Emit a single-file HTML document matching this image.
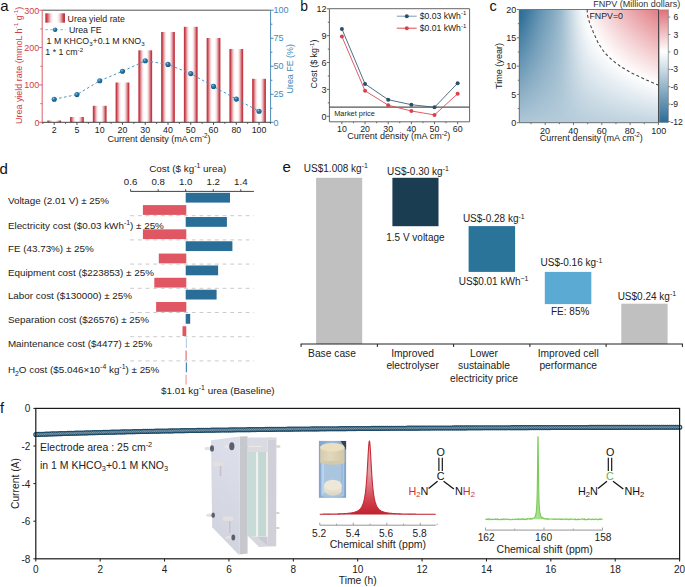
<!DOCTYPE html>
<html><head><meta charset="utf-8"><style>
html,body{margin:0;padding:0;background:#fff;width:685px;height:587px;overflow:hidden}
svg{display:block;font-family:"Liberation Sans", sans-serif}
</style></head><body>
<svg width="685" height="587" viewBox="0 0 685 587">
<defs>
<linearGradient id="barg" x1="0" x2="1" y1="0" y2="0">
<stop offset="0" stop-color="#c0343e"/><stop offset="0.08" stop-color="#c63f49"/>
<stop offset="0.16" stop-color="#d9828a"/><stop offset="0.28" stop-color="#f3d6d9"/>
<stop offset="0.4" stop-color="#ffffff"/><stop offset="0.6" stop-color="#ffffff"/>
<stop offset="0.72" stop-color="#f3d6d9"/><stop offset="0.84" stop-color="#d9828a"/>
<stop offset="0.92" stop-color="#c63f49"/><stop offset="1" stop-color="#c0343e"/></linearGradient>
<radialGradient id="dotg" cx="0.38" cy="0.35" r="0.65">
<stop offset="0" stop-color="#9cc8e4"/><stop offset="0.35" stop-color="#2f7fb0"/><stop offset="1" stop-color="#14557f"/></radialGradient>
<linearGradient id="h0"><stop offset="0" stop-color="#2c6d96"/><stop offset="0.05" stop-color="#38759c"/><stop offset="0.1" stop-color="#4e84a7"/><stop offset="0.15" stop-color="#6293b1"/><stop offset="0.2" stop-color="#749fba"/><stop offset="0.25" stop-color="#86abc3"/><stop offset="0.3" stop-color="#9bbacd"/><stop offset="0.35" stop-color="#bbd0dd"/><stop offset="0.4" stop-color="#dae6ed"/><stop offset="0.45" stop-color="#f6f9fb"/><stop offset="0.5" stop-color="#fcf3f4"/><stop offset="0.55" stop-color="#f9e5e6"/><stop offset="0.6" stop-color="#f6d7da"/><stop offset="0.65" stop-color="#f3cacd"/><stop offset="0.7" stop-color="#f0bec1"/><stop offset="0.75" stop-color="#edb2b6"/><stop offset="0.8" stop-color="#eaa6ab"/><stop offset="0.85" stop-color="#e89ba0"/><stop offset="0.9" stop-color="#e59096"/><stop offset="0.95" stop-color="#e3858c"/><stop offset="1" stop-color="#e17b82"/></linearGradient>
<linearGradient id="h1"><stop offset="0" stop-color="#2c6d96"/><stop offset="0.05" stop-color="#39769c"/><stop offset="0.1" stop-color="#4e85a7"/><stop offset="0.15" stop-color="#6393b1"/><stop offset="0.2" stop-color="#759fba"/><stop offset="0.25" stop-color="#86abc3"/><stop offset="0.3" stop-color="#9bbacd"/><stop offset="0.35" stop-color="#bbd0dd"/><stop offset="0.4" stop-color="#dae5ed"/><stop offset="0.45" stop-color="#f6f8fa"/><stop offset="0.5" stop-color="#fcf4f4"/><stop offset="0.55" stop-color="#f9e6e7"/><stop offset="0.6" stop-color="#f6d9db"/><stop offset="0.65" stop-color="#f3ccce"/><stop offset="0.7" stop-color="#f0bfc3"/><stop offset="0.75" stop-color="#edb3b7"/><stop offset="0.8" stop-color="#eba7ac"/><stop offset="0.85" stop-color="#e89ca2"/><stop offset="0.9" stop-color="#e69197"/><stop offset="0.95" stop-color="#e3878e"/><stop offset="1" stop-color="#e17d84"/></linearGradient>
<linearGradient id="h2"><stop offset="0" stop-color="#2c6d96"/><stop offset="0.05" stop-color="#3a779d"/><stop offset="0.1" stop-color="#4f85a8"/><stop offset="0.15" stop-color="#6493b2"/><stop offset="0.2" stop-color="#75a0ba"/><stop offset="0.25" stop-color="#87acc3"/><stop offset="0.3" stop-color="#9cbacd"/><stop offset="0.35" stop-color="#bbd0dd"/><stop offset="0.4" stop-color="#dae5ec"/><stop offset="0.45" stop-color="#f5f8fa"/><stop offset="0.5" stop-color="#fdf4f5"/><stop offset="0.55" stop-color="#f9e7e8"/><stop offset="0.6" stop-color="#f6dadc"/><stop offset="0.65" stop-color="#f3cdd0"/><stop offset="0.7" stop-color="#f1c0c4"/><stop offset="0.75" stop-color="#eeb4b8"/><stop offset="0.8" stop-color="#eba9ae"/><stop offset="0.85" stop-color="#e99ea3"/><stop offset="0.9" stop-color="#e69399"/><stop offset="0.95" stop-color="#e4888f"/><stop offset="1" stop-color="#e17f86"/></linearGradient>
<linearGradient id="h3"><stop offset="0" stop-color="#2c6d96"/><stop offset="0.05" stop-color="#3b779d"/><stop offset="0.1" stop-color="#5086a8"/><stop offset="0.15" stop-color="#6494b2"/><stop offset="0.2" stop-color="#76a0bb"/><stop offset="0.25" stop-color="#87acc3"/><stop offset="0.3" stop-color="#9cbace"/><stop offset="0.35" stop-color="#bbd0dd"/><stop offset="0.4" stop-color="#d9e5ec"/><stop offset="0.45" stop-color="#f4f8fa"/><stop offset="0.5" stop-color="#fdf5f6"/><stop offset="0.55" stop-color="#fae8e9"/><stop offset="0.6" stop-color="#f7dbdd"/><stop offset="0.65" stop-color="#f4ced1"/><stop offset="0.7" stop-color="#f1c2c5"/><stop offset="0.75" stop-color="#eeb6ba"/><stop offset="0.8" stop-color="#ebaaaf"/><stop offset="0.85" stop-color="#e99fa4"/><stop offset="0.9" stop-color="#e6949a"/><stop offset="0.95" stop-color="#e48a91"/><stop offset="1" stop-color="#e28087"/></linearGradient>
<linearGradient id="h4"><stop offset="0" stop-color="#2c6d96"/><stop offset="0.05" stop-color="#3c789e"/><stop offset="0.1" stop-color="#5187a8"/><stop offset="0.15" stop-color="#6594b2"/><stop offset="0.2" stop-color="#76a0bb"/><stop offset="0.25" stop-color="#87acc3"/><stop offset="0.3" stop-color="#9cbace"/><stop offset="0.35" stop-color="#bbd0dd"/><stop offset="0.4" stop-color="#d9e5ec"/><stop offset="0.45" stop-color="#f4f7f9"/><stop offset="0.5" stop-color="#fdf6f6"/><stop offset="0.55" stop-color="#fae9ea"/><stop offset="0.6" stop-color="#f7dcde"/><stop offset="0.65" stop-color="#f4cfd2"/><stop offset="0.7" stop-color="#f1c3c6"/><stop offset="0.75" stop-color="#eeb7bb"/><stop offset="0.8" stop-color="#ecacb0"/><stop offset="0.85" stop-color="#e9a1a6"/><stop offset="0.9" stop-color="#e7969c"/><stop offset="0.95" stop-color="#e48c92"/><stop offset="1" stop-color="#e28289"/></linearGradient>
<linearGradient id="h5"><stop offset="0" stop-color="#2c6d96"/><stop offset="0.05" stop-color="#3d799e"/><stop offset="0.1" stop-color="#5287a9"/><stop offset="0.15" stop-color="#6695b3"/><stop offset="0.2" stop-color="#77a1bb"/><stop offset="0.25" stop-color="#88adc4"/><stop offset="0.3" stop-color="#9cbbce"/><stop offset="0.35" stop-color="#bad0dd"/><stop offset="0.4" stop-color="#d9e5ec"/><stop offset="0.45" stop-color="#f3f7f9"/><stop offset="0.5" stop-color="#fdf7f7"/><stop offset="0.55" stop-color="#fae9eb"/><stop offset="0.6" stop-color="#f7ddde"/><stop offset="0.65" stop-color="#f4d0d3"/><stop offset="0.7" stop-color="#f1c4c7"/><stop offset="0.75" stop-color="#efb8bc"/><stop offset="0.8" stop-color="#ecadb2"/><stop offset="0.85" stop-color="#eaa2a7"/><stop offset="0.9" stop-color="#e7989d"/><stop offset="0.95" stop-color="#e58d94"/><stop offset="1" stop-color="#e3848b"/></linearGradient>
<linearGradient id="h6"><stop offset="0" stop-color="#2c6d96"/><stop offset="0.05" stop-color="#3e7a9f"/><stop offset="0.1" stop-color="#5388a9"/><stop offset="0.15" stop-color="#6695b3"/><stop offset="0.2" stop-color="#77a1bb"/><stop offset="0.25" stop-color="#88adc4"/><stop offset="0.3" stop-color="#9cbbce"/><stop offset="0.35" stop-color="#bad0dd"/><stop offset="0.4" stop-color="#d8e4ec"/><stop offset="0.45" stop-color="#f3f7f9"/><stop offset="0.5" stop-color="#fdf8f8"/><stop offset="0.55" stop-color="#faeaec"/><stop offset="0.6" stop-color="#f7dedf"/><stop offset="0.65" stop-color="#f4d1d4"/><stop offset="0.7" stop-color="#f2c5c8"/><stop offset="0.75" stop-color="#efbabd"/><stop offset="0.8" stop-color="#ecaeb3"/><stop offset="0.85" stop-color="#eaa4a9"/><stop offset="0.9" stop-color="#e7999f"/><stop offset="0.95" stop-color="#e58f95"/><stop offset="1" stop-color="#e3868c"/></linearGradient>
<linearGradient id="h7"><stop offset="0" stop-color="#2c6d96"/><stop offset="0.05" stop-color="#3f7aa0"/><stop offset="0.1" stop-color="#5488aa"/><stop offset="0.15" stop-color="#6796b3"/><stop offset="0.2" stop-color="#78a1bc"/><stop offset="0.25" stop-color="#89adc4"/><stop offset="0.3" stop-color="#9dbbce"/><stop offset="0.35" stop-color="#bad0dd"/><stop offset="0.4" stop-color="#d8e4ec"/><stop offset="0.45" stop-color="#f2f6f9"/><stop offset="0.5" stop-color="#fdf8f9"/><stop offset="0.55" stop-color="#faebec"/><stop offset="0.6" stop-color="#f8dfe0"/><stop offset="0.65" stop-color="#f5d2d5"/><stop offset="0.7" stop-color="#f2c6ca"/><stop offset="0.75" stop-color="#efbbbf"/><stop offset="0.8" stop-color="#edb0b4"/><stop offset="0.85" stop-color="#eaa5aa"/><stop offset="0.9" stop-color="#e89ba0"/><stop offset="0.95" stop-color="#e69197"/><stop offset="1" stop-color="#e3878e"/></linearGradient>
<linearGradient id="h8"><stop offset="0" stop-color="#2c6d96"/><stop offset="0.05" stop-color="#407ba0"/><stop offset="0.1" stop-color="#5589aa"/><stop offset="0.15" stop-color="#6896b4"/><stop offset="0.2" stop-color="#78a2bc"/><stop offset="0.25" stop-color="#89adc4"/><stop offset="0.3" stop-color="#9dbbce"/><stop offset="0.35" stop-color="#bad0dd"/><stop offset="0.4" stop-color="#d8e4ec"/><stop offset="0.45" stop-color="#f2f6f8"/><stop offset="0.5" stop-color="#fef9f9"/><stop offset="0.55" stop-color="#fbeced"/><stop offset="0.6" stop-color="#f8e0e1"/><stop offset="0.65" stop-color="#f5d3d6"/><stop offset="0.7" stop-color="#f2c8cb"/><stop offset="0.75" stop-color="#f0bcc0"/><stop offset="0.8" stop-color="#edb1b6"/><stop offset="0.85" stop-color="#eba7ac"/><stop offset="0.9" stop-color="#e89ca2"/><stop offset="0.95" stop-color="#e69399"/><stop offset="1" stop-color="#e48990"/></linearGradient>
<linearGradient id="h9"><stop offset="0" stop-color="#2d6e97"/><stop offset="0.05" stop-color="#417ca1"/><stop offset="0.1" stop-color="#558aab"/><stop offset="0.15" stop-color="#6997b4"/><stop offset="0.2" stop-color="#79a2bc"/><stop offset="0.25" stop-color="#89aec4"/><stop offset="0.3" stop-color="#9dbbce"/><stop offset="0.35" stop-color="#bacfdd"/><stop offset="0.4" stop-color="#d8e4eb"/><stop offset="0.45" stop-color="#f1f5f8"/><stop offset="0.5" stop-color="#fefafa"/><stop offset="0.55" stop-color="#fbedee"/><stop offset="0.6" stop-color="#f8e1e2"/><stop offset="0.65" stop-color="#f5d5d7"/><stop offset="0.7" stop-color="#f2c9cc"/><stop offset="0.75" stop-color="#f0bec1"/><stop offset="0.8" stop-color="#edb3b7"/><stop offset="0.85" stop-color="#eba8ad"/><stop offset="0.9" stop-color="#e99ea3"/><stop offset="0.95" stop-color="#e6949a"/><stop offset="1" stop-color="#e48b91"/></linearGradient>
<linearGradient id="h10"><stop offset="0" stop-color="#2e6f97"/><stop offset="0.05" stop-color="#427ca1"/><stop offset="0.1" stop-color="#568aab"/><stop offset="0.15" stop-color="#6997b4"/><stop offset="0.2" stop-color="#7aa3bd"/><stop offset="0.25" stop-color="#8aaec5"/><stop offset="0.3" stop-color="#9dbbce"/><stop offset="0.35" stop-color="#bacfdd"/><stop offset="0.4" stop-color="#d7e3eb"/><stop offset="0.45" stop-color="#f1f5f8"/><stop offset="0.5" stop-color="#fefbfb"/><stop offset="0.55" stop-color="#fbeeef"/><stop offset="0.6" stop-color="#f8e2e3"/><stop offset="0.65" stop-color="#f5d6d8"/><stop offset="0.7" stop-color="#f3cacd"/><stop offset="0.75" stop-color="#f0bfc2"/><stop offset="0.8" stop-color="#eeb4b8"/><stop offset="0.85" stop-color="#ebaaae"/><stop offset="0.9" stop-color="#e9a0a5"/><stop offset="0.95" stop-color="#e7969c"/><stop offset="1" stop-color="#e58d93"/></linearGradient>
<linearGradient id="h11"><stop offset="0" stop-color="#306f98"/><stop offset="0.05" stop-color="#437da2"/><stop offset="0.1" stop-color="#578bab"/><stop offset="0.15" stop-color="#6a98b5"/><stop offset="0.2" stop-color="#7aa3bd"/><stop offset="0.25" stop-color="#8aaec5"/><stop offset="0.3" stop-color="#9ebccf"/><stop offset="0.35" stop-color="#bacfdd"/><stop offset="0.4" stop-color="#d7e3eb"/><stop offset="0.45" stop-color="#f0f5f8"/><stop offset="0.5" stop-color="#fefcfc"/><stop offset="0.55" stop-color="#fbeff0"/><stop offset="0.6" stop-color="#f8e3e4"/><stop offset="0.65" stop-color="#f6d7d9"/><stop offset="0.7" stop-color="#f3cbce"/><stop offset="0.75" stop-color="#f0c0c4"/><stop offset="0.8" stop-color="#eeb5ba"/><stop offset="0.85" stop-color="#ecabb0"/><stop offset="0.9" stop-color="#e9a1a6"/><stop offset="0.95" stop-color="#e7989d"/><stop offset="1" stop-color="#e58e95"/></linearGradient>
<linearGradient id="h12"><stop offset="0" stop-color="#317098"/><stop offset="0.05" stop-color="#447ea2"/><stop offset="0.1" stop-color="#588bac"/><stop offset="0.15" stop-color="#6b98b5"/><stop offset="0.2" stop-color="#7ba3bd"/><stop offset="0.25" stop-color="#8baec5"/><stop offset="0.3" stop-color="#9ebccf"/><stop offset="0.35" stop-color="#bacfdd"/><stop offset="0.4" stop-color="#d7e3eb"/><stop offset="0.45" stop-color="#f0f4f7"/><stop offset="0.5" stop-color="#fefcfc"/><stop offset="0.55" stop-color="#fbf0f1"/><stop offset="0.6" stop-color="#f9e4e5"/><stop offset="0.65" stop-color="#f6d8da"/><stop offset="0.7" stop-color="#f3cccf"/><stop offset="0.75" stop-color="#f1c1c5"/><stop offset="0.8" stop-color="#eeb7bb"/><stop offset="0.85" stop-color="#ecadb1"/><stop offset="0.9" stop-color="#eaa3a8"/><stop offset="0.95" stop-color="#e8999f"/><stop offset="1" stop-color="#e59096"/></linearGradient>
<linearGradient id="h13"><stop offset="0" stop-color="#327199"/><stop offset="0.05" stop-color="#467fa3"/><stop offset="0.1" stop-color="#598cac"/><stop offset="0.15" stop-color="#6b99b6"/><stop offset="0.2" stop-color="#7ba4bd"/><stop offset="0.25" stop-color="#8bafc5"/><stop offset="0.3" stop-color="#9ebccf"/><stop offset="0.35" stop-color="#bacfdd"/><stop offset="0.4" stop-color="#d6e3eb"/><stop offset="0.45" stop-color="#eff4f7"/><stop offset="0.5" stop-color="#fffdfd"/><stop offset="0.55" stop-color="#fcf1f2"/><stop offset="0.6" stop-color="#f9e5e6"/><stop offset="0.65" stop-color="#f6d9db"/><stop offset="0.7" stop-color="#f4ced0"/><stop offset="0.75" stop-color="#f1c3c6"/><stop offset="0.8" stop-color="#efb8bc"/><stop offset="0.85" stop-color="#ecaeb3"/><stop offset="0.9" stop-color="#eaa4a9"/><stop offset="0.95" stop-color="#e89ba0"/><stop offset="1" stop-color="#e69298"/></linearGradient>
<linearGradient id="h14"><stop offset="0" stop-color="#33729a"/><stop offset="0.05" stop-color="#477fa3"/><stop offset="0.1" stop-color="#5a8dad"/><stop offset="0.15" stop-color="#6c99b6"/><stop offset="0.2" stop-color="#7ca4be"/><stop offset="0.25" stop-color="#8bafc5"/><stop offset="0.3" stop-color="#9ebccf"/><stop offset="0.35" stop-color="#bacfdd"/><stop offset="0.4" stop-color="#d6e3eb"/><stop offset="0.45" stop-color="#eef4f7"/><stop offset="0.5" stop-color="#fffefe"/><stop offset="0.55" stop-color="#fcf2f2"/><stop offset="0.6" stop-color="#f9e6e7"/><stop offset="0.65" stop-color="#f6dadc"/><stop offset="0.7" stop-color="#f4cfd2"/><stop offset="0.75" stop-color="#f1c4c7"/><stop offset="0.8" stop-color="#efbabe"/><stop offset="0.85" stop-color="#edb0b4"/><stop offset="0.9" stop-color="#eaa6ab"/><stop offset="0.95" stop-color="#e89da2"/><stop offset="1" stop-color="#e6949a"/></linearGradient>
<linearGradient id="h15"><stop offset="0" stop-color="#35739a"/><stop offset="0.05" stop-color="#4880a4"/><stop offset="0.1" stop-color="#5b8dad"/><stop offset="0.15" stop-color="#6d9ab6"/><stop offset="0.2" stop-color="#7ca5be"/><stop offset="0.25" stop-color="#8cafc6"/><stop offset="0.3" stop-color="#9ebccf"/><stop offset="0.35" stop-color="#bacfdd"/><stop offset="0.4" stop-color="#d6e2ea"/><stop offset="0.45" stop-color="#eef3f6"/><stop offset="0.5" stop-color="#ffffff"/><stop offset="0.55" stop-color="#fcf3f3"/><stop offset="0.6" stop-color="#f9e7e8"/><stop offset="0.65" stop-color="#f7dbdd"/><stop offset="0.7" stop-color="#f4d0d3"/><stop offset="0.75" stop-color="#f2c5c9"/><stop offset="0.8" stop-color="#efbbbf"/><stop offset="0.85" stop-color="#edb1b5"/><stop offset="0.9" stop-color="#eba7ac"/><stop offset="0.95" stop-color="#e99ea4"/><stop offset="1" stop-color="#e7959b"/></linearGradient>
<linearGradient id="h16"><stop offset="0" stop-color="#36749b"/><stop offset="0.05" stop-color="#4981a4"/><stop offset="0.1" stop-color="#5c8eae"/><stop offset="0.15" stop-color="#6d9ab7"/><stop offset="0.2" stop-color="#7da5be"/><stop offset="0.25" stop-color="#8cb0c6"/><stop offset="0.3" stop-color="#9fbccf"/><stop offset="0.35" stop-color="#bacfdd"/><stop offset="0.4" stop-color="#d5e2ea"/><stop offset="0.45" stop-color="#edf3f6"/><stop offset="0.5" stop-color="#ffffff"/><stop offset="0.55" stop-color="#fcf3f4"/><stop offset="0.6" stop-color="#fae8e9"/><stop offset="0.65" stop-color="#f7dcde"/><stop offset="0.7" stop-color="#f4d1d4"/><stop offset="0.75" stop-color="#f2c7ca"/><stop offset="0.8" stop-color="#f0bcc0"/><stop offset="0.85" stop-color="#edb3b7"/><stop offset="0.9" stop-color="#eba9ae"/><stop offset="0.95" stop-color="#e9a0a5"/><stop offset="1" stop-color="#e7979d"/></linearGradient>
<linearGradient id="h17"><stop offset="0" stop-color="#37759b"/><stop offset="0.05" stop-color="#4a82a5"/><stop offset="0.1" stop-color="#5c8fae"/><stop offset="0.15" stop-color="#6e9bb7"/><stop offset="0.2" stop-color="#7da5bf"/><stop offset="0.25" stop-color="#8db0c6"/><stop offset="0.3" stop-color="#9fbdcf"/><stop offset="0.35" stop-color="#bacfdd"/><stop offset="0.4" stop-color="#d5e2ea"/><stop offset="0.45" stop-color="#edf2f6"/><stop offset="0.5" stop-color="#fefefe"/><stop offset="0.55" stop-color="#fdf4f5"/><stop offset="0.6" stop-color="#fae9ea"/><stop offset="0.65" stop-color="#f7dddf"/><stop offset="0.7" stop-color="#f5d3d5"/><stop offset="0.75" stop-color="#f2c8cb"/><stop offset="0.8" stop-color="#f0bec2"/><stop offset="0.85" stop-color="#eeb4b8"/><stop offset="0.9" stop-color="#ecabaf"/><stop offset="0.95" stop-color="#e9a2a7"/><stop offset="1" stop-color="#e7999f"/></linearGradient>
<linearGradient id="h18"><stop offset="0" stop-color="#38759c"/><stop offset="0.05" stop-color="#4b82a5"/><stop offset="0.1" stop-color="#5d8faf"/><stop offset="0.15" stop-color="#6f9bb7"/><stop offset="0.2" stop-color="#7ea6bf"/><stop offset="0.25" stop-color="#8db0c6"/><stop offset="0.3" stop-color="#9fbdcf"/><stop offset="0.35" stop-color="#bacfdd"/><stop offset="0.4" stop-color="#d5e2ea"/><stop offset="0.45" stop-color="#ecf2f6"/><stop offset="0.5" stop-color="#fdfefe"/><stop offset="0.55" stop-color="#fdf5f6"/><stop offset="0.6" stop-color="#faeaeb"/><stop offset="0.65" stop-color="#f8dfe0"/><stop offset="0.7" stop-color="#f5d4d6"/><stop offset="0.75" stop-color="#f3c9cc"/><stop offset="0.8" stop-color="#f0bfc3"/><stop offset="0.85" stop-color="#eeb6ba"/><stop offset="0.9" stop-color="#ecacb1"/><stop offset="0.95" stop-color="#eaa3a8"/><stop offset="1" stop-color="#e89ba0"/></linearGradient>
<linearGradient id="h19"><stop offset="0" stop-color="#3a769d"/><stop offset="0.05" stop-color="#4c83a6"/><stop offset="0.1" stop-color="#5e90af"/><stop offset="0.15" stop-color="#709cb8"/><stop offset="0.2" stop-color="#7fa6bf"/><stop offset="0.25" stop-color="#8db0c7"/><stop offset="0.3" stop-color="#9fbdcf"/><stop offset="0.35" stop-color="#bacfdd"/><stop offset="0.4" stop-color="#d4e2ea"/><stop offset="0.45" stop-color="#ecf2f5"/><stop offset="0.5" stop-color="#fcfdfe"/><stop offset="0.55" stop-color="#fdf6f7"/><stop offset="0.6" stop-color="#faebec"/><stop offset="0.65" stop-color="#f8e0e1"/><stop offset="0.7" stop-color="#f5d5d7"/><stop offset="0.75" stop-color="#f3cbce"/><stop offset="0.8" stop-color="#f1c1c4"/><stop offset="0.85" stop-color="#eeb7bb"/><stop offset="0.9" stop-color="#ecaeb2"/><stop offset="0.95" stop-color="#eaa5aa"/><stop offset="1" stop-color="#e89ca2"/></linearGradient>
<linearGradient id="h20"><stop offset="0" stop-color="#3b779d"/><stop offset="0.05" stop-color="#4d84a6"/><stop offset="0.1" stop-color="#5f90af"/><stop offset="0.15" stop-color="#709cb8"/><stop offset="0.2" stop-color="#7fa6bf"/><stop offset="0.25" stop-color="#8eb1c7"/><stop offset="0.3" stop-color="#a0bdd0"/><stop offset="0.35" stop-color="#bacfdd"/><stop offset="0.4" stop-color="#d4e1ea"/><stop offset="0.45" stop-color="#ebf1f5"/><stop offset="0.5" stop-color="#fcfdfd"/><stop offset="0.55" stop-color="#fdf7f7"/><stop offset="0.6" stop-color="#fbeced"/><stop offset="0.65" stop-color="#f8e1e3"/><stop offset="0.7" stop-color="#f6d6d9"/><stop offset="0.75" stop-color="#f3cccf"/><stop offset="0.8" stop-color="#f1c2c6"/><stop offset="0.85" stop-color="#efb9bd"/><stop offset="0.9" stop-color="#edafb4"/><stop offset="0.95" stop-color="#eba7ab"/><stop offset="1" stop-color="#e99ea3"/></linearGradient>
<linearGradient id="h21"><stop offset="0" stop-color="#3c789e"/><stop offset="0.05" stop-color="#4e85a7"/><stop offset="0.1" stop-color="#6091b0"/><stop offset="0.15" stop-color="#719db8"/><stop offset="0.2" stop-color="#80a7c0"/><stop offset="0.25" stop-color="#8eb1c7"/><stop offset="0.3" stop-color="#a0bdd0"/><stop offset="0.35" stop-color="#bacfdd"/><stop offset="0.4" stop-color="#d4e1e9"/><stop offset="0.45" stop-color="#ebf1f5"/><stop offset="0.5" stop-color="#fbfcfd"/><stop offset="0.55" stop-color="#fdf8f8"/><stop offset="0.6" stop-color="#fbedee"/><stop offset="0.65" stop-color="#f8e2e4"/><stop offset="0.7" stop-color="#f6d7da"/><stop offset="0.75" stop-color="#f4cdd0"/><stop offset="0.8" stop-color="#f1c4c7"/><stop offset="0.85" stop-color="#efbabe"/><stop offset="0.9" stop-color="#edb1b5"/><stop offset="0.95" stop-color="#eba8ad"/><stop offset="1" stop-color="#e9a0a5"/></linearGradient>
<linearGradient id="h22"><stop offset="0" stop-color="#3d799f"/><stop offset="0.05" stop-color="#4f85a7"/><stop offset="0.1" stop-color="#6192b0"/><stop offset="0.15" stop-color="#729db9"/><stop offset="0.2" stop-color="#80a7c0"/><stop offset="0.25" stop-color="#8fb1c7"/><stop offset="0.3" stop-color="#a0bdd0"/><stop offset="0.35" stop-color="#bacfdd"/><stop offset="0.4" stop-color="#d3e1e9"/><stop offset="0.45" stop-color="#eaf0f5"/><stop offset="0.5" stop-color="#fafcfd"/><stop offset="0.55" stop-color="#fef9f9"/><stop offset="0.6" stop-color="#fbeeef"/><stop offset="0.65" stop-color="#f9e3e5"/><stop offset="0.7" stop-color="#f6d9db"/><stop offset="0.75" stop-color="#f4cfd1"/><stop offset="0.8" stop-color="#f2c5c8"/><stop offset="0.85" stop-color="#efbcbf"/><stop offset="0.9" stop-color="#edb3b7"/><stop offset="0.95" stop-color="#ebaaaf"/><stop offset="1" stop-color="#e9a2a7"/></linearGradient>
<linearGradient id="h23"><stop offset="0" stop-color="#3e7a9f"/><stop offset="0.05" stop-color="#5086a8"/><stop offset="0.1" stop-color="#6292b1"/><stop offset="0.15" stop-color="#729eb9"/><stop offset="0.2" stop-color="#81a8c0"/><stop offset="0.25" stop-color="#8fb2c7"/><stop offset="0.3" stop-color="#a0bdd0"/><stop offset="0.35" stop-color="#bacfdd"/><stop offset="0.4" stop-color="#d3e1e9"/><stop offset="0.45" stop-color="#e9f0f4"/><stop offset="0.5" stop-color="#fafbfc"/><stop offset="0.55" stop-color="#fefafa"/><stop offset="0.6" stop-color="#fbeff0"/><stop offset="0.65" stop-color="#f9e4e6"/><stop offset="0.7" stop-color="#f6dadc"/><stop offset="0.75" stop-color="#f4d0d3"/><stop offset="0.8" stop-color="#f2c6ca"/><stop offset="0.85" stop-color="#f0bdc1"/><stop offset="0.9" stop-color="#eeb4b8"/><stop offset="0.95" stop-color="#ecacb0"/><stop offset="1" stop-color="#eaa3a8"/></linearGradient>
<linearGradient id="h24"><stop offset="0" stop-color="#407ba0"/><stop offset="0.05" stop-color="#5187a8"/><stop offset="0.1" stop-color="#6393b1"/><stop offset="0.15" stop-color="#739eb9"/><stop offset="0.2" stop-color="#81a8c0"/><stop offset="0.25" stop-color="#90b2c8"/><stop offset="0.3" stop-color="#a1bed0"/><stop offset="0.35" stop-color="#bacfdc"/><stop offset="0.4" stop-color="#d3e0e9"/><stop offset="0.45" stop-color="#e9f0f4"/><stop offset="0.5" stop-color="#f9fbfc"/><stop offset="0.55" stop-color="#fefbfb"/><stop offset="0.6" stop-color="#fbf0f1"/><stop offset="0.65" stop-color="#f9e5e7"/><stop offset="0.7" stop-color="#f7dbdd"/><stop offset="0.75" stop-color="#f4d1d4"/><stop offset="0.8" stop-color="#f2c8cb"/><stop offset="0.85" stop-color="#f0bfc2"/><stop offset="0.9" stop-color="#eeb6ba"/><stop offset="0.95" stop-color="#ecadb2"/><stop offset="1" stop-color="#eaa5aa"/></linearGradient>
<linearGradient id="h25"><stop offset="0" stop-color="#417ca0"/><stop offset="0.05" stop-color="#5287a9"/><stop offset="0.1" stop-color="#6393b2"/><stop offset="0.15" stop-color="#749fba"/><stop offset="0.2" stop-color="#82a8c1"/><stop offset="0.25" stop-color="#90b2c8"/><stop offset="0.3" stop-color="#a1bed0"/><stop offset="0.35" stop-color="#bacfdc"/><stop offset="0.4" stop-color="#d3e0e9"/><stop offset="0.45" stop-color="#e8eff4"/><stop offset="0.5" stop-color="#f8fafc"/><stop offset="0.55" stop-color="#fefcfc"/><stop offset="0.6" stop-color="#fcf1f2"/><stop offset="0.65" stop-color="#f9e6e8"/><stop offset="0.7" stop-color="#f7dcde"/><stop offset="0.75" stop-color="#f5d3d5"/><stop offset="0.8" stop-color="#f3c9cc"/><stop offset="0.85" stop-color="#f0c0c4"/><stop offset="0.9" stop-color="#eeb7bb"/><stop offset="0.95" stop-color="#edafb3"/><stop offset="1" stop-color="#eba7ac"/></linearGradient>
<linearGradient id="h26"><stop offset="0" stop-color="#427ca1"/><stop offset="0.05" stop-color="#5388aa"/><stop offset="0.1" stop-color="#6494b2"/><stop offset="0.15" stop-color="#749fba"/><stop offset="0.2" stop-color="#82a9c1"/><stop offset="0.25" stop-color="#90b2c8"/><stop offset="0.3" stop-color="#a1bed0"/><stop offset="0.35" stop-color="#bacfdc"/><stop offset="0.4" stop-color="#d2e0e9"/><stop offset="0.45" stop-color="#e8eff3"/><stop offset="0.5" stop-color="#f7fafb"/><stop offset="0.55" stop-color="#fefcfd"/><stop offset="0.6" stop-color="#fcf2f3"/><stop offset="0.65" stop-color="#fae8e9"/><stop offset="0.7" stop-color="#f7dedf"/><stop offset="0.75" stop-color="#f5d4d6"/><stop offset="0.8" stop-color="#f3cbce"/><stop offset="0.85" stop-color="#f1c2c5"/><stop offset="0.9" stop-color="#efb9bd"/><stop offset="0.95" stop-color="#edb1b5"/><stop offset="1" stop-color="#eba9ad"/></linearGradient>
<linearGradient id="h27"><stop offset="0" stop-color="#437da2"/><stop offset="0.05" stop-color="#5489aa"/><stop offset="0.1" stop-color="#6595b2"/><stop offset="0.15" stop-color="#75a0ba"/><stop offset="0.2" stop-color="#83a9c1"/><stop offset="0.25" stop-color="#91b3c8"/><stop offset="0.3" stop-color="#a1bed0"/><stop offset="0.35" stop-color="#bacfdc"/><stop offset="0.4" stop-color="#d2e0e9"/><stop offset="0.45" stop-color="#e7eff3"/><stop offset="0.5" stop-color="#f7f9fb"/><stop offset="0.55" stop-color="#fffdfd"/><stop offset="0.6" stop-color="#fcf3f4"/><stop offset="0.65" stop-color="#fae9ea"/><stop offset="0.7" stop-color="#f8dfe1"/><stop offset="0.75" stop-color="#f5d5d8"/><stop offset="0.8" stop-color="#f3cccf"/><stop offset="0.85" stop-color="#f1c3c6"/><stop offset="0.9" stop-color="#efbabe"/><stop offset="0.95" stop-color="#edb2b7"/><stop offset="1" stop-color="#ebaaaf"/></linearGradient>
<linearGradient id="h28"><stop offset="0" stop-color="#457ea2"/><stop offset="0.05" stop-color="#558aab"/><stop offset="0.1" stop-color="#6695b3"/><stop offset="0.15" stop-color="#76a0bb"/><stop offset="0.2" stop-color="#83aac2"/><stop offset="0.25" stop-color="#91b3c8"/><stop offset="0.3" stop-color="#a1bed0"/><stop offset="0.35" stop-color="#b9cfdc"/><stop offset="0.4" stop-color="#d2e0e8"/><stop offset="0.45" stop-color="#e7eef3"/><stop offset="0.5" stop-color="#f6f9fa"/><stop offset="0.55" stop-color="#fffefe"/><stop offset="0.6" stop-color="#fcf4f4"/><stop offset="0.65" stop-color="#faeaeb"/><stop offset="0.7" stop-color="#f8e0e2"/><stop offset="0.75" stop-color="#f6d7d9"/><stop offset="0.8" stop-color="#f4cdd0"/><stop offset="0.85" stop-color="#f2c5c8"/><stop offset="0.9" stop-color="#f0bcc0"/><stop offset="0.95" stop-color="#eeb4b8"/><stop offset="1" stop-color="#ecacb1"/></linearGradient>
<linearGradient id="h29"><stop offset="0" stop-color="#467fa3"/><stop offset="0.05" stop-color="#568aab"/><stop offset="0.1" stop-color="#6796b3"/><stop offset="0.15" stop-color="#77a1bb"/><stop offset="0.2" stop-color="#84aac2"/><stop offset="0.25" stop-color="#92b3c9"/><stop offset="0.3" stop-color="#a2bed1"/><stop offset="0.35" stop-color="#b9cfdc"/><stop offset="0.4" stop-color="#d1dfe8"/><stop offset="0.45" stop-color="#e6eef3"/><stop offset="0.5" stop-color="#f5f8fa"/><stop offset="0.55" stop-color="#ffffff"/><stop offset="0.6" stop-color="#fdf5f5"/><stop offset="0.65" stop-color="#faebec"/><stop offset="0.7" stop-color="#f8e1e3"/><stop offset="0.75" stop-color="#f6d8da"/><stop offset="0.8" stop-color="#f4cfd2"/><stop offset="0.85" stop-color="#f2c6c9"/><stop offset="0.9" stop-color="#f0bec1"/><stop offset="0.95" stop-color="#eeb6ba"/><stop offset="1" stop-color="#ecaeb2"/></linearGradient>
<linearGradient id="h30"><stop offset="0" stop-color="#4780a4"/><stop offset="0.05" stop-color="#578bac"/><stop offset="0.1" stop-color="#6896b4"/><stop offset="0.15" stop-color="#77a1bb"/><stop offset="0.2" stop-color="#85aac2"/><stop offset="0.25" stop-color="#92b4c9"/><stop offset="0.3" stop-color="#a2bfd1"/><stop offset="0.35" stop-color="#b9cfdc"/><stop offset="0.4" stop-color="#d1dfe8"/><stop offset="0.45" stop-color="#e6edf2"/><stop offset="0.5" stop-color="#f5f8fa"/><stop offset="0.55" stop-color="#fefeff"/><stop offset="0.6" stop-color="#fdf6f6"/><stop offset="0.65" stop-color="#fbeced"/><stop offset="0.7" stop-color="#f8e2e4"/><stop offset="0.75" stop-color="#f6d9db"/><stop offset="0.8" stop-color="#f4d0d3"/><stop offset="0.85" stop-color="#f2c8cb"/><stop offset="0.9" stop-color="#f0bfc3"/><stop offset="0.95" stop-color="#eeb7bb"/><stop offset="1" stop-color="#edb0b4"/></linearGradient>
<linearGradient id="h31"><stop offset="0" stop-color="#4881a4"/><stop offset="0.05" stop-color="#598cac"/><stop offset="0.1" stop-color="#6997b4"/><stop offset="0.15" stop-color="#78a2bc"/><stop offset="0.2" stop-color="#85abc2"/><stop offset="0.25" stop-color="#92b4c9"/><stop offset="0.3" stop-color="#a2bfd1"/><stop offset="0.35" stop-color="#b9cfdc"/><stop offset="0.4" stop-color="#d1dfe8"/><stop offset="0.45" stop-color="#e5edf2"/><stop offset="0.5" stop-color="#f4f7f9"/><stop offset="0.55" stop-color="#fdfefe"/><stop offset="0.6" stop-color="#fdf7f7"/><stop offset="0.65" stop-color="#fbedee"/><stop offset="0.7" stop-color="#f9e4e5"/><stop offset="0.75" stop-color="#f7dadd"/><stop offset="0.8" stop-color="#f5d2d4"/><stop offset="0.85" stop-color="#f3c9cc"/><stop offset="0.9" stop-color="#f1c1c4"/><stop offset="0.95" stop-color="#efb9bd"/><stop offset="1" stop-color="#edb1b6"/></linearGradient>
<linearGradient id="h32"><stop offset="0" stop-color="#4a82a5"/><stop offset="0.05" stop-color="#5a8dad"/><stop offset="0.1" stop-color="#6a98b5"/><stop offset="0.15" stop-color="#79a2bc"/><stop offset="0.2" stop-color="#86abc3"/><stop offset="0.25" stop-color="#93b4c9"/><stop offset="0.3" stop-color="#a2bfd1"/><stop offset="0.35" stop-color="#b9cfdc"/><stop offset="0.4" stop-color="#d0dfe8"/><stop offset="0.45" stop-color="#e5edf2"/><stop offset="0.5" stop-color="#f3f7f9"/><stop offset="0.55" stop-color="#fcfdfe"/><stop offset="0.6" stop-color="#fdf8f8"/><stop offset="0.65" stop-color="#fbeeef"/><stop offset="0.7" stop-color="#f9e5e6"/><stop offset="0.75" stop-color="#f7dcde"/><stop offset="0.8" stop-color="#f5d3d6"/><stop offset="0.85" stop-color="#f3cbce"/><stop offset="0.9" stop-color="#f1c2c6"/><stop offset="0.95" stop-color="#efbbbe"/><stop offset="1" stop-color="#edb3b7"/></linearGradient>
<linearGradient id="h33"><stop offset="0" stop-color="#4b82a5"/><stop offset="0.05" stop-color="#5b8dad"/><stop offset="0.1" stop-color="#6a98b5"/><stop offset="0.15" stop-color="#79a3bc"/><stop offset="0.2" stop-color="#86abc3"/><stop offset="0.25" stop-color="#93b4c9"/><stop offset="0.3" stop-color="#a3bfd1"/><stop offset="0.35" stop-color="#b9cfdc"/><stop offset="0.4" stop-color="#d0dee8"/><stop offset="0.45" stop-color="#e4ecf2"/><stop offset="0.5" stop-color="#f2f6f9"/><stop offset="0.55" stop-color="#fcfdfd"/><stop offset="0.6" stop-color="#fef9f9"/><stop offset="0.65" stop-color="#fbeff0"/><stop offset="0.7" stop-color="#f9e6e7"/><stop offset="0.75" stop-color="#f7dddf"/><stop offset="0.8" stop-color="#f5d4d7"/><stop offset="0.85" stop-color="#f3cccf"/><stop offset="0.9" stop-color="#f1c4c7"/><stop offset="0.95" stop-color="#f0bcc0"/><stop offset="1" stop-color="#eeb5b9"/></linearGradient>
<linearGradient id="h34"><stop offset="0" stop-color="#4c83a6"/><stop offset="0.05" stop-color="#5c8eae"/><stop offset="0.1" stop-color="#6b99b6"/><stop offset="0.15" stop-color="#7aa3bd"/><stop offset="0.2" stop-color="#87acc3"/><stop offset="0.25" stop-color="#94b5ca"/><stop offset="0.3" stop-color="#a3bfd1"/><stop offset="0.35" stop-color="#b9cfdc"/><stop offset="0.4" stop-color="#d0dee7"/><stop offset="0.45" stop-color="#e3ecf1"/><stop offset="0.5" stop-color="#f2f6f8"/><stop offset="0.55" stop-color="#fbfcfd"/><stop offset="0.6" stop-color="#fefafa"/><stop offset="0.65" stop-color="#fcf0f1"/><stop offset="0.7" stop-color="#fae7e9"/><stop offset="0.75" stop-color="#f7dee0"/><stop offset="0.8" stop-color="#f6d6d8"/><stop offset="0.85" stop-color="#f4ced0"/><stop offset="0.9" stop-color="#f2c6c9"/><stop offset="0.95" stop-color="#f0bec2"/><stop offset="1" stop-color="#eeb7bb"/></linearGradient>
<linearGradient id="h35"><stop offset="0" stop-color="#4d84a7"/><stop offset="0.05" stop-color="#5d8fae"/><stop offset="0.1" stop-color="#6c99b6"/><stop offset="0.15" stop-color="#7ba3bd"/><stop offset="0.2" stop-color="#87acc3"/><stop offset="0.25" stop-color="#94b5ca"/><stop offset="0.3" stop-color="#a3bfd1"/><stop offset="0.35" stop-color="#b9cfdc"/><stop offset="0.4" stop-color="#cfdee7"/><stop offset="0.45" stop-color="#e3ecf1"/><stop offset="0.5" stop-color="#f1f5f8"/><stop offset="0.55" stop-color="#fafbfc"/><stop offset="0.6" stop-color="#fefbfb"/><stop offset="0.65" stop-color="#fcf2f2"/><stop offset="0.7" stop-color="#fae9ea"/><stop offset="0.75" stop-color="#f8e0e2"/><stop offset="0.8" stop-color="#f6d7d9"/><stop offset="0.85" stop-color="#f4cfd2"/><stop offset="0.9" stop-color="#f2c7ca"/><stop offset="0.95" stop-color="#f0c0c3"/><stop offset="1" stop-color="#efb8bc"/></linearGradient>
<linearGradient id="h36"><stop offset="0" stop-color="#4f85a7"/><stop offset="0.05" stop-color="#5e8faf"/><stop offset="0.1" stop-color="#6d9ab6"/><stop offset="0.15" stop-color="#7ba4be"/><stop offset="0.2" stop-color="#88adc4"/><stop offset="0.25" stop-color="#94b5ca"/><stop offset="0.3" stop-color="#a3bfd1"/><stop offset="0.35" stop-color="#b9cfdc"/><stop offset="0.4" stop-color="#cfdee7"/><stop offset="0.45" stop-color="#e2ebf1"/><stop offset="0.5" stop-color="#f0f5f8"/><stop offset="0.55" stop-color="#f9fbfc"/><stop offset="0.6" stop-color="#fefcfc"/><stop offset="0.65" stop-color="#fcf3f3"/><stop offset="0.7" stop-color="#faeaeb"/><stop offset="0.75" stop-color="#f8e1e3"/><stop offset="0.8" stop-color="#f6d9db"/><stop offset="0.85" stop-color="#f4d1d3"/><stop offset="0.9" stop-color="#f2c9cc"/><stop offset="0.95" stop-color="#f1c1c5"/><stop offset="1" stop-color="#efbabe"/></linearGradient>
<linearGradient id="h37"><stop offset="0" stop-color="#5086a8"/><stop offset="0.05" stop-color="#5f90af"/><stop offset="0.1" stop-color="#6e9bb7"/><stop offset="0.15" stop-color="#7ca4be"/><stop offset="0.2" stop-color="#88adc4"/><stop offset="0.25" stop-color="#95b5ca"/><stop offset="0.3" stop-color="#a3c0d1"/><stop offset="0.35" stop-color="#b9cfdc"/><stop offset="0.4" stop-color="#cfdee7"/><stop offset="0.45" stop-color="#e2ebf0"/><stop offset="0.5" stop-color="#eff4f7"/><stop offset="0.55" stop-color="#f8fafc"/><stop offset="0.6" stop-color="#fffdfd"/><stop offset="0.65" stop-color="#fcf4f4"/><stop offset="0.7" stop-color="#faebec"/><stop offset="0.75" stop-color="#f8e2e4"/><stop offset="0.8" stop-color="#f6dadc"/><stop offset="0.85" stop-color="#f5d2d5"/><stop offset="0.9" stop-color="#f3cacd"/><stop offset="0.95" stop-color="#f1c3c6"/><stop offset="1" stop-color="#efbcc0"/></linearGradient>
<linearGradient id="h38"><stop offset="0" stop-color="#5187a8"/><stop offset="0.05" stop-color="#6091b0"/><stop offset="0.1" stop-color="#6f9bb7"/><stop offset="0.15" stop-color="#7da5be"/><stop offset="0.2" stop-color="#89adc4"/><stop offset="0.25" stop-color="#95b6ca"/><stop offset="0.3" stop-color="#a4c0d2"/><stop offset="0.35" stop-color="#b9cfdc"/><stop offset="0.4" stop-color="#cedde7"/><stop offset="0.45" stop-color="#e1eaf0"/><stop offset="0.5" stop-color="#eff4f7"/><stop offset="0.55" stop-color="#f7fafb"/><stop offset="0.6" stop-color="#fffefe"/><stop offset="0.65" stop-color="#fdf5f6"/><stop offset="0.7" stop-color="#fbeced"/><stop offset="0.75" stop-color="#f9e4e5"/><stop offset="0.8" stop-color="#f7dcdd"/><stop offset="0.85" stop-color="#f5d4d6"/><stop offset="0.9" stop-color="#f3cccf"/><stop offset="0.95" stop-color="#f2c5c8"/><stop offset="1" stop-color="#f0bec1"/></linearGradient>
<linearGradient id="h39"><stop offset="0" stop-color="#5288a9"/><stop offset="0.05" stop-color="#6192b0"/><stop offset="0.1" stop-color="#709cb8"/><stop offset="0.15" stop-color="#7ea5bf"/><stop offset="0.2" stop-color="#8aaec5"/><stop offset="0.25" stop-color="#96b6cb"/><stop offset="0.3" stop-color="#a4c0d2"/><stop offset="0.35" stop-color="#b9cfdc"/><stop offset="0.4" stop-color="#cedde7"/><stop offset="0.45" stop-color="#e1eaf0"/><stop offset="0.5" stop-color="#eef3f7"/><stop offset="0.55" stop-color="#f7f9fb"/><stop offset="0.6" stop-color="#ffffff"/><stop offset="0.65" stop-color="#fdf6f7"/><stop offset="0.7" stop-color="#fbedee"/><stop offset="0.75" stop-color="#f9e5e6"/><stop offset="0.8" stop-color="#f7dddf"/><stop offset="0.85" stop-color="#f5d5d7"/><stop offset="0.9" stop-color="#f4ced0"/><stop offset="0.95" stop-color="#f2c6c9"/><stop offset="1" stop-color="#f0bfc3"/></linearGradient>
<linearGradient id="h40"><stop offset="0" stop-color="#5488aa"/><stop offset="0.05" stop-color="#6292b1"/><stop offset="0.1" stop-color="#719cb8"/><stop offset="0.15" stop-color="#7ea6bf"/><stop offset="0.2" stop-color="#8aaec5"/><stop offset="0.25" stop-color="#96b6cb"/><stop offset="0.3" stop-color="#a4c0d2"/><stop offset="0.35" stop-color="#b9cfdc"/><stop offset="0.4" stop-color="#cedde7"/><stop offset="0.45" stop-color="#e0eaf0"/><stop offset="0.5" stop-color="#edf3f6"/><stop offset="0.55" stop-color="#f6f9fa"/><stop offset="0.6" stop-color="#fefeff"/><stop offset="0.65" stop-color="#fdf7f8"/><stop offset="0.7" stop-color="#fbeff0"/><stop offset="0.75" stop-color="#f9e6e8"/><stop offset="0.8" stop-color="#f7dee0"/><stop offset="0.85" stop-color="#f6d7d9"/><stop offset="0.9" stop-color="#f4cfd2"/><stop offset="0.95" stop-color="#f2c8cb"/><stop offset="1" stop-color="#f1c1c4"/></linearGradient>
<linearGradient id="h41"><stop offset="0" stop-color="#5589aa"/><stop offset="0.05" stop-color="#6393b1"/><stop offset="0.1" stop-color="#719db9"/><stop offset="0.15" stop-color="#7fa6bf"/><stop offset="0.2" stop-color="#8bafc5"/><stop offset="0.25" stop-color="#96b7cb"/><stop offset="0.3" stop-color="#a4c0d2"/><stop offset="0.35" stop-color="#b9cfdc"/><stop offset="0.4" stop-color="#cddde6"/><stop offset="0.45" stop-color="#e0e9ef"/><stop offset="0.5" stop-color="#edf2f6"/><stop offset="0.55" stop-color="#f5f8fa"/><stop offset="0.6" stop-color="#fdfefe"/><stop offset="0.65" stop-color="#fdf8f9"/><stop offset="0.7" stop-color="#fcf0f1"/><stop offset="0.75" stop-color="#fae8e9"/><stop offset="0.8" stop-color="#f8e0e1"/><stop offset="0.85" stop-color="#f6d8da"/><stop offset="0.9" stop-color="#f4d1d3"/><stop offset="0.95" stop-color="#f3cacd"/><stop offset="1" stop-color="#f1c3c6"/></linearGradient>
<linearGradient id="h42"><stop offset="0" stop-color="#568aab"/><stop offset="0.05" stop-color="#6494b2"/><stop offset="0.1" stop-color="#729eb9"/><stop offset="0.15" stop-color="#80a7c0"/><stop offset="0.2" stop-color="#8bafc5"/><stop offset="0.25" stop-color="#97b7cb"/><stop offset="0.3" stop-color="#a5c0d2"/><stop offset="0.35" stop-color="#b9cedc"/><stop offset="0.4" stop-color="#cddde6"/><stop offset="0.45" stop-color="#dfe9ef"/><stop offset="0.5" stop-color="#ecf2f6"/><stop offset="0.55" stop-color="#f4f8fa"/><stop offset="0.6" stop-color="#fcfdfe"/><stop offset="0.65" stop-color="#fef9fa"/><stop offset="0.7" stop-color="#fcf1f2"/><stop offset="0.75" stop-color="#fae9ea"/><stop offset="0.8" stop-color="#f8e1e3"/><stop offset="0.85" stop-color="#f6dadc"/><stop offset="0.9" stop-color="#f5d2d5"/><stop offset="0.95" stop-color="#f3cbce"/><stop offset="1" stop-color="#f2c5c8"/></linearGradient>
<linearGradient id="h43"><stop offset="0" stop-color="#578bac"/><stop offset="0.05" stop-color="#6595b2"/><stop offset="0.1" stop-color="#739eb9"/><stop offset="0.15" stop-color="#80a7c0"/><stop offset="0.2" stop-color="#8cafc6"/><stop offset="0.25" stop-color="#97b7cb"/><stop offset="0.3" stop-color="#a5c1d2"/><stop offset="0.35" stop-color="#b9cedc"/><stop offset="0.4" stop-color="#cddce6"/><stop offset="0.45" stop-color="#dee8ef"/><stop offset="0.5" stop-color="#ebf1f5"/><stop offset="0.55" stop-color="#f3f7f9"/><stop offset="0.6" stop-color="#fbfcfd"/><stop offset="0.65" stop-color="#fefbfb"/><stop offset="0.7" stop-color="#fcf2f3"/><stop offset="0.75" stop-color="#faeaeb"/><stop offset="0.8" stop-color="#f8e3e4"/><stop offset="0.85" stop-color="#f7dbdd"/><stop offset="0.9" stop-color="#f5d4d6"/><stop offset="0.95" stop-color="#f3cdd0"/><stop offset="1" stop-color="#f2c6c9"/></linearGradient>
<linearGradient id="h44"><stop offset="0" stop-color="#598cac"/><stop offset="0.05" stop-color="#6695b3"/><stop offset="0.1" stop-color="#749fba"/><stop offset="0.15" stop-color="#81a8c0"/><stop offset="0.2" stop-color="#8cb0c6"/><stop offset="0.25" stop-color="#98b7cc"/><stop offset="0.3" stop-color="#a5c1d2"/><stop offset="0.35" stop-color="#b9cedc"/><stop offset="0.4" stop-color="#cddce6"/><stop offset="0.45" stop-color="#dee8ef"/><stop offset="0.5" stop-color="#eaf1f5"/><stop offset="0.55" stop-color="#f3f6f9"/><stop offset="0.6" stop-color="#fafcfd"/><stop offset="0.65" stop-color="#fefcfc"/><stop offset="0.7" stop-color="#fcf4f4"/><stop offset="0.75" stop-color="#fbeced"/><stop offset="0.8" stop-color="#f9e4e5"/><stop offset="0.85" stop-color="#f7dddf"/><stop offset="0.9" stop-color="#f5d5d8"/><stop offset="0.95" stop-color="#f4cfd1"/><stop offset="1" stop-color="#f2c8cb"/></linearGradient>
<linearGradient id="h45"><stop offset="0" stop-color="#5a8dad"/><stop offset="0.05" stop-color="#6796b4"/><stop offset="0.1" stop-color="#759fba"/><stop offset="0.15" stop-color="#82a8c1"/><stop offset="0.2" stop-color="#8db0c6"/><stop offset="0.25" stop-color="#98b8cc"/><stop offset="0.3" stop-color="#a5c1d2"/><stop offset="0.35" stop-color="#b9cedc"/><stop offset="0.4" stop-color="#ccdce6"/><stop offset="0.45" stop-color="#dde8ee"/><stop offset="0.5" stop-color="#eaf0f4"/><stop offset="0.55" stop-color="#f2f6f8"/><stop offset="0.6" stop-color="#f9fbfc"/><stop offset="0.65" stop-color="#fefdfd"/><stop offset="0.7" stop-color="#fdf5f5"/><stop offset="0.75" stop-color="#fbedee"/><stop offset="0.8" stop-color="#f9e5e7"/><stop offset="0.85" stop-color="#f7dee0"/><stop offset="0.9" stop-color="#f6d7d9"/><stop offset="0.95" stop-color="#f4d0d3"/><stop offset="1" stop-color="#f3cacd"/></linearGradient>
<linearGradient id="h46"><stop offset="0" stop-color="#5b8ead"/><stop offset="0.05" stop-color="#6897b4"/><stop offset="0.1" stop-color="#76a0bb"/><stop offset="0.15" stop-color="#82a9c1"/><stop offset="0.2" stop-color="#8db0c6"/><stop offset="0.25" stop-color="#98b8cc"/><stop offset="0.3" stop-color="#a5c1d2"/><stop offset="0.35" stop-color="#b9cedc"/><stop offset="0.4" stop-color="#ccdce6"/><stop offset="0.45" stop-color="#dde7ee"/><stop offset="0.5" stop-color="#e9f0f4"/><stop offset="0.55" stop-color="#f1f5f8"/><stop offset="0.6" stop-color="#f9fbfc"/><stop offset="0.65" stop-color="#fffefe"/><stop offset="0.7" stop-color="#fdf6f6"/><stop offset="0.75" stop-color="#fbeeef"/><stop offset="0.8" stop-color="#f9e7e8"/><stop offset="0.85" stop-color="#f8e0e1"/><stop offset="0.9" stop-color="#f6d9db"/><stop offset="0.95" stop-color="#f5d2d4"/><stop offset="1" stop-color="#f3ccce"/></linearGradient>
<linearGradient id="h47"><stop offset="0" stop-color="#5c8eae"/><stop offset="0.05" stop-color="#6998b5"/><stop offset="0.1" stop-color="#77a1bb"/><stop offset="0.15" stop-color="#83a9c1"/><stop offset="0.2" stop-color="#8eb1c7"/><stop offset="0.25" stop-color="#99b8cc"/><stop offset="0.3" stop-color="#a6c1d3"/><stop offset="0.35" stop-color="#b9cedc"/><stop offset="0.4" stop-color="#ccdbe5"/><stop offset="0.45" stop-color="#dce7ee"/><stop offset="0.5" stop-color="#e8eff4"/><stop offset="0.55" stop-color="#f0f5f8"/><stop offset="0.6" stop-color="#f8fafb"/><stop offset="0.65" stop-color="#ffffff"/><stop offset="0.7" stop-color="#fdf7f8"/><stop offset="0.75" stop-color="#fbf0f0"/><stop offset="0.8" stop-color="#fae8e9"/><stop offset="0.85" stop-color="#f8e1e3"/><stop offset="0.9" stop-color="#f7dadc"/><stop offset="0.95" stop-color="#f5d4d6"/><stop offset="1" stop-color="#f4cdd0"/></linearGradient>
<linearGradient id="h48"><stop offset="0" stop-color="#5e8faf"/><stop offset="0.05" stop-color="#6b98b5"/><stop offset="0.1" stop-color="#78a1bc"/><stop offset="0.15" stop-color="#84aac2"/><stop offset="0.2" stop-color="#8fb1c7"/><stop offset="0.25" stop-color="#99b9cc"/><stop offset="0.3" stop-color="#a6c1d3"/><stop offset="0.35" stop-color="#b9cedc"/><stop offset="0.4" stop-color="#cbdbe5"/><stop offset="0.45" stop-color="#dce7ed"/><stop offset="0.5" stop-color="#e8eff3"/><stop offset="0.55" stop-color="#eff4f7"/><stop offset="0.6" stop-color="#f7f9fb"/><stop offset="0.65" stop-color="#fefefe"/><stop offset="0.7" stop-color="#fdf8f9"/><stop offset="0.75" stop-color="#fcf1f2"/><stop offset="0.8" stop-color="#faeaeb"/><stop offset="0.85" stop-color="#f8e3e4"/><stop offset="0.9" stop-color="#f7dcde"/><stop offset="0.95" stop-color="#f5d5d8"/><stop offset="1" stop-color="#f4cfd2"/></linearGradient>
<linearGradient id="h49"><stop offset="0" stop-color="#5f90af"/><stop offset="0.05" stop-color="#6c99b6"/><stop offset="0.1" stop-color="#78a2bc"/><stop offset="0.15" stop-color="#85aac2"/><stop offset="0.2" stop-color="#8fb2c7"/><stop offset="0.25" stop-color="#9ab9cd"/><stop offset="0.3" stop-color="#a6c2d3"/><stop offset="0.35" stop-color="#b9cedc"/><stop offset="0.4" stop-color="#cbdbe5"/><stop offset="0.45" stop-color="#dbe6ed"/><stop offset="0.5" stop-color="#e7eef3"/><stop offset="0.55" stop-color="#eef4f7"/><stop offset="0.6" stop-color="#f6f9fa"/><stop offset="0.65" stop-color="#fdfefe"/><stop offset="0.7" stop-color="#fefafa"/><stop offset="0.75" stop-color="#fcf2f3"/><stop offset="0.8" stop-color="#faebec"/><stop offset="0.85" stop-color="#f9e4e6"/><stop offset="0.9" stop-color="#f7dddf"/><stop offset="0.95" stop-color="#f6d7d9"/><stop offset="1" stop-color="#f4d1d3"/></linearGradient>
<linearGradient id="h50"><stop offset="0" stop-color="#6091b0"/><stop offset="0.05" stop-color="#6d9ab6"/><stop offset="0.1" stop-color="#79a2bc"/><stop offset="0.15" stop-color="#85abc2"/><stop offset="0.2" stop-color="#90b2c8"/><stop offset="0.25" stop-color="#9ab9cd"/><stop offset="0.3" stop-color="#a6c2d3"/><stop offset="0.35" stop-color="#b9cedc"/><stop offset="0.4" stop-color="#cbdbe5"/><stop offset="0.45" stop-color="#dbe6ed"/><stop offset="0.5" stop-color="#e6eef3"/><stop offset="0.55" stop-color="#eef3f6"/><stop offset="0.6" stop-color="#f5f8fa"/><stop offset="0.65" stop-color="#fcfdfd"/><stop offset="0.7" stop-color="#fefbfb"/><stop offset="0.75" stop-color="#fcf4f4"/><stop offset="0.8" stop-color="#fbeced"/><stop offset="0.85" stop-color="#f9e6e7"/><stop offset="0.9" stop-color="#f8dfe1"/><stop offset="0.95" stop-color="#f6d9db"/><stop offset="1" stop-color="#f5d3d5"/></linearGradient>
<linearGradient id="h51"><stop offset="0" stop-color="#6192b0"/><stop offset="0.05" stop-color="#6e9ab7"/><stop offset="0.1" stop-color="#7aa3bd"/><stop offset="0.15" stop-color="#86abc3"/><stop offset="0.2" stop-color="#90b2c8"/><stop offset="0.25" stop-color="#9ab9cd"/><stop offset="0.3" stop-color="#a7c2d3"/><stop offset="0.35" stop-color="#b8cedc"/><stop offset="0.4" stop-color="#cadbe5"/><stop offset="0.45" stop-color="#dae5ed"/><stop offset="0.5" stop-color="#e5edf2"/><stop offset="0.55" stop-color="#edf2f6"/><stop offset="0.6" stop-color="#f4f7fa"/><stop offset="0.65" stop-color="#fbfcfd"/><stop offset="0.7" stop-color="#fefcfc"/><stop offset="0.75" stop-color="#fdf5f5"/><stop offset="0.8" stop-color="#fbeeef"/><stop offset="0.85" stop-color="#f9e7e8"/><stop offset="0.9" stop-color="#f8e1e2"/><stop offset="0.95" stop-color="#f7dadc"/><stop offset="1" stop-color="#f5d4d7"/></linearGradient>
<linearGradient id="h52"><stop offset="0" stop-color="#6293b1"/><stop offset="0.05" stop-color="#6f9bb7"/><stop offset="0.1" stop-color="#7ba4bd"/><stop offset="0.15" stop-color="#87acc3"/><stop offset="0.2" stop-color="#91b3c8"/><stop offset="0.25" stop-color="#9bbacd"/><stop offset="0.3" stop-color="#a7c2d3"/><stop offset="0.35" stop-color="#b8cedc"/><stop offset="0.4" stop-color="#cadae5"/><stop offset="0.45" stop-color="#dae5ec"/><stop offset="0.5" stop-color="#e5edf2"/><stop offset="0.55" stop-color="#ecf2f6"/><stop offset="0.6" stop-color="#f3f7f9"/><stop offset="0.65" stop-color="#fafbfc"/><stop offset="0.7" stop-color="#fffdfd"/><stop offset="0.75" stop-color="#fdf6f7"/><stop offset="0.8" stop-color="#fbeff0"/><stop offset="0.85" stop-color="#fae9ea"/><stop offset="0.9" stop-color="#f8e2e4"/><stop offset="0.95" stop-color="#f7dcde"/><stop offset="1" stop-color="#f6d6d8"/></linearGradient>
<linearGradient id="h53"><stop offset="0" stop-color="#6494b2"/><stop offset="0.05" stop-color="#709cb8"/><stop offset="0.1" stop-color="#7ca4be"/><stop offset="0.15" stop-color="#87acc3"/><stop offset="0.2" stop-color="#91b3c8"/><stop offset="0.25" stop-color="#9bbacd"/><stop offset="0.3" stop-color="#a7c2d3"/><stop offset="0.35" stop-color="#b8cedc"/><stop offset="0.4" stop-color="#cadae4"/><stop offset="0.45" stop-color="#d9e5ec"/><stop offset="0.5" stop-color="#e4ecf2"/><stop offset="0.55" stop-color="#ebf1f5"/><stop offset="0.6" stop-color="#f2f6f9"/><stop offset="0.65" stop-color="#f9fbfc"/><stop offset="0.7" stop-color="#fffeff"/><stop offset="0.75" stop-color="#fdf7f8"/><stop offset="0.8" stop-color="#fcf1f1"/><stop offset="0.85" stop-color="#faeaeb"/><stop offset="0.9" stop-color="#f9e4e5"/><stop offset="0.95" stop-color="#f7dee0"/><stop offset="1" stop-color="#f6d8da"/></linearGradient>
<linearGradient id="h54"><stop offset="0" stop-color="#6594b2"/><stop offset="0.05" stop-color="#719db8"/><stop offset="0.1" stop-color="#7da5be"/><stop offset="0.15" stop-color="#88adc4"/><stop offset="0.2" stop-color="#92b3c9"/><stop offset="0.25" stop-color="#9cbace"/><stop offset="0.3" stop-color="#a7c2d3"/><stop offset="0.35" stop-color="#b8cedc"/><stop offset="0.4" stop-color="#c9dae4"/><stop offset="0.45" stop-color="#d8e4ec"/><stop offset="0.5" stop-color="#e3ecf1"/><stop offset="0.55" stop-color="#eaf1f5"/><stop offset="0.6" stop-color="#f1f5f8"/><stop offset="0.65" stop-color="#f8fafb"/><stop offset="0.7" stop-color="#feffff"/><stop offset="0.75" stop-color="#fef9f9"/><stop offset="0.8" stop-color="#fcf2f3"/><stop offset="0.85" stop-color="#fbeced"/><stop offset="0.9" stop-color="#f9e5e7"/><stop offset="0.95" stop-color="#f8dfe1"/><stop offset="1" stop-color="#f6d9dc"/></linearGradient>
<linearGradient id="h55"><stop offset="0" stop-color="#6695b3"/><stop offset="0.05" stop-color="#729db9"/><stop offset="0.1" stop-color="#7ea6bf"/><stop offset="0.15" stop-color="#89adc4"/><stop offset="0.2" stop-color="#92b4c9"/><stop offset="0.25" stop-color="#9cbbce"/><stop offset="0.3" stop-color="#a8c2d3"/><stop offset="0.35" stop-color="#b8cedc"/><stop offset="0.4" stop-color="#c9dae4"/><stop offset="0.45" stop-color="#d8e4ec"/><stop offset="0.5" stop-color="#e3ebf1"/><stop offset="0.55" stop-color="#eaf0f4"/><stop offset="0.6" stop-color="#f0f5f8"/><stop offset="0.65" stop-color="#f7f9fb"/><stop offset="0.7" stop-color="#fdfefe"/><stop offset="0.75" stop-color="#fefafa"/><stop offset="0.8" stop-color="#fcf3f4"/><stop offset="0.85" stop-color="#fbedee"/><stop offset="0.9" stop-color="#f9e7e8"/><stop offset="0.95" stop-color="#f8e1e3"/><stop offset="1" stop-color="#f7dbdd"/></linearGradient>
<linearGradient id="h56"><stop offset="0" stop-color="#6796b4"/><stop offset="0.05" stop-color="#739eb9"/><stop offset="0.1" stop-color="#7fa6bf"/><stop offset="0.15" stop-color="#89aec5"/><stop offset="0.2" stop-color="#93b4c9"/><stop offset="0.25" stop-color="#9cbbce"/><stop offset="0.3" stop-color="#a8c3d4"/><stop offset="0.35" stop-color="#b8cedc"/><stop offset="0.4" stop-color="#c9d9e4"/><stop offset="0.45" stop-color="#d7e4eb"/><stop offset="0.5" stop-color="#e2ebf1"/><stop offset="0.55" stop-color="#e9f0f4"/><stop offset="0.6" stop-color="#eff4f7"/><stop offset="0.65" stop-color="#f6f9fa"/><stop offset="0.7" stop-color="#fcfdfe"/><stop offset="0.75" stop-color="#fefbfc"/><stop offset="0.8" stop-color="#fdf5f5"/><stop offset="0.85" stop-color="#fbeff0"/><stop offset="0.9" stop-color="#fae9ea"/><stop offset="0.95" stop-color="#f8e3e4"/><stop offset="1" stop-color="#f7dddf"/></linearGradient>
<linearGradient id="h57"><stop offset="0" stop-color="#6997b4"/><stop offset="0.05" stop-color="#749fba"/><stop offset="0.1" stop-color="#7fa7c0"/><stop offset="0.15" stop-color="#8aaec5"/><stop offset="0.2" stop-color="#94b5ca"/><stop offset="0.25" stop-color="#9dbbce"/><stop offset="0.3" stop-color="#a8c3d4"/><stop offset="0.35" stop-color="#b8cedc"/><stop offset="0.4" stop-color="#c8d9e4"/><stop offset="0.45" stop-color="#d7e3eb"/><stop offset="0.5" stop-color="#e1eaf0"/><stop offset="0.55" stop-color="#e8eff4"/><stop offset="0.6" stop-color="#eef4f7"/><stop offset="0.65" stop-color="#f5f8fa"/><stop offset="0.7" stop-color="#fbfcfd"/><stop offset="0.75" stop-color="#fefdfd"/><stop offset="0.8" stop-color="#fdf6f7"/><stop offset="0.85" stop-color="#fcf0f1"/><stop offset="0.9" stop-color="#faeaeb"/><stop offset="0.95" stop-color="#f9e4e6"/><stop offset="1" stop-color="#f8dfe1"/></linearGradient>
<linearGradient id="h58"><stop offset="0" stop-color="#6a98b5"/><stop offset="0.05" stop-color="#75a0ba"/><stop offset="0.1" stop-color="#80a7c0"/><stop offset="0.15" stop-color="#8bafc5"/><stop offset="0.2" stop-color="#94b5ca"/><stop offset="0.25" stop-color="#9dbbce"/><stop offset="0.3" stop-color="#a8c3d4"/><stop offset="0.35" stop-color="#b8cedc"/><stop offset="0.4" stop-color="#c8d9e4"/><stop offset="0.45" stop-color="#d6e3eb"/><stop offset="0.5" stop-color="#e0eaf0"/><stop offset="0.55" stop-color="#e7eef3"/><stop offset="0.6" stop-color="#eef3f6"/><stop offset="0.65" stop-color="#f4f7f9"/><stop offset="0.7" stop-color="#fafcfc"/><stop offset="0.75" stop-color="#fffefe"/><stop offset="0.8" stop-color="#fdf8f8"/><stop offset="0.85" stop-color="#fcf2f2"/><stop offset="0.9" stop-color="#fbeced"/><stop offset="0.95" stop-color="#f9e6e7"/><stop offset="1" stop-color="#f8e0e2"/></linearGradient>
<linearGradient id="h59"><stop offset="0" stop-color="#6b99b5"/><stop offset="0.05" stop-color="#76a0bb"/><stop offset="0.1" stop-color="#81a8c0"/><stop offset="0.15" stop-color="#8cafc6"/><stop offset="0.2" stop-color="#95b5ca"/><stop offset="0.25" stop-color="#9ebccf"/><stop offset="0.3" stop-color="#a8c3d4"/><stop offset="0.35" stop-color="#b8cedc"/><stop offset="0.4" stop-color="#c8d9e4"/><stop offset="0.45" stop-color="#d6e2ea"/><stop offset="0.5" stop-color="#e0e9ef"/><stop offset="0.55" stop-color="#e6eef3"/><stop offset="0.6" stop-color="#edf2f6"/><stop offset="0.65" stop-color="#f3f7f9"/><stop offset="0.7" stop-color="#f9fbfc"/><stop offset="0.75" stop-color="#ffffff"/><stop offset="0.8" stop-color="#fef9f9"/><stop offset="0.85" stop-color="#fcf3f4"/><stop offset="0.9" stop-color="#fbedee"/><stop offset="0.95" stop-color="#fae8e9"/><stop offset="1" stop-color="#f8e2e4"/></linearGradient>
<linearGradient id="h60"><stop offset="0" stop-color="#6c9ab6"/><stop offset="0.05" stop-color="#77a1bb"/><stop offset="0.1" stop-color="#82a9c1"/><stop offset="0.15" stop-color="#8cb0c6"/><stop offset="0.2" stop-color="#95b6ca"/><stop offset="0.25" stop-color="#9ebccf"/><stop offset="0.3" stop-color="#a9c3d4"/><stop offset="0.35" stop-color="#b8cedc"/><stop offset="0.4" stop-color="#c8d9e3"/><stop offset="0.45" stop-color="#d5e2ea"/><stop offset="0.5" stop-color="#dfe9ef"/><stop offset="0.55" stop-color="#e5edf2"/><stop offset="0.6" stop-color="#ecf2f5"/><stop offset="0.65" stop-color="#f2f6f8"/><stop offset="0.7" stop-color="#f8fafb"/><stop offset="0.75" stop-color="#fdfefe"/><stop offset="0.8" stop-color="#fefbfb"/><stop offset="0.85" stop-color="#fdf5f5"/><stop offset="0.9" stop-color="#fbeff0"/><stop offset="0.95" stop-color="#fae9eb"/><stop offset="1" stop-color="#f9e4e5"/></linearGradient>
<linearGradient id="h61"><stop offset="0" stop-color="#6e9ab7"/><stop offset="0.05" stop-color="#78a2bc"/><stop offset="0.1" stop-color="#83a9c1"/><stop offset="0.15" stop-color="#8db0c6"/><stop offset="0.2" stop-color="#96b6cb"/><stop offset="0.25" stop-color="#9fbccf"/><stop offset="0.3" stop-color="#a9c3d4"/><stop offset="0.35" stop-color="#b8cedc"/><stop offset="0.4" stop-color="#c7d8e3"/><stop offset="0.45" stop-color="#d5e2ea"/><stop offset="0.5" stop-color="#dee8ef"/><stop offset="0.55" stop-color="#e5edf2"/><stop offset="0.6" stop-color="#ebf1f5"/><stop offset="0.65" stop-color="#f1f5f8"/><stop offset="0.7" stop-color="#f7f9fb"/><stop offset="0.75" stop-color="#fcfdfe"/><stop offset="0.8" stop-color="#fefcfc"/><stop offset="0.85" stop-color="#fdf6f7"/><stop offset="0.9" stop-color="#fcf0f1"/><stop offset="0.95" stop-color="#faebec"/><stop offset="1" stop-color="#f9e6e7"/></linearGradient>
<linearGradient id="h62"><stop offset="0" stop-color="#6f9bb7"/><stop offset="0.05" stop-color="#79a3bc"/><stop offset="0.1" stop-color="#84aac2"/><stop offset="0.15" stop-color="#8eb1c7"/><stop offset="0.2" stop-color="#96b7cb"/><stop offset="0.25" stop-color="#9fbdcf"/><stop offset="0.3" stop-color="#a9c4d4"/><stop offset="0.35" stop-color="#b8cedc"/><stop offset="0.4" stop-color="#c7d8e3"/><stop offset="0.45" stop-color="#d4e1ea"/><stop offset="0.5" stop-color="#dee8ee"/><stop offset="0.55" stop-color="#e4ecf1"/><stop offset="0.6" stop-color="#eaf0f5"/><stop offset="0.65" stop-color="#f0f4f7"/><stop offset="0.7" stop-color="#f6f8fa"/><stop offset="0.75" stop-color="#fbfcfd"/><stop offset="0.8" stop-color="#fffdfd"/><stop offset="0.85" stop-color="#fdf8f8"/><stop offset="0.9" stop-color="#fcf2f3"/><stop offset="0.95" stop-color="#fbedee"/><stop offset="1" stop-color="#fae7e9"/></linearGradient>
<linearGradient id="h63"><stop offset="0" stop-color="#709cb8"/><stop offset="0.05" stop-color="#7aa3bd"/><stop offset="0.1" stop-color="#85aac2"/><stop offset="0.15" stop-color="#8eb1c7"/><stop offset="0.2" stop-color="#97b7cb"/><stop offset="0.25" stop-color="#9fbdcf"/><stop offset="0.3" stop-color="#a9c4d4"/><stop offset="0.35" stop-color="#b8cedc"/><stop offset="0.4" stop-color="#c7d8e3"/><stop offset="0.45" stop-color="#d3e1e9"/><stop offset="0.5" stop-color="#dde7ee"/><stop offset="0.55" stop-color="#e3ecf1"/><stop offset="0.6" stop-color="#e9f0f4"/><stop offset="0.65" stop-color="#eff4f7"/><stop offset="0.7" stop-color="#f4f8fa"/><stop offset="0.75" stop-color="#fafbfc"/><stop offset="0.8" stop-color="#ffffff"/><stop offset="0.85" stop-color="#fef9f9"/><stop offset="0.9" stop-color="#fcf4f4"/><stop offset="0.95" stop-color="#fbeeef"/><stop offset="1" stop-color="#fae9ea"/></linearGradient>
<linearGradient id="h64"><stop offset="0" stop-color="#719db9"/><stop offset="0.05" stop-color="#7ba4be"/><stop offset="0.1" stop-color="#86abc3"/><stop offset="0.15" stop-color="#8fb2c7"/><stop offset="0.2" stop-color="#97b7cb"/><stop offset="0.25" stop-color="#a0bdd0"/><stop offset="0.3" stop-color="#aac4d4"/><stop offset="0.35" stop-color="#b8cedc"/><stop offset="0.4" stop-color="#c6d8e3"/><stop offset="0.45" stop-color="#d3e0e9"/><stop offset="0.5" stop-color="#dce7ee"/><stop offset="0.55" stop-color="#e2ebf1"/><stop offset="0.6" stop-color="#e8eff4"/><stop offset="0.65" stop-color="#eef3f6"/><stop offset="0.7" stop-color="#f3f7f9"/><stop offset="0.75" stop-color="#f9fbfc"/><stop offset="0.8" stop-color="#fefefe"/><stop offset="0.85" stop-color="#fefbfb"/><stop offset="0.9" stop-color="#fdf5f6"/><stop offset="0.95" stop-color="#fcf0f1"/><stop offset="1" stop-color="#faebec"/></linearGradient>
<linearGradient id="h65"><stop offset="0" stop-color="#739eb9"/><stop offset="0.05" stop-color="#7da5be"/><stop offset="0.1" stop-color="#86acc3"/><stop offset="0.15" stop-color="#90b2c8"/><stop offset="0.2" stop-color="#98b8cc"/><stop offset="0.25" stop-color="#a0bdd0"/><stop offset="0.3" stop-color="#aac4d5"/><stop offset="0.35" stop-color="#b8cedc"/><stop offset="0.4" stop-color="#c6d8e3"/><stop offset="0.45" stop-color="#d2e0e9"/><stop offset="0.5" stop-color="#dbe6ed"/><stop offset="0.55" stop-color="#e1eaf0"/><stop offset="0.6" stop-color="#e7eef3"/><stop offset="0.65" stop-color="#edf2f6"/><stop offset="0.7" stop-color="#f2f6f9"/><stop offset="0.75" stop-color="#f8fafb"/><stop offset="0.8" stop-color="#fdfdfe"/><stop offset="0.85" stop-color="#fefcfc"/><stop offset="0.9" stop-color="#fdf7f7"/><stop offset="0.95" stop-color="#fcf2f2"/><stop offset="1" stop-color="#fbedee"/></linearGradient>
<linearGradient id="h66"><stop offset="0" stop-color="#749fba"/><stop offset="0.05" stop-color="#7ea5bf"/><stop offset="0.1" stop-color="#87acc3"/><stop offset="0.15" stop-color="#90b3c8"/><stop offset="0.2" stop-color="#99b8cc"/><stop offset="0.25" stop-color="#a1bed0"/><stop offset="0.3" stop-color="#aac4d5"/><stop offset="0.35" stop-color="#b8cedc"/><stop offset="0.4" stop-color="#c6d7e2"/><stop offset="0.45" stop-color="#d2e0e9"/><stop offset="0.5" stop-color="#dbe6ed"/><stop offset="0.55" stop-color="#e1eaf0"/><stop offset="0.6" stop-color="#e6eef3"/><stop offset="0.65" stop-color="#ecf2f5"/><stop offset="0.7" stop-color="#f1f5f8"/><stop offset="0.75" stop-color="#f6f9fb"/><stop offset="0.8" stop-color="#fbfcfd"/><stop offset="0.85" stop-color="#fffefe"/><stop offset="0.9" stop-color="#fdf8f9"/><stop offset="0.95" stop-color="#fcf3f4"/><stop offset="1" stop-color="#fbeeef"/></linearGradient>
<linearGradient id="h67"><stop offset="0" stop-color="#75a0ba"/><stop offset="0.05" stop-color="#7fa6bf"/><stop offset="0.1" stop-color="#88adc4"/><stop offset="0.15" stop-color="#91b3c8"/><stop offset="0.2" stop-color="#99b8cc"/><stop offset="0.25" stop-color="#a1bed0"/><stop offset="0.3" stop-color="#aac4d5"/><stop offset="0.35" stop-color="#b8cedc"/><stop offset="0.4" stop-color="#c5d7e2"/><stop offset="0.45" stop-color="#d1dfe8"/><stop offset="0.5" stop-color="#dae5ed"/><stop offset="0.55" stop-color="#e0e9ef"/><stop offset="0.6" stop-color="#e5edf2"/><stop offset="0.65" stop-color="#ebf1f5"/><stop offset="0.7" stop-color="#f0f5f8"/><stop offset="0.75" stop-color="#f5f8fa"/><stop offset="0.8" stop-color="#fafcfd"/><stop offset="0.85" stop-color="#ffffff"/><stop offset="0.9" stop-color="#fefafa"/><stop offset="0.95" stop-color="#fdf5f6"/><stop offset="1" stop-color="#fcf0f1"/></linearGradient>
<linearGradient id="h68"><stop offset="0" stop-color="#76a0bb"/><stop offset="0.05" stop-color="#80a7c0"/><stop offset="0.1" stop-color="#89adc4"/><stop offset="0.15" stop-color="#92b4c9"/><stop offset="0.2" stop-color="#9ab9cd"/><stop offset="0.25" stop-color="#a1bed0"/><stop offset="0.3" stop-color="#aac5d5"/><stop offset="0.35" stop-color="#b8cedc"/><stop offset="0.4" stop-color="#c5d7e2"/><stop offset="0.45" stop-color="#d1dfe8"/><stop offset="0.5" stop-color="#d9e5ec"/><stop offset="0.55" stop-color="#dfe9ef"/><stop offset="0.6" stop-color="#e4edf2"/><stop offset="0.65" stop-color="#eaf0f4"/><stop offset="0.7" stop-color="#eff4f7"/><stop offset="0.75" stop-color="#f4f7f9"/><stop offset="0.8" stop-color="#f9fbfc"/><stop offset="0.85" stop-color="#fefefe"/><stop offset="0.9" stop-color="#fefcfc"/><stop offset="0.95" stop-color="#fdf7f7"/><stop offset="1" stop-color="#fcf2f3"/></linearGradient>
<linearGradient id="h69"><stop offset="0" stop-color="#78a1bc"/><stop offset="0.05" stop-color="#81a8c0"/><stop offset="0.1" stop-color="#8aaec5"/><stop offset="0.15" stop-color="#93b4c9"/><stop offset="0.2" stop-color="#9ab9cd"/><stop offset="0.25" stop-color="#a2bed1"/><stop offset="0.3" stop-color="#abc5d5"/><stop offset="0.35" stop-color="#b8cedc"/><stop offset="0.4" stop-color="#c5d7e2"/><stop offset="0.45" stop-color="#d0dfe8"/><stop offset="0.5" stop-color="#d9e4ec"/><stop offset="0.55" stop-color="#dee8ef"/><stop offset="0.6" stop-color="#e3ecf1"/><stop offset="0.65" stop-color="#e9f0f4"/><stop offset="0.7" stop-color="#eef3f6"/><stop offset="0.75" stop-color="#f3f7f9"/><stop offset="0.8" stop-color="#f8fafb"/><stop offset="0.85" stop-color="#fcfdfe"/><stop offset="0.9" stop-color="#fffdfd"/><stop offset="0.95" stop-color="#fdf8f9"/><stop offset="1" stop-color="#fcf4f4"/></linearGradient>
<linearGradient id="h70"><stop offset="0" stop-color="#79a2bc"/><stop offset="0.05" stop-color="#82a8c1"/><stop offset="0.1" stop-color="#8bafc5"/><stop offset="0.15" stop-color="#93b4c9"/><stop offset="0.2" stop-color="#9bbacd"/><stop offset="0.25" stop-color="#a2bfd1"/><stop offset="0.3" stop-color="#abc5d5"/><stop offset="0.35" stop-color="#b8cedb"/><stop offset="0.4" stop-color="#c4d6e2"/><stop offset="0.45" stop-color="#d0dee7"/><stop offset="0.5" stop-color="#d8e4ec"/><stop offset="0.55" stop-color="#dde8ee"/><stop offset="0.6" stop-color="#e3ebf1"/><stop offset="0.65" stop-color="#e8eff3"/><stop offset="0.7" stop-color="#edf2f6"/><stop offset="0.75" stop-color="#f2f6f8"/><stop offset="0.8" stop-color="#f6f9fb"/><stop offset="0.85" stop-color="#fbfcfd"/><stop offset="0.9" stop-color="#ffffff"/><stop offset="0.95" stop-color="#fefafa"/><stop offset="1" stop-color="#fdf5f6"/></linearGradient>
<linearGradient id="h71"><stop offset="0" stop-color="#7aa3bd"/><stop offset="0.05" stop-color="#83a9c1"/><stop offset="0.1" stop-color="#8cafc6"/><stop offset="0.15" stop-color="#94b5ca"/><stop offset="0.2" stop-color="#9bbacd"/><stop offset="0.25" stop-color="#a3bfd1"/><stop offset="0.3" stop-color="#abc5d5"/><stop offset="0.35" stop-color="#b8cedb"/><stop offset="0.4" stop-color="#c4d6e2"/><stop offset="0.45" stop-color="#cfdee7"/><stop offset="0.5" stop-color="#d7e3eb"/><stop offset="0.55" stop-color="#dce7ee"/><stop offset="0.6" stop-color="#e2ebf0"/><stop offset="0.65" stop-color="#e7eef3"/><stop offset="0.7" stop-color="#ecf2f5"/><stop offset="0.75" stop-color="#f0f5f8"/><stop offset="0.8" stop-color="#f5f8fa"/><stop offset="0.85" stop-color="#f9fbfc"/><stop offset="0.9" stop-color="#fefefe"/><stop offset="0.95" stop-color="#fefcfc"/><stop offset="1" stop-color="#fdf7f8"/></linearGradient>
<linearGradient id="h72"><stop offset="0" stop-color="#7ba4bd"/><stop offset="0.05" stop-color="#84aac2"/><stop offset="0.1" stop-color="#8db0c6"/><stop offset="0.15" stop-color="#95b5ca"/><stop offset="0.2" stop-color="#9cbace"/><stop offset="0.25" stop-color="#a3bfd1"/><stop offset="0.3" stop-color="#abc5d5"/><stop offset="0.35" stop-color="#b8cedb"/><stop offset="0.4" stop-color="#c4d6e2"/><stop offset="0.45" stop-color="#cfdde7"/><stop offset="0.5" stop-color="#d6e3eb"/><stop offset="0.55" stop-color="#dce7ed"/><stop offset="0.6" stop-color="#e1eaf0"/><stop offset="0.65" stop-color="#e6edf2"/><stop offset="0.7" stop-color="#eaf1f5"/><stop offset="0.75" stop-color="#eff4f7"/><stop offset="0.8" stop-color="#f4f7f9"/><stop offset="0.85" stop-color="#f8fafc"/><stop offset="0.9" stop-color="#fcfdfe"/><stop offset="0.95" stop-color="#fffdfd"/><stop offset="1" stop-color="#fef9f9"/></linearGradient>
<linearGradient id="h73"><stop offset="0" stop-color="#7da5be"/><stop offset="0.05" stop-color="#85abc2"/><stop offset="0.1" stop-color="#8db0c6"/><stop offset="0.15" stop-color="#95b6ca"/><stop offset="0.2" stop-color="#9cbbce"/><stop offset="0.25" stop-color="#a3c0d1"/><stop offset="0.3" stop-color="#acc5d6"/><stop offset="0.35" stop-color="#b8cedb"/><stop offset="0.4" stop-color="#c3d6e1"/><stop offset="0.45" stop-color="#cedde7"/><stop offset="0.5" stop-color="#d6e2ea"/><stop offset="0.55" stop-color="#dbe6ed"/><stop offset="0.6" stop-color="#e0e9ef"/><stop offset="0.65" stop-color="#e5edf2"/><stop offset="0.7" stop-color="#e9f0f4"/><stop offset="0.75" stop-color="#eef3f7"/><stop offset="0.8" stop-color="#f2f6f9"/><stop offset="0.85" stop-color="#f7f9fb"/><stop offset="0.9" stop-color="#fbfcfd"/><stop offset="0.95" stop-color="#ffffff"/><stop offset="1" stop-color="#fefbfb"/></linearGradient>
<linearGradient id="h74"><stop offset="0" stop-color="#7ea6bf"/><stop offset="0.05" stop-color="#86abc3"/><stop offset="0.1" stop-color="#8eb1c7"/><stop offset="0.15" stop-color="#96b6cb"/><stop offset="0.2" stop-color="#9dbbce"/><stop offset="0.25" stop-color="#a4c0d2"/><stop offset="0.3" stop-color="#acc5d6"/><stop offset="0.35" stop-color="#b7cedb"/><stop offset="0.4" stop-color="#c3d6e1"/><stop offset="0.45" stop-color="#cddde6"/><stop offset="0.5" stop-color="#d5e2ea"/><stop offset="0.55" stop-color="#dae5ed"/><stop offset="0.6" stop-color="#dfe9ef"/><stop offset="0.65" stop-color="#e4ecf1"/><stop offset="0.7" stop-color="#e8eff4"/><stop offset="0.75" stop-color="#edf2f6"/><stop offset="0.8" stop-color="#f1f5f8"/><stop offset="0.85" stop-color="#f5f8fa"/><stop offset="0.9" stop-color="#f9fbfc"/><stop offset="0.95" stop-color="#fdfefe"/><stop offset="1" stop-color="#fefcfd"/></linearGradient>
<linearGradient id="h75"><stop offset="0" stop-color="#7fa6bf"/><stop offset="0.05" stop-color="#87acc3"/><stop offset="0.1" stop-color="#8fb2c7"/><stop offset="0.15" stop-color="#97b7cb"/><stop offset="0.2" stop-color="#9dbcce"/><stop offset="0.25" stop-color="#a4c0d2"/><stop offset="0.3" stop-color="#acc6d6"/><stop offset="0.35" stop-color="#b7cddb"/><stop offset="0.4" stop-color="#c3d5e1"/><stop offset="0.45" stop-color="#cddce6"/><stop offset="0.5" stop-color="#d4e1ea"/><stop offset="0.55" stop-color="#d9e5ec"/><stop offset="0.6" stop-color="#dee8ef"/><stop offset="0.65" stop-color="#e3ebf1"/><stop offset="0.7" stop-color="#e7eff3"/><stop offset="0.75" stop-color="#ecf2f5"/><stop offset="0.8" stop-color="#f0f5f7"/><stop offset="0.85" stop-color="#f4f7fa"/><stop offset="0.9" stop-color="#f8fafc"/><stop offset="0.95" stop-color="#fcfdfd"/><stop offset="1" stop-color="#fffefe"/></linearGradient>
<linearGradient id="h76"><stop offset="0" stop-color="#80a7c0"/><stop offset="0.05" stop-color="#88adc4"/><stop offset="0.1" stop-color="#90b2c8"/><stop offset="0.15" stop-color="#98b7cb"/><stop offset="0.2" stop-color="#9ebccf"/><stop offset="0.25" stop-color="#a5c0d2"/><stop offset="0.3" stop-color="#acc6d6"/><stop offset="0.35" stop-color="#b7cddb"/><stop offset="0.4" stop-color="#c2d5e1"/><stop offset="0.45" stop-color="#ccdce6"/><stop offset="0.5" stop-color="#d4e1e9"/><stop offset="0.55" stop-color="#d8e4ec"/><stop offset="0.6" stop-color="#dde8ee"/><stop offset="0.65" stop-color="#e2ebf0"/><stop offset="0.7" stop-color="#e6eef3"/><stop offset="0.75" stop-color="#eaf1f5"/><stop offset="0.8" stop-color="#eff4f7"/><stop offset="0.85" stop-color="#f3f6f9"/><stop offset="0.9" stop-color="#f7f9fb"/><stop offset="0.95" stop-color="#fafcfd"/><stop offset="1" stop-color="#fefeff"/></linearGradient>
<linearGradient id="h77"><stop offset="0" stop-color="#82a8c1"/><stop offset="0.05" stop-color="#89aec4"/><stop offset="0.1" stop-color="#91b3c8"/><stop offset="0.15" stop-color="#98b8cc"/><stop offset="0.2" stop-color="#9fbccf"/><stop offset="0.25" stop-color="#a5c1d2"/><stop offset="0.3" stop-color="#adc6d6"/><stop offset="0.35" stop-color="#b7cddb"/><stop offset="0.4" stop-color="#c2d5e1"/><stop offset="0.45" stop-color="#ccdce5"/><stop offset="0.5" stop-color="#d3e0e9"/><stop offset="0.55" stop-color="#d8e4eb"/><stop offset="0.6" stop-color="#dce7ee"/><stop offset="0.65" stop-color="#e1eaf0"/><stop offset="0.7" stop-color="#e5edf2"/><stop offset="0.75" stop-color="#e9f0f4"/><stop offset="0.8" stop-color="#edf3f6"/><stop offset="0.85" stop-color="#f1f6f8"/><stop offset="0.9" stop-color="#f5f8fa"/><stop offset="0.95" stop-color="#f9fbfc"/><stop offset="1" stop-color="#fdfdfe"/></linearGradient>
<linearGradient id="h78"><stop offset="0" stop-color="#83a9c1"/><stop offset="0.05" stop-color="#8aaec5"/><stop offset="0.1" stop-color="#92b3c9"/><stop offset="0.15" stop-color="#99b8cc"/><stop offset="0.2" stop-color="#9fbdcf"/><stop offset="0.25" stop-color="#a5c1d2"/><stop offset="0.3" stop-color="#adc6d6"/><stop offset="0.35" stop-color="#b7cddb"/><stop offset="0.4" stop-color="#c2d5e1"/><stop offset="0.45" stop-color="#cbdbe5"/><stop offset="0.5" stop-color="#d2e0e9"/><stop offset="0.55" stop-color="#d7e3eb"/><stop offset="0.6" stop-color="#dbe6ed"/><stop offset="0.65" stop-color="#e0e9ef"/><stop offset="0.7" stop-color="#e4ecf2"/><stop offset="0.75" stop-color="#e8eff4"/><stop offset="0.8" stop-color="#ecf2f6"/><stop offset="0.85" stop-color="#f0f5f8"/><stop offset="0.9" stop-color="#f4f7f9"/><stop offset="0.95" stop-color="#f7fafb"/><stop offset="1" stop-color="#fbfcfd"/></linearGradient>
<linearGradient id="h79"><stop offset="0" stop-color="#84aac2"/><stop offset="0.05" stop-color="#8bafc5"/><stop offset="0.1" stop-color="#93b4c9"/><stop offset="0.15" stop-color="#9ab9cd"/><stop offset="0.2" stop-color="#a0bdd0"/><stop offset="0.25" stop-color="#a6c1d3"/><stop offset="0.3" stop-color="#adc6d6"/><stop offset="0.35" stop-color="#b7cddb"/><stop offset="0.4" stop-color="#c2d4e0"/><stop offset="0.45" stop-color="#cbdbe5"/><stop offset="0.5" stop-color="#d1dfe8"/><stop offset="0.55" stop-color="#d6e3eb"/><stop offset="0.6" stop-color="#dae6ed"/><stop offset="0.65" stop-color="#dfe9ef"/><stop offset="0.7" stop-color="#e3ebf1"/><stop offset="0.75" stop-color="#e7eef3"/><stop offset="0.8" stop-color="#ebf1f5"/><stop offset="0.85" stop-color="#eff4f7"/><stop offset="0.9" stop-color="#f2f6f9"/><stop offset="0.95" stop-color="#f6f9fa"/><stop offset="1" stop-color="#f9fbfc"/></linearGradient>
<linearGradient id="h80"><stop offset="0" stop-color="#85abc2"/><stop offset="0.05" stop-color="#8cb0c6"/><stop offset="0.1" stop-color="#94b5ca"/><stop offset="0.15" stop-color="#9ab9cd"/><stop offset="0.2" stop-color="#a0bdd0"/><stop offset="0.25" stop-color="#a6c2d3"/><stop offset="0.3" stop-color="#adc6d6"/><stop offset="0.35" stop-color="#b7cddb"/><stop offset="0.4" stop-color="#c1d4e0"/><stop offset="0.45" stop-color="#cadae5"/><stop offset="0.5" stop-color="#d1dfe8"/><stop offset="0.55" stop-color="#d5e2ea"/><stop offset="0.6" stop-color="#d9e5ec"/><stop offset="0.65" stop-color="#dee8ee"/><stop offset="0.7" stop-color="#e2ebf0"/><stop offset="0.75" stop-color="#e6edf2"/><stop offset="0.8" stop-color="#e9f0f4"/><stop offset="0.85" stop-color="#edf3f6"/><stop offset="0.9" stop-color="#f1f5f8"/><stop offset="0.95" stop-color="#f4f8fa"/><stop offset="1" stop-color="#f8fafb"/></linearGradient>
<linearGradient id="h81"><stop offset="0" stop-color="#86acc3"/><stop offset="0.05" stop-color="#8db0c6"/><stop offset="0.1" stop-color="#94b5ca"/><stop offset="0.15" stop-color="#9bbacd"/><stop offset="0.2" stop-color="#a1bed0"/><stop offset="0.25" stop-color="#a7c2d3"/><stop offset="0.3" stop-color="#adc7d6"/><stop offset="0.35" stop-color="#b7cddb"/><stop offset="0.4" stop-color="#c1d4e0"/><stop offset="0.45" stop-color="#cadae4"/><stop offset="0.5" stop-color="#d0dee8"/><stop offset="0.55" stop-color="#d4e1ea"/><stop offset="0.6" stop-color="#d8e4ec"/><stop offset="0.65" stop-color="#dde7ee"/><stop offset="0.7" stop-color="#e1eaf0"/><stop offset="0.75" stop-color="#e4edf2"/><stop offset="0.8" stop-color="#e8eff4"/><stop offset="0.85" stop-color="#ecf2f5"/><stop offset="0.9" stop-color="#eff4f7"/><stop offset="0.95" stop-color="#f3f7f9"/><stop offset="1" stop-color="#f6f9fb"/></linearGradient>
<linearGradient id="h82"><stop offset="0" stop-color="#88acc4"/><stop offset="0.05" stop-color="#8fb1c7"/><stop offset="0.1" stop-color="#95b6ca"/><stop offset="0.15" stop-color="#9cbace"/><stop offset="0.2" stop-color="#a1bed0"/><stop offset="0.25" stop-color="#a7c2d3"/><stop offset="0.3" stop-color="#aec7d7"/><stop offset="0.35" stop-color="#b7cddb"/><stop offset="0.4" stop-color="#c1d4e0"/><stop offset="0.45" stop-color="#c9dae4"/><stop offset="0.5" stop-color="#cfdee7"/><stop offset="0.55" stop-color="#d3e1e9"/><stop offset="0.6" stop-color="#d8e4eb"/><stop offset="0.65" stop-color="#dce6ed"/><stop offset="0.7" stop-color="#dfe9ef"/><stop offset="0.75" stop-color="#e3ecf1"/><stop offset="0.8" stop-color="#e7eef3"/><stop offset="0.85" stop-color="#ebf1f5"/><stop offset="0.9" stop-color="#eef3f7"/><stop offset="0.95" stop-color="#f1f6f8"/><stop offset="1" stop-color="#f5f8fa"/></linearGradient>
<linearGradient id="h83"><stop offset="0" stop-color="#89adc4"/><stop offset="0.05" stop-color="#90b2c8"/><stop offset="0.1" stop-color="#96b6cb"/><stop offset="0.15" stop-color="#9cbbce"/><stop offset="0.2" stop-color="#a2bfd1"/><stop offset="0.25" stop-color="#a7c2d3"/><stop offset="0.3" stop-color="#aec7d7"/><stop offset="0.35" stop-color="#b7cddb"/><stop offset="0.4" stop-color="#c0d4e0"/><stop offset="0.45" stop-color="#c8d9e4"/><stop offset="0.5" stop-color="#cfdde7"/><stop offset="0.55" stop-color="#d3e0e9"/><stop offset="0.6" stop-color="#d7e3eb"/><stop offset="0.65" stop-color="#dbe6ed"/><stop offset="0.7" stop-color="#dee8ef"/><stop offset="0.75" stop-color="#e2ebf1"/><stop offset="0.8" stop-color="#e6edf2"/><stop offset="0.85" stop-color="#e9f0f4"/><stop offset="0.9" stop-color="#edf2f6"/><stop offset="0.95" stop-color="#f0f5f7"/><stop offset="1" stop-color="#f3f7f9"/></linearGradient>
<linearGradient id="h84"><stop offset="0" stop-color="#8aaec5"/><stop offset="0.05" stop-color="#91b3c8"/><stop offset="0.1" stop-color="#97b7cb"/><stop offset="0.15" stop-color="#9dbbce"/><stop offset="0.2" stop-color="#a2bfd1"/><stop offset="0.25" stop-color="#a8c3d4"/><stop offset="0.3" stop-color="#aec7d7"/><stop offset="0.35" stop-color="#b7cddb"/><stop offset="0.4" stop-color="#c0d3e0"/><stop offset="0.45" stop-color="#c8d9e4"/><stop offset="0.5" stop-color="#cedde7"/><stop offset="0.55" stop-color="#d2e0e9"/><stop offset="0.6" stop-color="#d6e2ea"/><stop offset="0.65" stop-color="#dae5ec"/><stop offset="0.7" stop-color="#dde8ee"/><stop offset="0.75" stop-color="#e1eaf0"/><stop offset="0.8" stop-color="#e4edf2"/><stop offset="0.85" stop-color="#e8eff3"/><stop offset="0.9" stop-color="#ebf1f5"/><stop offset="0.95" stop-color="#eef3f7"/><stop offset="1" stop-color="#f1f6f8"/></linearGradient>
<linearGradient id="h85"><stop offset="0" stop-color="#8bafc6"/><stop offset="0.05" stop-color="#92b3c9"/><stop offset="0.1" stop-color="#98b8cc"/><stop offset="0.15" stop-color="#9ebccf"/><stop offset="0.2" stop-color="#a3bfd1"/><stop offset="0.25" stop-color="#a8c3d4"/><stop offset="0.3" stop-color="#aec7d7"/><stop offset="0.35" stop-color="#b7cddb"/><stop offset="0.4" stop-color="#c0d3df"/><stop offset="0.45" stop-color="#c7d8e3"/><stop offset="0.5" stop-color="#cddce6"/><stop offset="0.55" stop-color="#d1dfe8"/><stop offset="0.6" stop-color="#d5e2ea"/><stop offset="0.65" stop-color="#d9e4ec"/><stop offset="0.7" stop-color="#dce7ee"/><stop offset="0.75" stop-color="#e0e9ef"/><stop offset="0.8" stop-color="#e3ecf1"/><stop offset="0.85" stop-color="#e6eef3"/><stop offset="0.9" stop-color="#eaf0f4"/><stop offset="0.95" stop-color="#edf2f6"/><stop offset="1" stop-color="#f0f5f7"/></linearGradient>
<linearGradient id="h86"><stop offset="0" stop-color="#8db0c6"/><stop offset="0.05" stop-color="#93b4c9"/><stop offset="0.1" stop-color="#99b8cc"/><stop offset="0.15" stop-color="#9fbccf"/><stop offset="0.2" stop-color="#a4c0d2"/><stop offset="0.25" stop-color="#a9c3d4"/><stop offset="0.3" stop-color="#afc7d7"/><stop offset="0.35" stop-color="#b7cddb"/><stop offset="0.4" stop-color="#bfd3df"/><stop offset="0.45" stop-color="#c7d8e3"/><stop offset="0.5" stop-color="#ccdce6"/><stop offset="0.55" stop-color="#d0dfe8"/><stop offset="0.6" stop-color="#d4e1ea"/><stop offset="0.65" stop-color="#d8e4eb"/><stop offset="0.7" stop-color="#dbe6ed"/><stop offset="0.75" stop-color="#dee9ef"/><stop offset="0.8" stop-color="#e2ebf0"/><stop offset="0.85" stop-color="#e5edf2"/><stop offset="0.9" stop-color="#e8eff4"/><stop offset="0.95" stop-color="#ebf1f5"/><stop offset="1" stop-color="#eef3f7"/></linearGradient>
<linearGradient id="h87"><stop offset="0" stop-color="#8eb1c7"/><stop offset="0.05" stop-color="#94b5ca"/><stop offset="0.1" stop-color="#9ab9cd"/><stop offset="0.15" stop-color="#9fbdcf"/><stop offset="0.2" stop-color="#a4c0d2"/><stop offset="0.25" stop-color="#a9c4d4"/><stop offset="0.3" stop-color="#afc7d7"/><stop offset="0.35" stop-color="#b7cddb"/><stop offset="0.4" stop-color="#bfd3df"/><stop offset="0.45" stop-color="#c6d8e3"/><stop offset="0.5" stop-color="#ccdbe5"/><stop offset="0.55" stop-color="#cfdee7"/><stop offset="0.6" stop-color="#d3e1e9"/><stop offset="0.65" stop-color="#d7e3eb"/><stop offset="0.7" stop-color="#dae5ed"/><stop offset="0.75" stop-color="#dde8ee"/><stop offset="0.8" stop-color="#e1eaf0"/><stop offset="0.85" stop-color="#e4ecf1"/><stop offset="0.9" stop-color="#e7eef3"/><stop offset="0.95" stop-color="#eaf0f4"/><stop offset="1" stop-color="#edf2f6"/></linearGradient>
<linearGradient id="h88"><stop offset="0" stop-color="#8fb2c7"/><stop offset="0.05" stop-color="#95b6ca"/><stop offset="0.1" stop-color="#9bb9cd"/><stop offset="0.15" stop-color="#a0bdd0"/><stop offset="0.2" stop-color="#a5c1d2"/><stop offset="0.25" stop-color="#a9c4d4"/><stop offset="0.3" stop-color="#afc8d7"/><stop offset="0.35" stop-color="#b7cddb"/><stop offset="0.4" stop-color="#bfd3df"/><stop offset="0.45" stop-color="#c6d7e2"/><stop offset="0.5" stop-color="#cbdbe5"/><stop offset="0.55" stop-color="#cfdde7"/><stop offset="0.6" stop-color="#d2e0e9"/><stop offset="0.65" stop-color="#d5e2ea"/><stop offset="0.7" stop-color="#d9e5ec"/><stop offset="0.75" stop-color="#dce7ee"/><stop offset="0.8" stop-color="#dfe9ef"/><stop offset="0.85" stop-color="#e2ebf1"/><stop offset="0.9" stop-color="#e5edf2"/><stop offset="0.95" stop-color="#e8eff4"/><stop offset="1" stop-color="#ebf1f5"/></linearGradient>
<linearGradient id="h89"><stop offset="0" stop-color="#90b2c8"/><stop offset="0.05" stop-color="#96b6cb"/><stop offset="0.1" stop-color="#9bbacd"/><stop offset="0.15" stop-color="#a1bed0"/><stop offset="0.2" stop-color="#a5c1d2"/><stop offset="0.25" stop-color="#aac4d5"/><stop offset="0.3" stop-color="#afc8d7"/><stop offset="0.35" stop-color="#b7cddb"/><stop offset="0.4" stop-color="#bed2df"/><stop offset="0.45" stop-color="#c5d7e2"/><stop offset="0.5" stop-color="#cadae5"/><stop offset="0.55" stop-color="#cedde6"/><stop offset="0.6" stop-color="#d1dfe8"/><stop offset="0.65" stop-color="#d4e2ea"/><stop offset="0.7" stop-color="#d8e4eb"/><stop offset="0.75" stop-color="#dbe6ed"/><stop offset="0.8" stop-color="#dee8ef"/><stop offset="0.85" stop-color="#e1eaf0"/><stop offset="0.9" stop-color="#e4ecf2"/><stop offset="0.95" stop-color="#e7eef3"/><stop offset="1" stop-color="#eaf0f4"/></linearGradient>
<linearGradient id="h90"><stop offset="0" stop-color="#92b3c9"/><stop offset="0.05" stop-color="#97b7cb"/><stop offset="0.1" stop-color="#9cbbce"/><stop offset="0.15" stop-color="#a1bed0"/><stop offset="0.2" stop-color="#a6c1d3"/><stop offset="0.25" stop-color="#aac4d5"/><stop offset="0.3" stop-color="#afc8d7"/><stop offset="0.35" stop-color="#b7cddb"/><stop offset="0.4" stop-color="#bed2df"/><stop offset="0.45" stop-color="#c5d7e2"/><stop offset="0.5" stop-color="#cadae4"/><stop offset="0.55" stop-color="#cddce6"/><stop offset="0.6" stop-color="#d0dfe8"/><stop offset="0.65" stop-color="#d3e1e9"/><stop offset="0.7" stop-color="#d7e3eb"/><stop offset="0.75" stop-color="#dae5ec"/><stop offset="0.8" stop-color="#dde7ee"/><stop offset="0.85" stop-color="#e0e9ef"/><stop offset="0.9" stop-color="#e3ebf1"/><stop offset="0.95" stop-color="#e5edf2"/><stop offset="1" stop-color="#e8eff4"/></linearGradient>
<linearGradient id="h91"><stop offset="0" stop-color="#93b4c9"/><stop offset="0.05" stop-color="#98b8cc"/><stop offset="0.1" stop-color="#9dbbce"/><stop offset="0.15" stop-color="#a2bfd1"/><stop offset="0.2" stop-color="#a6c2d3"/><stop offset="0.25" stop-color="#abc5d5"/><stop offset="0.3" stop-color="#b0c8d8"/><stop offset="0.35" stop-color="#b7cddb"/><stop offset="0.4" stop-color="#bed2df"/><stop offset="0.45" stop-color="#c4d6e2"/><stop offset="0.5" stop-color="#c9d9e4"/><stop offset="0.55" stop-color="#ccdce6"/><stop offset="0.6" stop-color="#cfdee7"/><stop offset="0.65" stop-color="#d2e0e9"/><stop offset="0.7" stop-color="#d6e2ea"/><stop offset="0.75" stop-color="#d9e4ec"/><stop offset="0.8" stop-color="#dbe6ed"/><stop offset="0.85" stop-color="#dee8ef"/><stop offset="0.9" stop-color="#e1eaf0"/><stop offset="0.95" stop-color="#e4ecf1"/><stop offset="1" stop-color="#e6eef3"/></linearGradient>
<linearGradient id="h92"><stop offset="0" stop-color="#94b5ca"/><stop offset="0.05" stop-color="#99b8cc"/><stop offset="0.1" stop-color="#9ebccf"/><stop offset="0.15" stop-color="#a3bfd1"/><stop offset="0.2" stop-color="#a7c2d3"/><stop offset="0.25" stop-color="#abc5d5"/><stop offset="0.3" stop-color="#b0c8d8"/><stop offset="0.35" stop-color="#b7cddb"/><stop offset="0.4" stop-color="#bdd2de"/><stop offset="0.45" stop-color="#c3d6e1"/><stop offset="0.5" stop-color="#c8d9e4"/><stop offset="0.55" stop-color="#cbdbe5"/><stop offset="0.6" stop-color="#cedde7"/><stop offset="0.65" stop-color="#d1dfe8"/><stop offset="0.7" stop-color="#d4e2ea"/><stop offset="0.75" stop-color="#d7e4eb"/><stop offset="0.8" stop-color="#dae6ed"/><stop offset="0.85" stop-color="#dde7ee"/><stop offset="0.9" stop-color="#e0e9ef"/><stop offset="0.95" stop-color="#e2ebf1"/><stop offset="1" stop-color="#e5edf2"/></linearGradient>
<linearGradient id="h93"><stop offset="0" stop-color="#95b6ca"/><stop offset="0.05" stop-color="#9ab9cd"/><stop offset="0.1" stop-color="#9fbccf"/><stop offset="0.15" stop-color="#a3c0d1"/><stop offset="0.2" stop-color="#a7c2d3"/><stop offset="0.25" stop-color="#abc5d5"/><stop offset="0.3" stop-color="#b0c8d8"/><stop offset="0.35" stop-color="#b7cddb"/><stop offset="0.4" stop-color="#bdd1de"/><stop offset="0.45" stop-color="#c3d5e1"/><stop offset="0.5" stop-color="#c7d8e3"/><stop offset="0.55" stop-color="#cadbe5"/><stop offset="0.6" stop-color="#cddde6"/><stop offset="0.65" stop-color="#d0dfe8"/><stop offset="0.7" stop-color="#d3e1e9"/><stop offset="0.75" stop-color="#d6e3eb"/><stop offset="0.8" stop-color="#d9e5ec"/><stop offset="0.85" stop-color="#dce6ed"/><stop offset="0.9" stop-color="#dee8ef"/><stop offset="0.95" stop-color="#e1eaf0"/><stop offset="1" stop-color="#e3ecf1"/></linearGradient>
<linearGradient id="h94"><stop offset="0" stop-color="#97b7cb"/><stop offset="0.05" stop-color="#9bbacd"/><stop offset="0.1" stop-color="#a0bdd0"/><stop offset="0.15" stop-color="#a4c0d2"/><stop offset="0.2" stop-color="#a8c3d4"/><stop offset="0.25" stop-color="#acc5d6"/><stop offset="0.3" stop-color="#b0c9d8"/><stop offset="0.35" stop-color="#b7cddb"/><stop offset="0.4" stop-color="#bdd1de"/><stop offset="0.45" stop-color="#c2d5e1"/><stop offset="0.5" stop-color="#c7d8e3"/><stop offset="0.55" stop-color="#cadae4"/><stop offset="0.6" stop-color="#cddce6"/><stop offset="0.65" stop-color="#cfdee7"/><stop offset="0.7" stop-color="#d2e0e9"/><stop offset="0.75" stop-color="#d5e2ea"/><stop offset="0.8" stop-color="#d8e4eb"/><stop offset="0.85" stop-color="#dae6ed"/><stop offset="0.9" stop-color="#dde7ee"/><stop offset="0.95" stop-color="#dfe9ef"/><stop offset="1" stop-color="#e2ebf0"/></linearGradient>
<linearGradient id="h95"><stop offset="0" stop-color="#98b8cc"/><stop offset="0.05" stop-color="#9cbbce"/><stop offset="0.1" stop-color="#a1bed0"/><stop offset="0.15" stop-color="#a5c1d2"/><stop offset="0.2" stop-color="#a9c3d4"/><stop offset="0.25" stop-color="#acc6d6"/><stop offset="0.3" stop-color="#b1c9d8"/><stop offset="0.35" stop-color="#b7cddb"/><stop offset="0.4" stop-color="#bdd1de"/><stop offset="0.45" stop-color="#c2d5e1"/><stop offset="0.5" stop-color="#c6d8e3"/><stop offset="0.55" stop-color="#c9dae4"/><stop offset="0.6" stop-color="#ccdbe5"/><stop offset="0.65" stop-color="#cedde7"/><stop offset="0.7" stop-color="#d1dfe8"/><stop offset="0.75" stop-color="#d4e1e9"/><stop offset="0.8" stop-color="#d6e3eb"/><stop offset="0.85" stop-color="#d9e5ec"/><stop offset="0.9" stop-color="#dbe6ed"/><stop offset="0.95" stop-color="#dee8ee"/><stop offset="1" stop-color="#e0eaf0"/></linearGradient>
<linearGradient id="h96"><stop offset="0" stop-color="#99b9cc"/><stop offset="0.05" stop-color="#9dbbce"/><stop offset="0.1" stop-color="#a2bed0"/><stop offset="0.15" stop-color="#a6c1d2"/><stop offset="0.2" stop-color="#a9c4d4"/><stop offset="0.25" stop-color="#adc6d6"/><stop offset="0.3" stop-color="#b1c9d8"/><stop offset="0.35" stop-color="#b7cddb"/><stop offset="0.4" stop-color="#bcd1de"/><stop offset="0.45" stop-color="#c1d4e0"/><stop offset="0.5" stop-color="#c5d7e2"/><stop offset="0.55" stop-color="#c8d9e4"/><stop offset="0.6" stop-color="#cbdbe5"/><stop offset="0.65" stop-color="#cddde6"/><stop offset="0.7" stop-color="#d0dee8"/><stop offset="0.75" stop-color="#d3e0e9"/><stop offset="0.8" stop-color="#d5e2ea"/><stop offset="0.85" stop-color="#d8e4eb"/><stop offset="0.9" stop-color="#dae5ed"/><stop offset="0.95" stop-color="#dce7ee"/><stop offset="1" stop-color="#dee8ef"/></linearGradient>
<linearGradient id="h97"><stop offset="0" stop-color="#9ab9cd"/><stop offset="0.05" stop-color="#9ebccf"/><stop offset="0.1" stop-color="#a2bfd1"/><stop offset="0.15" stop-color="#a6c2d3"/><stop offset="0.2" stop-color="#aac4d5"/><stop offset="0.25" stop-color="#adc6d6"/><stop offset="0.3" stop-color="#b1c9d8"/><stop offset="0.35" stop-color="#b6cddb"/><stop offset="0.4" stop-color="#bcd1de"/><stop offset="0.45" stop-color="#c1d4e0"/><stop offset="0.5" stop-color="#c4d7e2"/><stop offset="0.55" stop-color="#c7d8e3"/><stop offset="0.6" stop-color="#cadae5"/><stop offset="0.65" stop-color="#ccdce6"/><stop offset="0.7" stop-color="#cfdee7"/><stop offset="0.75" stop-color="#d1dfe8"/><stop offset="0.8" stop-color="#d4e1e9"/><stop offset="0.85" stop-color="#d6e3eb"/><stop offset="0.9" stop-color="#d8e4ec"/><stop offset="0.95" stop-color="#dbe6ed"/><stop offset="1" stop-color="#dde7ee"/></linearGradient>
<linearGradient id="h98"><stop offset="0" stop-color="#9cbace"/><stop offset="0.05" stop-color="#9fbdcf"/><stop offset="0.1" stop-color="#a3c0d1"/><stop offset="0.15" stop-color="#a7c2d3"/><stop offset="0.2" stop-color="#aac4d5"/><stop offset="0.25" stop-color="#aec7d6"/><stop offset="0.3" stop-color="#b1c9d8"/><stop offset="0.35" stop-color="#b6cddb"/><stop offset="0.4" stop-color="#bcd0dd"/><stop offset="0.45" stop-color="#c0d4e0"/><stop offset="0.5" stop-color="#c4d6e2"/><stop offset="0.55" stop-color="#c6d8e3"/><stop offset="0.6" stop-color="#c9dae4"/><stop offset="0.65" stop-color="#cbdbe5"/><stop offset="0.7" stop-color="#cedde7"/><stop offset="0.75" stop-color="#d0dfe8"/><stop offset="0.8" stop-color="#d3e0e9"/><stop offset="0.85" stop-color="#d5e2ea"/><stop offset="0.9" stop-color="#d7e3eb"/><stop offset="0.95" stop-color="#d9e5ec"/><stop offset="1" stop-color="#dbe6ed"/></linearGradient>
<linearGradient id="h99"><stop offset="0" stop-color="#9dbbce"/><stop offset="0.05" stop-color="#a0bed0"/><stop offset="0.1" stop-color="#a4c0d2"/><stop offset="0.15" stop-color="#a8c3d4"/><stop offset="0.2" stop-color="#abc5d5"/><stop offset="0.25" stop-color="#aec7d7"/><stop offset="0.3" stop-color="#b1c9d8"/><stop offset="0.35" stop-color="#b6cddb"/><stop offset="0.4" stop-color="#bbd0dd"/><stop offset="0.45" stop-color="#c0d3df"/><stop offset="0.5" stop-color="#c3d6e1"/><stop offset="0.55" stop-color="#c6d7e2"/><stop offset="0.6" stop-color="#c8d9e4"/><stop offset="0.65" stop-color="#cadbe5"/><stop offset="0.7" stop-color="#cddce6"/><stop offset="0.75" stop-color="#cfdee7"/><stop offset="0.8" stop-color="#d1dfe8"/><stop offset="0.85" stop-color="#d3e1e9"/><stop offset="0.9" stop-color="#d6e2ea"/><stop offset="0.95" stop-color="#d8e4eb"/><stop offset="1" stop-color="#dae5ec"/></linearGradient>
<linearGradient id="h100"><stop offset="0" stop-color="#9ebccf"/><stop offset="0.05" stop-color="#a2bed0"/><stop offset="0.1" stop-color="#a5c1d2"/><stop offset="0.15" stop-color="#a8c3d4"/><stop offset="0.2" stop-color="#abc5d5"/><stop offset="0.25" stop-color="#aec7d7"/><stop offset="0.3" stop-color="#b2cad9"/><stop offset="0.35" stop-color="#b6cddb"/><stop offset="0.4" stop-color="#bbd0dd"/><stop offset="0.45" stop-color="#bfd3df"/><stop offset="0.5" stop-color="#c2d5e1"/><stop offset="0.55" stop-color="#c5d7e2"/><stop offset="0.6" stop-color="#c7d8e3"/><stop offset="0.65" stop-color="#c9dae4"/><stop offset="0.7" stop-color="#ccdbe5"/><stop offset="0.75" stop-color="#cedde7"/><stop offset="0.8" stop-color="#d0dee8"/><stop offset="0.85" stop-color="#d2e0e9"/><stop offset="0.9" stop-color="#d4e1ea"/><stop offset="0.95" stop-color="#d6e3eb"/><stop offset="1" stop-color="#d8e4ec"/></linearGradient>
<linearGradient id="h101"><stop offset="0" stop-color="#9fbdcf"/><stop offset="0.05" stop-color="#a3bfd1"/><stop offset="0.1" stop-color="#a6c1d3"/><stop offset="0.15" stop-color="#a9c4d4"/><stop offset="0.2" stop-color="#acc5d6"/><stop offset="0.25" stop-color="#afc7d7"/><stop offset="0.3" stop-color="#b2cad9"/><stop offset="0.35" stop-color="#b6cddb"/><stop offset="0.4" stop-color="#bbd0dd"/><stop offset="0.45" stop-color="#bfd2df"/><stop offset="0.5" stop-color="#c2d5e0"/><stop offset="0.55" stop-color="#c4d6e2"/><stop offset="0.6" stop-color="#c6d8e3"/><stop offset="0.65" stop-color="#c8d9e4"/><stop offset="0.7" stop-color="#cadbe5"/><stop offset="0.75" stop-color="#cddce6"/><stop offset="0.8" stop-color="#cfdee7"/><stop offset="0.85" stop-color="#d1dfe8"/><stop offset="0.9" stop-color="#d3e0e9"/><stop offset="0.95" stop-color="#d5e2ea"/><stop offset="1" stop-color="#d7e3eb"/></linearGradient>
<linearGradient id="h102"><stop offset="0" stop-color="#a1bed0"/><stop offset="0.05" stop-color="#a4c0d2"/><stop offset="0.1" stop-color="#a7c2d3"/><stop offset="0.15" stop-color="#aac4d5"/><stop offset="0.2" stop-color="#acc6d6"/><stop offset="0.25" stop-color="#afc8d7"/><stop offset="0.3" stop-color="#b2cad9"/><stop offset="0.35" stop-color="#b6cddb"/><stop offset="0.4" stop-color="#bacfdd"/><stop offset="0.45" stop-color="#bed2df"/><stop offset="0.5" stop-color="#c1d4e0"/><stop offset="0.55" stop-color="#c3d6e1"/><stop offset="0.6" stop-color="#c5d7e2"/><stop offset="0.65" stop-color="#c7d8e3"/><stop offset="0.7" stop-color="#c9dae4"/><stop offset="0.75" stop-color="#cbdbe5"/><stop offset="0.8" stop-color="#cddde6"/><stop offset="0.85" stop-color="#cfdee7"/><stop offset="0.9" stop-color="#d1dfe8"/><stop offset="0.95" stop-color="#d3e1e9"/><stop offset="1" stop-color="#d5e2ea"/></linearGradient>
<linearGradient id="h103"><stop offset="0" stop-color="#a2bfd1"/><stop offset="0.05" stop-color="#a5c1d2"/><stop offset="0.1" stop-color="#a8c3d4"/><stop offset="0.15" stop-color="#aac4d5"/><stop offset="0.2" stop-color="#adc6d6"/><stop offset="0.25" stop-color="#b0c8d7"/><stop offset="0.3" stop-color="#b2cad9"/><stop offset="0.35" stop-color="#b6cddb"/><stop offset="0.4" stop-color="#bacfdd"/><stop offset="0.45" stop-color="#bdd2de"/><stop offset="0.5" stop-color="#c0d4e0"/><stop offset="0.55" stop-color="#c2d5e1"/><stop offset="0.6" stop-color="#c4d6e2"/><stop offset="0.65" stop-color="#c6d8e3"/><stop offset="0.7" stop-color="#c8d9e4"/><stop offset="0.75" stop-color="#cadae5"/><stop offset="0.8" stop-color="#ccdce6"/><stop offset="0.85" stop-color="#cedde7"/><stop offset="0.9" stop-color="#d0dee8"/><stop offset="0.95" stop-color="#d2e0e8"/><stop offset="1" stop-color="#d3e1e9"/></linearGradient>
<linearGradient id="h104"><stop offset="0" stop-color="#a3bfd1"/><stop offset="0.05" stop-color="#a6c1d3"/><stop offset="0.1" stop-color="#a9c3d4"/><stop offset="0.15" stop-color="#abc5d5"/><stop offset="0.2" stop-color="#aec7d6"/><stop offset="0.25" stop-color="#b0c8d8"/><stop offset="0.3" stop-color="#b3cad9"/><stop offset="0.35" stop-color="#b6cddb"/><stop offset="0.4" stop-color="#bacfdd"/><stop offset="0.45" stop-color="#bdd1de"/><stop offset="0.5" stop-color="#bfd3df"/><stop offset="0.55" stop-color="#c1d4e0"/><stop offset="0.6" stop-color="#c3d6e1"/><stop offset="0.65" stop-color="#c5d7e2"/><stop offset="0.7" stop-color="#c7d8e3"/><stop offset="0.75" stop-color="#c9dae4"/><stop offset="0.8" stop-color="#cbdbe5"/><stop offset="0.85" stop-color="#cddce6"/><stop offset="0.9" stop-color="#cedde7"/><stop offset="0.95" stop-color="#d0dfe8"/><stop offset="1" stop-color="#d2e0e9"/></linearGradient>
<linearGradient id="h105"><stop offset="0" stop-color="#a4c0d2"/><stop offset="0.05" stop-color="#a7c2d3"/><stop offset="0.1" stop-color="#a9c4d4"/><stop offset="0.15" stop-color="#acc5d6"/><stop offset="0.2" stop-color="#aec7d7"/><stop offset="0.25" stop-color="#b0c9d8"/><stop offset="0.3" stop-color="#b3cad9"/><stop offset="0.35" stop-color="#b6cddb"/><stop offset="0.4" stop-color="#b9cfdc"/><stop offset="0.45" stop-color="#bcd1de"/><stop offset="0.5" stop-color="#bfd3df"/><stop offset="0.55" stop-color="#c1d4e0"/><stop offset="0.6" stop-color="#c2d5e1"/><stop offset="0.65" stop-color="#c4d6e2"/><stop offset="0.7" stop-color="#c6d8e3"/><stop offset="0.75" stop-color="#c8d9e4"/><stop offset="0.8" stop-color="#cadae4"/><stop offset="0.85" stop-color="#cbdbe5"/><stop offset="0.9" stop-color="#cddce6"/><stop offset="0.95" stop-color="#cfdee7"/><stop offset="1" stop-color="#d0dfe8"/></linearGradient>
<linearGradient id="h106"><stop offset="0" stop-color="#a6c1d2"/><stop offset="0.05" stop-color="#a8c3d4"/><stop offset="0.1" stop-color="#aac4d5"/><stop offset="0.15" stop-color="#adc6d6"/><stop offset="0.2" stop-color="#afc7d7"/><stop offset="0.25" stop-color="#b1c9d8"/><stop offset="0.3" stop-color="#b3cad9"/><stop offset="0.35" stop-color="#b6cddb"/><stop offset="0.4" stop-color="#b9cfdc"/><stop offset="0.45" stop-color="#bcd0de"/><stop offset="0.5" stop-color="#bed2df"/><stop offset="0.55" stop-color="#c0d3e0"/><stop offset="0.6" stop-color="#c2d4e0"/><stop offset="0.65" stop-color="#c3d6e1"/><stop offset="0.7" stop-color="#c5d7e2"/><stop offset="0.75" stop-color="#c7d8e3"/><stop offset="0.8" stop-color="#c8d9e4"/><stop offset="0.85" stop-color="#cadae5"/><stop offset="0.9" stop-color="#ccdbe5"/><stop offset="0.95" stop-color="#cddce6"/><stop offset="1" stop-color="#cfdee7"/></linearGradient>
<linearGradient id="h107"><stop offset="0" stop-color="#a7c2d3"/><stop offset="0.05" stop-color="#a9c3d4"/><stop offset="0.1" stop-color="#abc5d5"/><stop offset="0.15" stop-color="#adc6d6"/><stop offset="0.2" stop-color="#afc8d7"/><stop offset="0.25" stop-color="#b1c9d8"/><stop offset="0.3" stop-color="#b3cbd9"/><stop offset="0.35" stop-color="#b6cddb"/><stop offset="0.4" stop-color="#b9cedc"/><stop offset="0.45" stop-color="#bbd0dd"/><stop offset="0.5" stop-color="#bdd2de"/><stop offset="0.55" stop-color="#bfd3df"/><stop offset="0.6" stop-color="#c1d4e0"/><stop offset="0.65" stop-color="#c2d5e1"/><stop offset="0.7" stop-color="#c4d6e2"/><stop offset="0.75" stop-color="#c5d7e2"/><stop offset="0.8" stop-color="#c7d8e3"/><stop offset="0.85" stop-color="#c9d9e4"/><stop offset="0.9" stop-color="#cadae5"/><stop offset="0.95" stop-color="#ccdbe5"/><stop offset="1" stop-color="#cddce6"/></linearGradient>
<linearGradient id="h108"><stop offset="0" stop-color="#a8c3d4"/><stop offset="0.05" stop-color="#aac4d5"/><stop offset="0.1" stop-color="#acc6d6"/><stop offset="0.15" stop-color="#aec7d7"/><stop offset="0.2" stop-color="#b0c8d8"/><stop offset="0.25" stop-color="#b2c9d8"/><stop offset="0.3" stop-color="#b4cbd9"/><stop offset="0.35" stop-color="#b6ccdb"/><stop offset="0.4" stop-color="#b8cedc"/><stop offset="0.45" stop-color="#bbd0dd"/><stop offset="0.5" stop-color="#bdd1de"/><stop offset="0.55" stop-color="#bed2df"/><stop offset="0.6" stop-color="#c0d3e0"/><stop offset="0.65" stop-color="#c1d4e0"/><stop offset="0.7" stop-color="#c3d5e1"/><stop offset="0.75" stop-color="#c4d6e2"/><stop offset="0.8" stop-color="#c6d7e3"/><stop offset="0.85" stop-color="#c7d8e3"/><stop offset="0.9" stop-color="#c9d9e4"/><stop offset="0.95" stop-color="#cadae5"/><stop offset="1" stop-color="#cbdbe5"/></linearGradient>
<linearGradient id="h109"><stop offset="0" stop-color="#a9c4d4"/><stop offset="0.05" stop-color="#abc5d5"/><stop offset="0.1" stop-color="#adc6d6"/><stop offset="0.15" stop-color="#afc7d7"/><stop offset="0.2" stop-color="#b0c9d8"/><stop offset="0.25" stop-color="#b2cad9"/><stop offset="0.3" stop-color="#b4cbda"/><stop offset="0.35" stop-color="#b6ccdb"/><stop offset="0.4" stop-color="#b8cedc"/><stop offset="0.45" stop-color="#bacfdd"/><stop offset="0.5" stop-color="#bcd1de"/><stop offset="0.55" stop-color="#bdd2de"/><stop offset="0.6" stop-color="#bfd3df"/><stop offset="0.65" stop-color="#c0d4e0"/><stop offset="0.7" stop-color="#c2d5e0"/><stop offset="0.75" stop-color="#c3d6e1"/><stop offset="0.8" stop-color="#c4d6e2"/><stop offset="0.85" stop-color="#c6d7e3"/><stop offset="0.9" stop-color="#c7d8e3"/><stop offset="0.95" stop-color="#c9d9e4"/><stop offset="1" stop-color="#cadae5"/></linearGradient>
<linearGradient id="h110"><stop offset="0" stop-color="#abc5d5"/><stop offset="0.05" stop-color="#acc6d6"/><stop offset="0.1" stop-color="#aec7d7"/><stop offset="0.15" stop-color="#afc8d7"/><stop offset="0.2" stop-color="#b1c9d8"/><stop offset="0.25" stop-color="#b2cad9"/><stop offset="0.3" stop-color="#b4cbda"/><stop offset="0.35" stop-color="#b6ccdb"/><stop offset="0.4" stop-color="#b8cedc"/><stop offset="0.45" stop-color="#bacfdc"/><stop offset="0.5" stop-color="#bbd0dd"/><stop offset="0.55" stop-color="#bdd1de"/><stop offset="0.6" stop-color="#bed2df"/><stop offset="0.65" stop-color="#bfd3df"/><stop offset="0.7" stop-color="#c1d4e0"/><stop offset="0.75" stop-color="#c2d5e1"/><stop offset="0.8" stop-color="#c3d6e1"/><stop offset="0.85" stop-color="#c4d7e2"/><stop offset="0.9" stop-color="#c6d7e3"/><stop offset="0.95" stop-color="#c7d8e3"/><stop offset="1" stop-color="#c8d9e4"/></linearGradient>
<linearGradient id="h111"><stop offset="0" stop-color="#acc5d6"/><stop offset="0.05" stop-color="#adc6d6"/><stop offset="0.1" stop-color="#afc7d7"/><stop offset="0.15" stop-color="#b0c8d8"/><stop offset="0.2" stop-color="#b1c9d8"/><stop offset="0.25" stop-color="#b3cad9"/><stop offset="0.3" stop-color="#b4cbda"/><stop offset="0.35" stop-color="#b6ccdb"/><stop offset="0.4" stop-color="#b7cedb"/><stop offset="0.45" stop-color="#b9cfdc"/><stop offset="0.5" stop-color="#bad0dd"/><stop offset="0.55" stop-color="#bcd0de"/><stop offset="0.6" stop-color="#bdd1de"/><stop offset="0.65" stop-color="#bed2df"/><stop offset="0.7" stop-color="#bfd3df"/><stop offset="0.75" stop-color="#c1d4e0"/><stop offset="0.8" stop-color="#c2d5e1"/><stop offset="0.85" stop-color="#c3d6e1"/><stop offset="0.9" stop-color="#c4d6e2"/><stop offset="0.95" stop-color="#c6d7e2"/><stop offset="1" stop-color="#c7d8e3"/></linearGradient>
<linearGradient id="h112"><stop offset="0" stop-color="#adc6d6"/><stop offset="0.05" stop-color="#aec7d7"/><stop offset="0.1" stop-color="#b0c8d7"/><stop offset="0.15" stop-color="#b1c9d8"/><stop offset="0.2" stop-color="#b2cad9"/><stop offset="0.25" stop-color="#b3cbd9"/><stop offset="0.3" stop-color="#b4cbda"/><stop offset="0.35" stop-color="#b6ccdb"/><stop offset="0.4" stop-color="#b7cddb"/><stop offset="0.45" stop-color="#b8cedc"/><stop offset="0.5" stop-color="#bacfdd"/><stop offset="0.55" stop-color="#bbd0dd"/><stop offset="0.6" stop-color="#bcd1de"/><stop offset="0.65" stop-color="#bdd1de"/><stop offset="0.7" stop-color="#bed2df"/><stop offset="0.75" stop-color="#bfd3df"/><stop offset="0.8" stop-color="#c1d4e0"/><stop offset="0.85" stop-color="#c2d5e1"/><stop offset="0.9" stop-color="#c3d5e1"/><stop offset="0.95" stop-color="#c4d6e2"/><stop offset="1" stop-color="#c5d7e2"/></linearGradient>
<linearGradient id="h113"><stop offset="0" stop-color="#aec7d7"/><stop offset="0.05" stop-color="#afc8d7"/><stop offset="0.1" stop-color="#b0c9d8"/><stop offset="0.15" stop-color="#b1c9d8"/><stop offset="0.2" stop-color="#b3cad9"/><stop offset="0.25" stop-color="#b4cbd9"/><stop offset="0.3" stop-color="#b5ccda"/><stop offset="0.35" stop-color="#b6ccdb"/><stop offset="0.4" stop-color="#b7cddb"/><stop offset="0.45" stop-color="#b8cedc"/><stop offset="0.5" stop-color="#b9cfdc"/><stop offset="0.55" stop-color="#bacfdd"/><stop offset="0.6" stop-color="#bbd0dd"/><stop offset="0.65" stop-color="#bcd1de"/><stop offset="0.7" stop-color="#bdd2de"/><stop offset="0.75" stop-color="#bed2df"/><stop offset="0.8" stop-color="#bfd3df"/><stop offset="0.85" stop-color="#c0d4e0"/><stop offset="0.9" stop-color="#c1d4e0"/><stop offset="0.95" stop-color="#c3d5e1"/><stop offset="1" stop-color="#c4d6e1"/></linearGradient>
<linearGradient id="cbar" x1="0" x2="0" y1="0" y2="1"><stop offset="0" stop-color="#de7078"/><stop offset="0.07" stop-color="#e48a91"/><stop offset="0.17" stop-color="#edb1b6"/><stop offset="0.27" stop-color="#f6d8da"/><stop offset="0.37" stop-color="#ffffff"/><stop offset="0.48" stop-color="#dce7ee"/><stop offset="0.58" stop-color="#b9cedc"/><stop offset="0.68" stop-color="#96b6ca"/><stop offset="0.78" stop-color="#729eb9"/><stop offset="0.89" stop-color="#4f85a8"/><stop offset="0.99" stop-color="#2c6d96"/></linearGradient>
<linearGradient id="elf" x1="0.2" y1="0" x2="0" y2="1"><stop offset="0" stop-color="#dcdee9"/><stop offset="1" stop-color="#cfd1dd"/></linearGradient>
<linearGradient id="bbg" x1="0" y1="0" x2="1" y2="0"><stop offset="0" stop-color="#7fa5cf"/><stop offset="0.5" stop-color="#9bbbdc"/><stop offset="1" stop-color="#7fa3cc"/></linearGradient>
<linearGradient id="bcap" x1="0" y1="0" x2="1" y2="0"><stop offset="0" stop-color="#d6cbae"/><stop offset="0.4" stop-color="#e2d8bc"/><stop offset="1" stop-color="#d2c6a8"/></linearGradient>
<linearGradient id="bpow" x1="0" y1="0" x2="0" y2="1"><stop offset="0" stop-color="#efeadc"/><stop offset="1" stop-color="#dcd5c3"/></linearGradient>
<linearGradient id="rpk" x1="0" y1="0" x2="0" y2="1"><stop offset="0" stop-color="#e8aab0"/><stop offset="0.45" stop-color="#e59aa2"/><stop offset="0.8" stop-color="#d2434f"/><stop offset="1" stop-color="#c0202e"/></linearGradient>
</defs>
<rect x="47.3" y="120.5" width="13.8" height="1.8" fill="url(#barg)" />
<rect x="70.06" y="117" width="13.8" height="5.3" fill="url(#barg)" />
<rect x="92.82" y="105.8" width="13.8" height="16.5" fill="url(#barg)" />
<rect x="115.58" y="82.5" width="13.8" height="39.8" fill="url(#barg)" />
<rect x="138.34" y="50.3" width="13.8" height="72" fill="url(#barg)" />
<rect x="161.1" y="32" width="13.8" height="90.3" fill="url(#barg)" />
<rect x="183.86" y="26.8" width="13.8" height="95.5" fill="url(#barg)" />
<rect x="206.62" y="38" width="13.8" height="84.3" fill="url(#barg)" />
<rect x="229.38" y="49" width="13.8" height="73.3" fill="url(#barg)" />
<rect x="252.14" y="78.8" width="13.8" height="43.5" fill="url(#barg)" />
<line x1="42.2" y1="10.2" x2="270.6" y2="10.2" stroke="#555" stroke-width="1" />
<line x1="41.7" y1="122.3" x2="271.1" y2="122.3" stroke="#444" stroke-width="1" />
<line x1="42.2" y1="10.2" x2="42.2" y2="122.3" stroke="#d9606a" stroke-width="1" />
<line x1="270.6" y1="10.2" x2="270.6" y2="122.3" stroke="#4a8ab5" stroke-width="1" />
<line x1="39.2" y1="122.3" x2="42.2" y2="122.3" stroke="#d9606a" stroke-width="1" />
<line x1="40.4" y1="103.62" x2="42.2" y2="103.62" stroke="#d9606a" stroke-width="1" />
<line x1="39.2" y1="84.93" x2="42.2" y2="84.93" stroke="#d9606a" stroke-width="1" />
<line x1="40.4" y1="66.25" x2="42.2" y2="66.25" stroke="#d9606a" stroke-width="1" />
<line x1="39.2" y1="47.57" x2="42.2" y2="47.57" stroke="#d9606a" stroke-width="1" />
<line x1="40.4" y1="28.88" x2="42.2" y2="28.88" stroke="#d9606a" stroke-width="1" />
<line x1="39.2" y1="10.2" x2="42.2" y2="10.2" stroke="#d9606a" stroke-width="1" />
<text x="39.4" y="125.7" font-size="9" text-anchor="end" fill="#cf3d49" >0</text>
<text x="39.4" y="88.33" font-size="9" text-anchor="end" fill="#cf3d49" >100</text>
<text x="39.4" y="50.97" font-size="9" text-anchor="end" fill="#cf3d49" >200</text>
<text x="39.4" y="13.6" font-size="9" text-anchor="end" fill="#cf3d49" >300</text>
<line x1="270.6" y1="122.3" x2="273.6" y2="122.3" stroke="#4a8ab5" stroke-width="1" />
<line x1="270.6" y1="108.29" x2="272.4" y2="108.29" stroke="#4a8ab5" stroke-width="1" />
<line x1="270.6" y1="94.28" x2="273.6" y2="94.28" stroke="#4a8ab5" stroke-width="1" />
<line x1="270.6" y1="80.26" x2="272.4" y2="80.26" stroke="#4a8ab5" stroke-width="1" />
<line x1="270.6" y1="66.25" x2="273.6" y2="66.25" stroke="#4a8ab5" stroke-width="1" />
<line x1="270.6" y1="52.24" x2="272.4" y2="52.24" stroke="#4a8ab5" stroke-width="1" />
<line x1="270.6" y1="38.22" x2="273.6" y2="38.22" stroke="#4a8ab5" stroke-width="1" />
<line x1="270.6" y1="24.21" x2="272.4" y2="24.21" stroke="#4a8ab5" stroke-width="1" />
<line x1="270.6" y1="10.2" x2="273.6" y2="10.2" stroke="#4a8ab5" stroke-width="1" />
<text x="273.6" y="125.5" font-size="9" text-anchor="start" fill="#3f89b8" >0</text>
<text x="273.6" y="97.48" font-size="9" text-anchor="start" fill="#3f89b8" >25</text>
<text x="273.6" y="69.45" font-size="9" text-anchor="start" fill="#3f89b8" >50</text>
<text x="273.6" y="41.42" font-size="9" text-anchor="start" fill="#3f89b8" >75</text>
<text x="273.6" y="13.4" font-size="9" text-anchor="start" fill="#3f89b8" >100</text>
<line x1="54.2" y1="122.3" x2="54.2" y2="124.8" stroke="#444" stroke-width="1" />
<line x1="65.58" y1="122.3" x2="65.58" y2="123.8" stroke="#444" stroke-width="1" />
<text x="54.2" y="133.2" font-size="8.8" text-anchor="middle" fill="#1a1a1a" >2</text>
<line x1="76.96" y1="122.3" x2="76.96" y2="124.8" stroke="#444" stroke-width="1" />
<line x1="88.34" y1="122.3" x2="88.34" y2="123.8" stroke="#444" stroke-width="1" />
<text x="76.96" y="133.2" font-size="8.8" text-anchor="middle" fill="#1a1a1a" >5</text>
<line x1="99.72" y1="122.3" x2="99.72" y2="124.8" stroke="#444" stroke-width="1" />
<line x1="111.1" y1="122.3" x2="111.1" y2="123.8" stroke="#444" stroke-width="1" />
<text x="99.72" y="133.2" font-size="8.8" text-anchor="middle" fill="#1a1a1a" >10</text>
<line x1="122.48" y1="122.3" x2="122.48" y2="124.8" stroke="#444" stroke-width="1" />
<line x1="133.86" y1="122.3" x2="133.86" y2="123.8" stroke="#444" stroke-width="1" />
<text x="122.48" y="133.2" font-size="8.8" text-anchor="middle" fill="#1a1a1a" >20</text>
<line x1="145.24" y1="122.3" x2="145.24" y2="124.8" stroke="#444" stroke-width="1" />
<line x1="156.62" y1="122.3" x2="156.62" y2="123.8" stroke="#444" stroke-width="1" />
<text x="145.24" y="133.2" font-size="8.8" text-anchor="middle" fill="#1a1a1a" >30</text>
<line x1="168" y1="122.3" x2="168" y2="124.8" stroke="#444" stroke-width="1" />
<line x1="179.38" y1="122.3" x2="179.38" y2="123.8" stroke="#444" stroke-width="1" />
<text x="168" y="133.2" font-size="8.8" text-anchor="middle" fill="#1a1a1a" >40</text>
<line x1="190.76" y1="122.3" x2="190.76" y2="124.8" stroke="#444" stroke-width="1" />
<line x1="202.14" y1="122.3" x2="202.14" y2="123.8" stroke="#444" stroke-width="1" />
<text x="190.76" y="133.2" font-size="8.8" text-anchor="middle" fill="#1a1a1a" >50</text>
<line x1="213.52" y1="122.3" x2="213.52" y2="124.8" stroke="#444" stroke-width="1" />
<line x1="224.9" y1="122.3" x2="224.9" y2="123.8" stroke="#444" stroke-width="1" />
<text x="213.52" y="133.2" font-size="8.8" text-anchor="middle" fill="#1a1a1a" >60</text>
<line x1="236.28" y1="122.3" x2="236.28" y2="124.8" stroke="#444" stroke-width="1" />
<line x1="247.66" y1="122.3" x2="247.66" y2="123.8" stroke="#444" stroke-width="1" />
<text x="236.28" y="133.2" font-size="8.8" text-anchor="middle" fill="#1a1a1a" >80</text>
<line x1="259.04" y1="122.3" x2="259.04" y2="124.8" stroke="#444" stroke-width="1" />
<line x1="270.42" y1="122.3" x2="270.42" y2="123.8" stroke="#444" stroke-width="1" />
<text x="259.04" y="133.2" font-size="8.8" text-anchor="middle" fill="#1a1a1a" >100</text>
<line x1="42.82" y1="122.3" x2="42.82" y2="123.8" stroke="#444" stroke-width="1" />
<text x="159" y="141.6" font-size="9.05" text-anchor="middle" fill="#1a1a1a" >Current density (mA cm<tspan dy="-3.44" font-size="6.33">-2</tspan><tspan dy="3.4">)</tspan></text>
<polyline points="54.2,99.2 76.96,94.6 99.72,80.8 122.48,71.3 145.24,60.8 168,64.4 190.76,73.6 213.52,86.4 236.28,99.1 259.04,111.2" fill="none" stroke="#4d95c6" stroke-width="1" stroke-dasharray="2.6 2.4"/>
<circle cx="54.2" cy="99.2" r="2.55" fill="url(#dotg)"/>
<circle cx="76.96" cy="94.6" r="2.55" fill="url(#dotg)"/>
<circle cx="99.72" cy="80.8" r="2.55" fill="url(#dotg)"/>
<circle cx="122.48" cy="71.3" r="2.55" fill="url(#dotg)"/>
<circle cx="145.24" cy="60.8" r="2.55" fill="url(#dotg)"/>
<circle cx="168" cy="64.4" r="2.55" fill="url(#dotg)"/>
<circle cx="190.76" cy="73.6" r="2.55" fill="url(#dotg)"/>
<circle cx="213.52" cy="86.4" r="2.55" fill="url(#dotg)"/>
<circle cx="236.28" cy="99.1" r="2.55" fill="url(#dotg)"/>
<circle cx="259.04" cy="111.2" r="2.55" fill="url(#dotg)"/>
<rect x="45.3" y="13.3" width="19.7" height="9.4" fill="url(#barg)" />
<text x="67.6" y="21.5" font-size="8.8" text-anchor="start" fill="#1a1a1a" >Urea yield rate</text>
<line x1="45.3" y1="29.7" x2="65.7" y2="29.7" stroke="#7fb3d6" stroke-width="1" stroke-dasharray="2.6 2.4"/>
<circle cx="55.1" cy="29.7" r="2.2" fill="url(#dotg)"/>
<text x="68.9" y="33" font-size="8.8" text-anchor="start" fill="#1a1a1a" >Urea FE</text>
<text x="46.6" y="43.7" font-size="8.8" text-anchor="start" fill="#1a1a1a" >1 M KHCO<tspan dy="2.2" font-size="6.16">3</tspan><tspan dy="-2.2">+0.1 M KNO</tspan><tspan dy="2.2" font-size="6.16">3</tspan></text>
<text x="45.3" y="55.3" font-size="8.8" text-anchor="start" fill="#1a1a1a" >1 * 1 cm<tspan dy="-3.34" font-size="6.16">-2</tspan></text>
<text transform="translate(21.8 65.4) rotate(-90)" font-size="8.95" text-anchor="middle" fill="#cf3d49">Urea yield rate (mmoL h<tspan dy="-3.4" font-size="6.26">-1</tspan><tspan dy="3.4"> g</tspan><tspan dy="-3.4" font-size="6.26">-1</tspan><tspan dy="3.4">)</tspan></text>
<text transform="translate(293.3 68.8) rotate(-90)" font-size="8.9" text-anchor="middle" fill="#3f89b8">Urea FE (%)</text>
<text x="0.2" y="11.3" font-size="15" text-anchor="start" fill="#111" >a</text>
<line x1="329.4" y1="8.7" x2="469.6" y2="8.7" stroke="#666" stroke-width="1" />
<line x1="329.4" y1="121.8" x2="469.6" y2="121.8" stroke="#666" stroke-width="1" />
<line x1="329.4" y1="8.7" x2="329.4" y2="121.8" stroke="#666" stroke-width="1" />
<line x1="469.6" y1="8.7" x2="469.6" y2="121.8" stroke="#666" stroke-width="1" />
<line x1="326.8" y1="116.3" x2="329.4" y2="116.3" stroke="#666" stroke-width="1" />
<line x1="327.8" y1="102.86" x2="329.4" y2="102.86" stroke="#666" stroke-width="1" />
<line x1="326.8" y1="89.42" x2="329.4" y2="89.42" stroke="#666" stroke-width="1" />
<line x1="327.8" y1="75.98" x2="329.4" y2="75.98" stroke="#666" stroke-width="1" />
<line x1="326.8" y1="62.54" x2="329.4" y2="62.54" stroke="#666" stroke-width="1" />
<line x1="327.8" y1="49.1" x2="329.4" y2="49.1" stroke="#666" stroke-width="1" />
<line x1="326.8" y1="35.66" x2="329.4" y2="35.66" stroke="#666" stroke-width="1" />
<line x1="327.8" y1="22.22" x2="329.4" y2="22.22" stroke="#666" stroke-width="1" />
<line x1="326.8" y1="8.78" x2="329.4" y2="8.78" stroke="#666" stroke-width="1" />
<text x="326.6" y="119.5" font-size="9" text-anchor="end" fill="#222" >0</text>
<text x="326.6" y="92.62" font-size="9" text-anchor="end" fill="#222" >3</text>
<text x="326.6" y="65.74" font-size="9" text-anchor="end" fill="#222" >6</text>
<text x="326.6" y="38.86" font-size="9" text-anchor="end" fill="#222" >9</text>
<text x="326.6" y="11.98" font-size="9" text-anchor="end" fill="#222" >12</text>
<line x1="341.9" y1="121.8" x2="341.9" y2="124.2" stroke="#666" stroke-width="1" />
<line x1="353.47" y1="121.8" x2="353.47" y2="123.2" stroke="#666" stroke-width="1" />
<text x="341.9" y="131.5" font-size="8.8" text-anchor="middle" fill="#222" >10</text>
<line x1="365.05" y1="121.8" x2="365.05" y2="124.2" stroke="#666" stroke-width="1" />
<line x1="376.62" y1="121.8" x2="376.62" y2="123.2" stroke="#666" stroke-width="1" />
<text x="365.05" y="131.5" font-size="8.8" text-anchor="middle" fill="#222" >20</text>
<line x1="388.2" y1="121.8" x2="388.2" y2="124.2" stroke="#666" stroke-width="1" />
<line x1="399.77" y1="121.8" x2="399.77" y2="123.2" stroke="#666" stroke-width="1" />
<text x="388.2" y="131.5" font-size="8.8" text-anchor="middle" fill="#222" >30</text>
<line x1="411.35" y1="121.8" x2="411.35" y2="124.2" stroke="#666" stroke-width="1" />
<line x1="422.92" y1="121.8" x2="422.92" y2="123.2" stroke="#666" stroke-width="1" />
<text x="411.35" y="131.5" font-size="8.8" text-anchor="middle" fill="#222" >40</text>
<line x1="434.5" y1="121.8" x2="434.5" y2="124.2" stroke="#666" stroke-width="1" />
<line x1="446.07" y1="121.8" x2="446.07" y2="123.2" stroke="#666" stroke-width="1" />
<text x="434.5" y="131.5" font-size="8.8" text-anchor="middle" fill="#222" >50</text>
<line x1="457.65" y1="121.8" x2="457.65" y2="124.2" stroke="#666" stroke-width="1" />
<text x="457.65" y="131.5" font-size="8.8" text-anchor="middle" fill="#222" >60</text>
<line x1="329.4" y1="107.2" x2="469.6" y2="107.2" stroke="#555" stroke-width="1.3" />
<text x="334.2" y="115.5" font-size="7.4" text-anchor="start" fill="#222" >Market price</text>
<polyline points="341.9,28.9 365.05,83.9 388.2,99.7 411.35,104.7 434.5,107.3 457.65,83.2" fill="none" stroke="#3b5e78" stroke-width="0.9"/>
<circle cx="341.9" cy="28.9" r="2" fill="#2a4f6a"/>
<circle cx="365.05" cy="83.9" r="2" fill="#2a4f6a"/>
<circle cx="388.2" cy="99.7" r="2" fill="#2a4f6a"/>
<circle cx="411.35" cy="104.7" r="2" fill="#2a4f6a"/>
<circle cx="434.5" cy="107.3" r="2" fill="#2a4f6a"/>
<circle cx="457.65" cy="83.2" r="2" fill="#2a4f6a"/>
<polyline points="341.9,36.5 365.05,90.8 388.2,105.2 411.35,111 434.5,114.9 457.65,93.7" fill="none" stroke="#dd4a55" stroke-width="0.9"/>
<circle cx="341.9" cy="36.5" r="2" fill="#d8414c"/>
<circle cx="365.05" cy="90.8" r="2" fill="#d8414c"/>
<circle cx="388.2" cy="105.2" r="2" fill="#d8414c"/>
<circle cx="411.35" cy="111" r="2" fill="#d8414c"/>
<circle cx="434.5" cy="114.9" r="2" fill="#d8414c"/>
<circle cx="457.65" cy="93.7" r="2" fill="#d8414c"/>
<line x1="396.8" y1="16.2" x2="416.7" y2="16.2" stroke="#7d9bb0" stroke-width="1" />
<circle cx="406.8" cy="16.2" r="2" fill="#2a4f6a"/>
<text x="419.8" y="18.6" font-size="8.6" text-anchor="start" fill="#222" >$0.03 kWh<tspan dy="-3.27" font-size="6.02">-1</tspan></text>
<line x1="396.8" y1="28.2" x2="416.7" y2="28.2" stroke="#dd4a55" stroke-width="1" />
<circle cx="406.8" cy="28.2" r="2" fill="#d8414c"/>
<text x="419.8" y="31.3" font-size="8.6" text-anchor="start" fill="#222" >$0.01 kWh<tspan dy="-3.27" font-size="6.02">-1</tspan></text>
<text x="398.8" y="139.2" font-size="9.05" text-anchor="middle" fill="#222" >Current density (mA cm<tspan dy="-3.44" font-size="6.33">-2</tspan><tspan dy="3.4">)</tspan></text>
<text transform="translate(317.1 64.0) rotate(-90)" font-size="8.9" text-anchor="middle" fill="#222">Cost ($ kg<tspan dy="-3.38" font-size="6.23">-1</tspan><tspan dy="3.4">)</tspan></text>
<text x="300.2" y="11.3" font-size="13.9" text-anchor="start" fill="#111" >b</text>
<rect x="519.3" y="9.5" width="139.4" height="0.5" fill="url(#h0)" shape-rendering="crispEdges"/>
<rect x="519.3" y="10" width="139.4" height="1" fill="url(#h1)" shape-rendering="crispEdges"/>
<rect x="519.3" y="11" width="139.4" height="1" fill="url(#h2)" shape-rendering="crispEdges"/>
<rect x="519.3" y="12" width="139.4" height="1" fill="url(#h3)" shape-rendering="crispEdges"/>
<rect x="519.3" y="13" width="139.4" height="1" fill="url(#h4)" shape-rendering="crispEdges"/>
<rect x="519.3" y="14" width="139.4" height="1" fill="url(#h5)" shape-rendering="crispEdges"/>
<rect x="519.3" y="15" width="139.4" height="1" fill="url(#h6)" shape-rendering="crispEdges"/>
<rect x="519.3" y="16" width="139.4" height="1" fill="url(#h7)" shape-rendering="crispEdges"/>
<rect x="519.3" y="17" width="139.4" height="1" fill="url(#h8)" shape-rendering="crispEdges"/>
<rect x="519.3" y="18" width="139.4" height="1" fill="url(#h9)" shape-rendering="crispEdges"/>
<rect x="519.3" y="19" width="139.4" height="1" fill="url(#h10)" shape-rendering="crispEdges"/>
<rect x="519.3" y="20" width="139.4" height="1" fill="url(#h11)" shape-rendering="crispEdges"/>
<rect x="519.3" y="21" width="139.4" height="1" fill="url(#h12)" shape-rendering="crispEdges"/>
<rect x="519.3" y="22" width="139.4" height="1" fill="url(#h13)" shape-rendering="crispEdges"/>
<rect x="519.3" y="23" width="139.4" height="1" fill="url(#h14)" shape-rendering="crispEdges"/>
<rect x="519.3" y="24" width="139.4" height="1" fill="url(#h15)" shape-rendering="crispEdges"/>
<rect x="519.3" y="25" width="139.4" height="1" fill="url(#h16)" shape-rendering="crispEdges"/>
<rect x="519.3" y="26" width="139.4" height="1" fill="url(#h17)" shape-rendering="crispEdges"/>
<rect x="519.3" y="27" width="139.4" height="1" fill="url(#h18)" shape-rendering="crispEdges"/>
<rect x="519.3" y="28" width="139.4" height="1" fill="url(#h19)" shape-rendering="crispEdges"/>
<rect x="519.3" y="29" width="139.4" height="1" fill="url(#h20)" shape-rendering="crispEdges"/>
<rect x="519.3" y="30" width="139.4" height="1" fill="url(#h21)" shape-rendering="crispEdges"/>
<rect x="519.3" y="31" width="139.4" height="1" fill="url(#h22)" shape-rendering="crispEdges"/>
<rect x="519.3" y="32" width="139.4" height="1" fill="url(#h23)" shape-rendering="crispEdges"/>
<rect x="519.3" y="33" width="139.4" height="1" fill="url(#h24)" shape-rendering="crispEdges"/>
<rect x="519.3" y="34" width="139.4" height="1" fill="url(#h25)" shape-rendering="crispEdges"/>
<rect x="519.3" y="35" width="139.4" height="1" fill="url(#h26)" shape-rendering="crispEdges"/>
<rect x="519.3" y="36" width="139.4" height="1" fill="url(#h27)" shape-rendering="crispEdges"/>
<rect x="519.3" y="37" width="139.4" height="1" fill="url(#h28)" shape-rendering="crispEdges"/>
<rect x="519.3" y="38" width="139.4" height="1" fill="url(#h29)" shape-rendering="crispEdges"/>
<rect x="519.3" y="39" width="139.4" height="1" fill="url(#h30)" shape-rendering="crispEdges"/>
<rect x="519.3" y="40" width="139.4" height="1" fill="url(#h31)" shape-rendering="crispEdges"/>
<rect x="519.3" y="41" width="139.4" height="1" fill="url(#h32)" shape-rendering="crispEdges"/>
<rect x="519.3" y="42" width="139.4" height="1" fill="url(#h33)" shape-rendering="crispEdges"/>
<rect x="519.3" y="43" width="139.4" height="1" fill="url(#h34)" shape-rendering="crispEdges"/>
<rect x="519.3" y="44" width="139.4" height="1" fill="url(#h35)" shape-rendering="crispEdges"/>
<rect x="519.3" y="45" width="139.4" height="1" fill="url(#h36)" shape-rendering="crispEdges"/>
<rect x="519.3" y="46" width="139.4" height="1" fill="url(#h37)" shape-rendering="crispEdges"/>
<rect x="519.3" y="47" width="139.4" height="1" fill="url(#h38)" shape-rendering="crispEdges"/>
<rect x="519.3" y="48" width="139.4" height="1" fill="url(#h39)" shape-rendering="crispEdges"/>
<rect x="519.3" y="49" width="139.4" height="1" fill="url(#h40)" shape-rendering="crispEdges"/>
<rect x="519.3" y="50" width="139.4" height="1" fill="url(#h41)" shape-rendering="crispEdges"/>
<rect x="519.3" y="51" width="139.4" height="1" fill="url(#h42)" shape-rendering="crispEdges"/>
<rect x="519.3" y="52" width="139.4" height="1" fill="url(#h43)" shape-rendering="crispEdges"/>
<rect x="519.3" y="53" width="139.4" height="1" fill="url(#h44)" shape-rendering="crispEdges"/>
<rect x="519.3" y="54" width="139.4" height="1" fill="url(#h45)" shape-rendering="crispEdges"/>
<rect x="519.3" y="55" width="139.4" height="1" fill="url(#h46)" shape-rendering="crispEdges"/>
<rect x="519.3" y="56" width="139.4" height="1" fill="url(#h47)" shape-rendering="crispEdges"/>
<rect x="519.3" y="57" width="139.4" height="1" fill="url(#h48)" shape-rendering="crispEdges"/>
<rect x="519.3" y="58" width="139.4" height="1" fill="url(#h49)" shape-rendering="crispEdges"/>
<rect x="519.3" y="59" width="139.4" height="1" fill="url(#h50)" shape-rendering="crispEdges"/>
<rect x="519.3" y="60" width="139.4" height="1" fill="url(#h51)" shape-rendering="crispEdges"/>
<rect x="519.3" y="61" width="139.4" height="1" fill="url(#h52)" shape-rendering="crispEdges"/>
<rect x="519.3" y="62" width="139.4" height="1" fill="url(#h53)" shape-rendering="crispEdges"/>
<rect x="519.3" y="63" width="139.4" height="1" fill="url(#h54)" shape-rendering="crispEdges"/>
<rect x="519.3" y="64" width="139.4" height="1" fill="url(#h55)" shape-rendering="crispEdges"/>
<rect x="519.3" y="65" width="139.4" height="1" fill="url(#h56)" shape-rendering="crispEdges"/>
<rect x="519.3" y="66" width="139.4" height="1" fill="url(#h57)" shape-rendering="crispEdges"/>
<rect x="519.3" y="67" width="139.4" height="1" fill="url(#h58)" shape-rendering="crispEdges"/>
<rect x="519.3" y="68" width="139.4" height="1" fill="url(#h59)" shape-rendering="crispEdges"/>
<rect x="519.3" y="69" width="139.4" height="1" fill="url(#h60)" shape-rendering="crispEdges"/>
<rect x="519.3" y="70" width="139.4" height="1" fill="url(#h61)" shape-rendering="crispEdges"/>
<rect x="519.3" y="71" width="139.4" height="1" fill="url(#h62)" shape-rendering="crispEdges"/>
<rect x="519.3" y="72" width="139.4" height="1" fill="url(#h63)" shape-rendering="crispEdges"/>
<rect x="519.3" y="73" width="139.4" height="1" fill="url(#h64)" shape-rendering="crispEdges"/>
<rect x="519.3" y="74" width="139.4" height="1" fill="url(#h65)" shape-rendering="crispEdges"/>
<rect x="519.3" y="75" width="139.4" height="1" fill="url(#h66)" shape-rendering="crispEdges"/>
<rect x="519.3" y="76" width="139.4" height="1" fill="url(#h67)" shape-rendering="crispEdges"/>
<rect x="519.3" y="77" width="139.4" height="1" fill="url(#h68)" shape-rendering="crispEdges"/>
<rect x="519.3" y="78" width="139.4" height="1" fill="url(#h69)" shape-rendering="crispEdges"/>
<rect x="519.3" y="79" width="139.4" height="1" fill="url(#h70)" shape-rendering="crispEdges"/>
<rect x="519.3" y="80" width="139.4" height="1" fill="url(#h71)" shape-rendering="crispEdges"/>
<rect x="519.3" y="81" width="139.4" height="1" fill="url(#h72)" shape-rendering="crispEdges"/>
<rect x="519.3" y="82" width="139.4" height="1" fill="url(#h73)" shape-rendering="crispEdges"/>
<rect x="519.3" y="83" width="139.4" height="1" fill="url(#h74)" shape-rendering="crispEdges"/>
<rect x="519.3" y="84" width="139.4" height="1" fill="url(#h75)" shape-rendering="crispEdges"/>
<rect x="519.3" y="85" width="139.4" height="1" fill="url(#h76)" shape-rendering="crispEdges"/>
<rect x="519.3" y="86" width="139.4" height="1" fill="url(#h77)" shape-rendering="crispEdges"/>
<rect x="519.3" y="87" width="139.4" height="1" fill="url(#h78)" shape-rendering="crispEdges"/>
<rect x="519.3" y="88" width="139.4" height="1" fill="url(#h79)" shape-rendering="crispEdges"/>
<rect x="519.3" y="89" width="139.4" height="1" fill="url(#h80)" shape-rendering="crispEdges"/>
<rect x="519.3" y="90" width="139.4" height="1" fill="url(#h81)" shape-rendering="crispEdges"/>
<rect x="519.3" y="91" width="139.4" height="1" fill="url(#h82)" shape-rendering="crispEdges"/>
<rect x="519.3" y="92" width="139.4" height="1" fill="url(#h83)" shape-rendering="crispEdges"/>
<rect x="519.3" y="93" width="139.4" height="1" fill="url(#h84)" shape-rendering="crispEdges"/>
<rect x="519.3" y="94" width="139.4" height="1" fill="url(#h85)" shape-rendering="crispEdges"/>
<rect x="519.3" y="95" width="139.4" height="1" fill="url(#h86)" shape-rendering="crispEdges"/>
<rect x="519.3" y="96" width="139.4" height="1" fill="url(#h87)" shape-rendering="crispEdges"/>
<rect x="519.3" y="97" width="139.4" height="1" fill="url(#h88)" shape-rendering="crispEdges"/>
<rect x="519.3" y="98" width="139.4" height="1" fill="url(#h89)" shape-rendering="crispEdges"/>
<rect x="519.3" y="99" width="139.4" height="1" fill="url(#h90)" shape-rendering="crispEdges"/>
<rect x="519.3" y="100" width="139.4" height="1" fill="url(#h91)" shape-rendering="crispEdges"/>
<rect x="519.3" y="101" width="139.4" height="1" fill="url(#h92)" shape-rendering="crispEdges"/>
<rect x="519.3" y="102" width="139.4" height="1" fill="url(#h93)" shape-rendering="crispEdges"/>
<rect x="519.3" y="103" width="139.4" height="1" fill="url(#h94)" shape-rendering="crispEdges"/>
<rect x="519.3" y="104" width="139.4" height="1" fill="url(#h95)" shape-rendering="crispEdges"/>
<rect x="519.3" y="105" width="139.4" height="1" fill="url(#h96)" shape-rendering="crispEdges"/>
<rect x="519.3" y="106" width="139.4" height="1" fill="url(#h97)" shape-rendering="crispEdges"/>
<rect x="519.3" y="107" width="139.4" height="1" fill="url(#h98)" shape-rendering="crispEdges"/>
<rect x="519.3" y="108" width="139.4" height="1" fill="url(#h99)" shape-rendering="crispEdges"/>
<rect x="519.3" y="109" width="139.4" height="1" fill="url(#h100)" shape-rendering="crispEdges"/>
<rect x="519.3" y="110" width="139.4" height="1" fill="url(#h101)" shape-rendering="crispEdges"/>
<rect x="519.3" y="111" width="139.4" height="1" fill="url(#h102)" shape-rendering="crispEdges"/>
<rect x="519.3" y="112" width="139.4" height="1" fill="url(#h103)" shape-rendering="crispEdges"/>
<rect x="519.3" y="113" width="139.4" height="1" fill="url(#h104)" shape-rendering="crispEdges"/>
<rect x="519.3" y="114" width="139.4" height="1" fill="url(#h105)" shape-rendering="crispEdges"/>
<rect x="519.3" y="115" width="139.4" height="1" fill="url(#h106)" shape-rendering="crispEdges"/>
<rect x="519.3" y="116" width="139.4" height="1" fill="url(#h107)" shape-rendering="crispEdges"/>
<rect x="519.3" y="117" width="139.4" height="1" fill="url(#h108)" shape-rendering="crispEdges"/>
<rect x="519.3" y="118" width="139.4" height="1" fill="url(#h109)" shape-rendering="crispEdges"/>
<rect x="519.3" y="119" width="139.4" height="1" fill="url(#h110)" shape-rendering="crispEdges"/>
<rect x="519.3" y="120" width="139.4" height="1" fill="url(#h111)" shape-rendering="crispEdges"/>
<rect x="519.3" y="121" width="139.4" height="1" fill="url(#h112)" shape-rendering="crispEdges"/>
<rect x="519.3" y="122" width="139.4" height="0.7" fill="url(#h113)" shape-rendering="crispEdges"/>
<rect x="659.4" y="9.5" width="8.9" height="113.2" fill="url(#cbar)" />
<line x1="658.7" y1="9.5" x2="658.7" y2="122.7" stroke="#444" stroke-width="1.3" />
<line x1="668.3" y1="9.5" x2="668.3" y2="122.7" stroke="#666" stroke-width="0.6" />
<line x1="668.3" y1="17.1" x2="670.3" y2="17.1" stroke="#666" stroke-width="0.8" />
<text x="673.5" y="20.2" font-size="8.6" text-anchor="start" fill="#222" >6</text>
<line x1="668.3" y1="34.5" x2="670.3" y2="34.5" stroke="#666" stroke-width="0.8" />
<text x="673.5" y="37.6" font-size="8.6" text-anchor="start" fill="#222" >3</text>
<line x1="668.3" y1="51.9" x2="670.3" y2="51.9" stroke="#666" stroke-width="0.8" />
<text x="673.5" y="55" font-size="8.6" text-anchor="start" fill="#222" >0</text>
<line x1="668.3" y1="69.3" x2="670.3" y2="69.3" stroke="#666" stroke-width="0.8" />
<text x="670.4" y="72.4" font-size="8.6" text-anchor="start" fill="#222" >-3</text>
<line x1="668.3" y1="86.7" x2="670.3" y2="86.7" stroke="#666" stroke-width="0.8" />
<text x="670.4" y="89.8" font-size="8.6" text-anchor="start" fill="#222" >-6</text>
<line x1="668.3" y1="104.1" x2="670.3" y2="104.1" stroke="#666" stroke-width="0.8" />
<text x="670.4" y="107.2" font-size="8.6" text-anchor="start" fill="#222" >-9</text>
<line x1="668.3" y1="121.5" x2="670.3" y2="121.5" stroke="#666" stroke-width="0.8" />
<text x="670.4" y="124.6" font-size="8.6" text-anchor="start" fill="#222" >-12</text>
<line x1="519.3" y1="9.5" x2="658.7" y2="9.5" stroke="#666" stroke-width="0.9" />
<line x1="519.3" y1="9.5" x2="519.3" y2="122.7" stroke="#666" stroke-width="0.9" />
<line x1="519.3" y1="122.7" x2="658.7" y2="122.7" stroke="#666" stroke-width="0.9" />
<line x1="516.9" y1="122.7" x2="519.3" y2="122.7" stroke="#666" stroke-width="0.9" />
<text x="516.3" y="125.9" font-size="9" text-anchor="end" fill="#222" >0</text>
<line x1="516.9" y1="94.4" x2="519.3" y2="94.4" stroke="#666" stroke-width="0.9" />
<text x="516.3" y="97.6" font-size="9" text-anchor="end" fill="#222" >5</text>
<line x1="516.9" y1="66.1" x2="519.3" y2="66.1" stroke="#666" stroke-width="0.9" />
<text x="516.3" y="69.3" font-size="9" text-anchor="end" fill="#222" >10</text>
<line x1="516.9" y1="37.8" x2="519.3" y2="37.8" stroke="#666" stroke-width="0.9" />
<text x="516.3" y="41" font-size="9" text-anchor="end" fill="#222" >15</text>
<line x1="516.9" y1="9.5" x2="519.3" y2="9.5" stroke="#666" stroke-width="0.9" />
<text x="516.3" y="12.7" font-size="9" text-anchor="end" fill="#222" >20</text>
<line x1="517.8" y1="108.55" x2="519.3" y2="108.55" stroke="#666" stroke-width="0.9" />
<line x1="517.8" y1="80.25" x2="519.3" y2="80.25" stroke="#666" stroke-width="0.9" />
<line x1="517.8" y1="51.95" x2="519.3" y2="51.95" stroke="#666" stroke-width="0.9" />
<line x1="517.8" y1="23.65" x2="519.3" y2="23.65" stroke="#666" stroke-width="0.9" />
<line x1="531.05" y1="122.7" x2="531.05" y2="124.2" stroke="#666" stroke-width="0.9" />
<line x1="545.2" y1="122.7" x2="545.2" y2="125.1" stroke="#666" stroke-width="0.9" />
<line x1="559.35" y1="122.7" x2="559.35" y2="124.2" stroke="#666" stroke-width="0.9" />
<line x1="573.5" y1="122.7" x2="573.5" y2="125.1" stroke="#666" stroke-width="0.9" />
<line x1="587.65" y1="122.7" x2="587.65" y2="124.2" stroke="#666" stroke-width="0.9" />
<line x1="601.8" y1="122.7" x2="601.8" y2="125.1" stroke="#666" stroke-width="0.9" />
<line x1="615.95" y1="122.7" x2="615.95" y2="124.2" stroke="#666" stroke-width="0.9" />
<line x1="630.1" y1="122.7" x2="630.1" y2="125.1" stroke="#666" stroke-width="0.9" />
<line x1="644.25" y1="122.7" x2="644.25" y2="124.2" stroke="#666" stroke-width="0.9" />
<line x1="658.4" y1="122.7" x2="658.4" y2="125.1" stroke="#666" stroke-width="0.9" />
<text x="545" y="133.6" font-size="9" text-anchor="middle" fill="#222" >20</text>
<text x="573.3" y="133.6" font-size="9" text-anchor="middle" fill="#222" >40</text>
<text x="601.7" y="133.6" font-size="9" text-anchor="middle" fill="#222" >60</text>
<text x="629.8" y="133.6" font-size="9" text-anchor="middle" fill="#222" >80</text>
<text x="658.7" y="133.6" font-size="9" text-anchor="middle" fill="#222" >100</text>
<text x="591.3" y="140.7" font-size="9.05" text-anchor="middle" fill="#222" >Current density (mA cm<tspan dy="-3.44" font-size="6.33">-2</tspan><tspan dy="3.4">)</tspan></text>
<text transform="translate(501.8 66.0) rotate(-90)" font-size="9.1" text-anchor="middle" fill="#222">Time (year)</text>
<text x="680.2" y="7" font-size="9" text-anchor="end" fill="#333" >FNPV (Million dollars)</text>
<polyline points="587.2,9.6 587.4,15 590,24.2 593.8,33.4 598.4,43.4 604.5,52.6 612.2,60.2 621.4,67.1 632.2,73.3 644.4,79.1 658.2,85.1" fill="none" stroke="#4a4a4a" stroke-width="1.1" stroke-dasharray="3 2.4"/>
<rect x="588.2" y="11.5" width="36" height="8.5" fill="#fff" fill-opacity="0"/>
<text x="589.5" y="18.5" font-size="8.8" text-anchor="start" fill="#222" >FNPV=0</text>
<text x="489.4" y="11.3" font-size="14.5" text-anchor="start" fill="#111" >c</text>
<text x="-0.4" y="174.3" font-size="15" text-anchor="start" fill="#111" >d</text>
<text x="187.7" y="171.8" font-size="9.9" text-anchor="middle" fill="#222" >Cost ($ kg<tspan dy="-3.76" font-size="6.93">-1</tspan><tspan dy="3.8"> urea)</tspan></text>
<line x1="130.6" y1="191.4" x2="253.9" y2="191.4" stroke="#444" stroke-width="1" />
<line x1="130.6" y1="189.2" x2="130.6" y2="191.4" stroke="#444" stroke-width="1" />
<text x="130.6" y="184.6" font-size="9.7" text-anchor="middle" fill="#222" >0.6</text>
<line x1="158.15" y1="189.2" x2="158.15" y2="191.4" stroke="#444" stroke-width="1" />
<text x="158.15" y="184.6" font-size="9.7" text-anchor="middle" fill="#222" >0.8</text>
<line x1="185.7" y1="189.2" x2="185.7" y2="191.4" stroke="#444" stroke-width="1" />
<text x="185.7" y="184.6" font-size="9.7" text-anchor="middle" fill="#222" >1.0</text>
<line x1="213.25" y1="189.2" x2="213.25" y2="191.4" stroke="#444" stroke-width="1" />
<text x="213.25" y="184.6" font-size="9.7" text-anchor="middle" fill="#222" >1.2</text>
<line x1="240.8" y1="189.2" x2="240.8" y2="191.4" stroke="#444" stroke-width="1" />
<text x="240.8" y="184.6" font-size="9.7" text-anchor="middle" fill="#222" >1.4</text>
<rect x="185.7" y="192.8" width="44.3" height="9.8" fill="#2a6d96" />
<rect x="142.9" y="205.1" width="43.4" height="9.8" fill="#e05662" />
<rect x="185.7" y="217.03" width="41.2" height="9.8" fill="#2a6d96" />
<rect x="142.9" y="229.33" width="43.4" height="9.8" fill="#e05662" />
<rect x="185.7" y="241.26" width="46.7" height="9.8" fill="#2a6d96" />
<rect x="158.8" y="253.56" width="27.5" height="9.8" fill="#e05662" />
<rect x="185.7" y="265.49" width="32.4" height="9.8" fill="#2a6d96" />
<rect x="154.3" y="277.79" width="32" height="9.8" fill="#e05662" />
<rect x="185.7" y="289.72" width="30.9" height="9.8" fill="#2a6d96" />
<rect x="156.1" y="302.02" width="30.2" height="9.8" fill="#e05662" />
<rect x="185.7" y="313.95" width="4.5" height="9.8" fill="#2a6d96" />
<rect x="182.5" y="326.25" width="3.8" height="9.8" fill="#e05662" />
<rect x="185.8" y="338.18" width="1.2" height="9.8" fill="#b4d2e8" />
<rect x="185.5" y="350.48" width="1.2" height="9.8" fill="#e2727c" />
<rect x="185.8" y="362.41" width="1.2" height="9.8" fill="#4a88b4" />
<rect x="185.5" y="374.71" width="1.2" height="9.8" fill="#eea2aa" />
<line x1="130.2" y1="215.7" x2="254" y2="215.7" stroke="#c4c4c4" stroke-width="0.9" stroke-dasharray="3.8 3.9"/>
<line x1="130.2" y1="239.9" x2="254" y2="239.9" stroke="#c4c4c4" stroke-width="0.9" stroke-dasharray="3.8 3.9"/>
<line x1="130.2" y1="264.1" x2="254" y2="264.1" stroke="#c4c4c4" stroke-width="0.9" stroke-dasharray="3.8 3.9"/>
<line x1="130.2" y1="288.3" x2="254" y2="288.3" stroke="#c4c4c4" stroke-width="0.9" stroke-dasharray="3.8 3.9"/>
<line x1="130.2" y1="312.5" x2="254" y2="312.5" stroke="#c4c4c4" stroke-width="0.9" stroke-dasharray="3.8 3.9"/>
<line x1="130.2" y1="336.7" x2="254" y2="336.7" stroke="#c4c4c4" stroke-width="0.9" stroke-dasharray="3.8 3.9"/>
<line x1="130.2" y1="360.9" x2="254" y2="360.9" stroke="#c4c4c4" stroke-width="0.9" stroke-dasharray="3.8 3.9"/>
<text x="7.9" y="204.1" font-size="9.85" text-anchor="start" fill="#222" >Voltage (2.01 V) ± 25%</text>
<text x="7.9" y="228.9" font-size="9.85" text-anchor="start" fill="#222" >Electricity cost ($0.03 kWh<tspan dy="-3.74" font-size="6.89">-1</tspan><tspan dy="3.75">) ± 25%</tspan></text>
<text x="7.9" y="252" font-size="9.85" text-anchor="start" fill="#222" >FE (43.73%) ± 25%</text>
<text x="7.9" y="275.6" font-size="9.85" text-anchor="start" fill="#222" >Equipment cost ($223853) ± 25%</text>
<text x="7.9" y="299.1" font-size="9.85" text-anchor="start" fill="#222" >Labor cost ($130000) ± 25%</text>
<text x="7.9" y="322.7" font-size="9.85" text-anchor="start" fill="#222" >Separation cost ($26576) ± 25%</text>
<text x="7.9" y="347" font-size="9.85" text-anchor="start" fill="#222" >Maintenance cost ($4477) ± 25%</text>
<text x="7.9" y="373.1" font-size="9.85" text-anchor="start" fill="#222" >H<tspan dy="2.46" font-size="6.89">2</tspan><tspan dy="-2.46">O cost ($5.046×10</tspan><tspan dy="-3.74" font-size="6.89">-4</tspan><tspan dy="3.75"> kg</tspan><tspan dy="-3.74" font-size="6.89">-1</tspan><tspan dy="3.75">) ± 25%</tspan></text>
<text x="217.8" y="393.5" font-size="9.9" text-anchor="middle" fill="#222" >$1.01 kg<tspan dy="-3.76" font-size="6.93">-1</tspan><tspan dy="3.8"> urea (Baseline)</tspan></text>
<text x="282.6" y="172.4" font-size="15" text-anchor="start" fill="#111" >e</text>
<rect x="316.1" y="177.8" width="46.1" height="166.2" fill="#c0c0c0" />
<rect x="392.4" y="177.8" width="46.1" height="48.4" fill="#1b3d52" />
<rect x="468.6" y="226.1" width="46.5" height="45.8" fill="#2a7399" />
<rect x="544.8" y="271.9" width="46.5" height="32.2" fill="#5aaad4" />
<rect x="621.3" y="303.7" width="46.3" height="40.3" fill="#c0c0c0" />
<line x1="300.6" y1="344" x2="682.9" y2="344" stroke="#222" stroke-width="1" />
<line x1="301.1" y1="344" x2="301.1" y2="347" stroke="#222" stroke-width="1" />
<line x1="377.36" y1="344" x2="377.36" y2="347" stroke="#222" stroke-width="1" />
<line x1="453.62" y1="344" x2="453.62" y2="347" stroke="#222" stroke-width="1" />
<line x1="529.88" y1="344" x2="529.88" y2="347" stroke="#222" stroke-width="1" />
<line x1="606.14" y1="344" x2="606.14" y2="347" stroke="#222" stroke-width="1" />
<line x1="682.4" y1="344" x2="682.4" y2="347" stroke="#222" stroke-width="1" />
<text x="335.9" y="171.7" font-size="10.0" text-anchor="middle" fill="#222" >US$1.008 kg<tspan dy="-3.8" font-size="7">-1</tspan></text>
<text x="418" y="174.6" font-size="10.0" text-anchor="middle" fill="#222" >US$-0.30 kg<tspan dy="-3.8" font-size="7">-1</tspan></text>
<text x="415.4" y="240.9" font-size="10.0" text-anchor="middle" fill="#222" >1.5 V voltage</text>
<text x="493.8" y="222.4" font-size="10.0" text-anchor="middle" fill="#222" >US$-0.28 kg<tspan dy="-3.8" font-size="7">-1</tspan></text>
<text x="493.6" y="285" font-size="10.0" text-anchor="middle" fill="#222" >US$0.01 kWh<tspan dy="-3.8" font-size="7">−1</tspan></text>
<text x="571.4" y="266.4" font-size="10.0" text-anchor="middle" fill="#222" >US$-0.16 kg<tspan dy="-3.8" font-size="7">-1</tspan></text>
<text x="570.2" y="314.7" font-size="10.0" text-anchor="middle" fill="#222" >FE: 85%</text>
<text x="646.9" y="300" font-size="10.0" text-anchor="middle" fill="#222" >US$0.24 kg<tspan dy="-3.8" font-size="7">-1</tspan></text>
<text x="332" y="356.9" font-size="10.25" text-anchor="middle" fill="#222" >Base case</text>
<text x="412.6" y="356.9" font-size="10.25" text-anchor="middle" fill="#222" >Improved</text>
<text x="412.6" y="369.4" font-size="10.25" text-anchor="middle" fill="#222" >electrolyser</text>
<text x="484" y="356.9" font-size="10.25" text-anchor="middle" fill="#222" >Lower</text>
<text x="484" y="369.4" font-size="10.25" text-anchor="middle" fill="#222" >sustainable</text>
<text x="484" y="381.9" font-size="10.25" text-anchor="middle" fill="#222" >electricity price</text>
<text x="568.2" y="356.9" font-size="10.25" text-anchor="middle" fill="#222" >Improved cell</text>
<text x="568.2" y="369.4" font-size="10.25" text-anchor="middle" fill="#222" >performance</text>
<text x="0.1" y="412.6" font-size="14.5" text-anchor="start" fill="#111" >f</text>
<line x1="33.4" y1="408.4" x2="35.8" y2="408.4" stroke="#1a1a1a" stroke-width="1" />
<text x="30.4" y="412.3" font-size="10.0" text-anchor="end" fill="#222" >0</text>
<line x1="33.4" y1="446" x2="35.8" y2="446" stroke="#1a1a1a" stroke-width="1" />
<text x="30.4" y="449.9" font-size="10.0" text-anchor="end" fill="#222" >-2</text>
<line x1="33.4" y1="483.6" x2="35.8" y2="483.6" stroke="#1a1a1a" stroke-width="1" />
<text x="30.4" y="487.5" font-size="10.0" text-anchor="end" fill="#222" >-4</text>
<line x1="33.4" y1="521.2" x2="35.8" y2="521.2" stroke="#1a1a1a" stroke-width="1" />
<text x="30.4" y="525.1" font-size="10.0" text-anchor="end" fill="#222" >-6</text>
<line x1="33.4" y1="558.8" x2="35.8" y2="558.8" stroke="#1a1a1a" stroke-width="1" />
<text x="30.4" y="562.7" font-size="10.0" text-anchor="end" fill="#222" >-8</text>
<line x1="35.8" y1="558.8" x2="35.8" y2="561.5" stroke="#1a1a1a" stroke-width="1" />
<text x="35.8" y="572.6" font-size="10.0" text-anchor="middle" fill="#222" >0</text>
<line x1="100.18" y1="558.8" x2="100.18" y2="561.5" stroke="#1a1a1a" stroke-width="1" />
<text x="100.18" y="572.6" font-size="10.0" text-anchor="middle" fill="#222" >2</text>
<line x1="164.56" y1="558.8" x2="164.56" y2="561.5" stroke="#1a1a1a" stroke-width="1" />
<text x="164.56" y="572.6" font-size="10.0" text-anchor="middle" fill="#222" >4</text>
<line x1="228.94" y1="558.8" x2="228.94" y2="561.5" stroke="#1a1a1a" stroke-width="1" />
<text x="228.94" y="572.6" font-size="10.0" text-anchor="middle" fill="#222" >6</text>
<line x1="293.32" y1="558.8" x2="293.32" y2="561.5" stroke="#1a1a1a" stroke-width="1" />
<text x="293.32" y="572.6" font-size="10.0" text-anchor="middle" fill="#222" >8</text>
<line x1="357.7" y1="558.8" x2="357.7" y2="561.5" stroke="#1a1a1a" stroke-width="1" />
<text x="357.7" y="572.6" font-size="10.0" text-anchor="middle" fill="#222" >10</text>
<line x1="422.08" y1="558.8" x2="422.08" y2="561.5" stroke="#1a1a1a" stroke-width="1" />
<text x="422.08" y="572.6" font-size="10.0" text-anchor="middle" fill="#222" >12</text>
<line x1="486.46" y1="558.8" x2="486.46" y2="561.5" stroke="#1a1a1a" stroke-width="1" />
<text x="486.46" y="572.6" font-size="10.0" text-anchor="middle" fill="#222" >14</text>
<line x1="550.84" y1="558.8" x2="550.84" y2="561.5" stroke="#1a1a1a" stroke-width="1" />
<text x="550.84" y="572.6" font-size="10.0" text-anchor="middle" fill="#222" >16</text>
<line x1="615.22" y1="558.8" x2="615.22" y2="561.5" stroke="#1a1a1a" stroke-width="1" />
<text x="615.22" y="572.6" font-size="10.0" text-anchor="middle" fill="#222" >18</text>
<line x1="679.6" y1="558.8" x2="679.6" y2="561.5" stroke="#1a1a1a" stroke-width="1" />
<text x="679.6" y="572.6" font-size="10.0" text-anchor="middle" fill="#222" >20</text>
<text x="357.7" y="584.4" font-size="10.3" text-anchor="middle" fill="#222" >Time (h)</text>
<text transform="translate(19.2 483.6) rotate(-90)" font-size="10.3" text-anchor="middle" fill="#222">Current (A)</text>
<text x="40" y="451" font-size="10.5" text-anchor="start" fill="#222" >Electrode area : 25 cm<tspan dy="-3.99" font-size="7.35">-2</tspan></text>
<text x="40" y="468.6" font-size="10.5" text-anchor="start" fill="#222" >in 1 M KHCO<tspan dy="2.62" font-size="7.35">3</tspan><tspan dy="-2.63">+0.1 M KNO</tspan><tspan dy="2.62" font-size="7.35">3</tspan></text>
<polygon points="267.5,437.5 276.4,437.8 276.2,546.2 267.8,546.6" fill="#d0d0d8"/>
<polygon points="267.5,437.5 276.4,437.8 276.4,440 267.5,440" fill="#dadae2"/>
<polygon points="248,536 256.5,536.5 267.8,546.6 259,547" fill="#d6d7df"/>
<polygon points="256.5,536.5 267.5,536.5 267.8,546.6" fill="#c9c9d1"/>
<polygon points="247.6,437.6 267.5,437.4 267.5,453 247.6,453" fill="#d9dae3"/>
<rect x="247.6" y="452" width="8.8" height="84.3" fill="#c9dbd6" />
<rect x="256.4" y="452" width="1.7" height="84.3" fill="#f2f1ee" />
<rect x="258.1" y="452" width="8.2" height="84.3" fill="#c4d8d3" />
<rect x="266.3" y="452" width="1.3" height="84.3" fill="#efeeea" />
<line x1="249" y1="447.3" x2="261.5" y2="447.3" stroke="#e0dad4" stroke-width="3.4" stroke-linecap="round"/>
<line x1="249" y1="446.3" x2="261.5" y2="446.3" stroke="#eeeae6" stroke-width="1" stroke-linecap="round"/>
<line x1="276.8" y1="446.5" x2="279.2" y2="446.5" stroke="#dcd6d0" stroke-width="2.6" stroke-linecap="round"/>
<line x1="276.8" y1="513" x2="278.5" y2="513" stroke="#d8d2cc" stroke-width="2.2" stroke-linecap="round"/>
<line x1="276.8" y1="528" x2="278.5" y2="528" stroke="#d8d2cc" stroke-width="2.2" stroke-linecap="round"/>
<polygon points="239.8,436.6 247.6,436.3 247.6,553.6 239.8,554.4" fill="#c7c7ce"/>
<polygon points="211,440.2 239.8,436.6 239.8,554.4 238.5,554.4 212.2,527.2" fill="url(#elf)"/>
<line x1="206" y1="448.4" x2="211.2" y2="448.4" stroke="#e6e2de" stroke-width="3" stroke-linecap="round"/>
<ellipse cx="212" cy="448.4" rx="2" ry="3.2" fill="#596170"/>
<line x1="226" y1="446.4" x2="231" y2="446.4" stroke="#e8e4e0" stroke-width="3.6" stroke-linecap="round"/>
<ellipse cx="231.8" cy="446.2" rx="2.6" ry="4" fill="#596170"/>
<line x1="215" y1="463.8" x2="221.5" y2="463.8" stroke="#e4e0dd" stroke-width="4.2" stroke-linecap="round"/>
<line x1="220.5" y1="466" x2="220.5" y2="476" stroke="#c4c2c6" stroke-width="1.6" />
<line x1="207.8" y1="515.2" x2="212.6" y2="515.2" stroke="#e4e0dd" stroke-width="3" stroke-linecap="round"/>
<ellipse cx="213.2" cy="515.2" rx="1.8" ry="2.8" fill="#596170"/>
<line x1="224.8" y1="518.6" x2="231.5" y2="518.6" stroke="#e4e0dd" stroke-width="4.2" stroke-linecap="round"/>
<line x1="229.8" y1="521" x2="229.8" y2="533" stroke="#c6c4c8" stroke-width="1.4" />
<line x1="227" y1="537.5" x2="232.2" y2="537.5" stroke="#e4e0dd" stroke-width="3.2" stroke-linecap="round"/>
<ellipse cx="233.3" cy="537.5" rx="1.9" ry="3" fill="#596170"/>
<rect x="318.9" y="440.9" width="27.2" height="56.9" fill="url(#bbg)" />
<path d="M340.5,440.9 L346.1,440.9 L346.1,450 Q343,444 340.5,440.9 Z" fill="#3c4048"/>
<rect x="320.8" y="460" width="23.4" height="36.8" fill="#aac5e0" rx="3"/>
<rect x="322.3" y="462" width="1.6" height="32" fill="#c4d6ea" />
<rect x="341.2" y="462" width="1.3" height="32" fill="#98b6d6" />
<path d="M324.2,485 L324.2,492 Q333,499.5 341.7,492 L341.7,485 Z" fill="url(#bpow)"/>
<ellipse cx="332.9" cy="484.9" rx="8.8" ry="5.2" fill="#ede8da"/>
<rect x="320.2" y="447.3" width="24.4" height="15.4" fill="url(#bcap)" />
<ellipse cx="332.4" cy="462.7" rx="12.2" ry="2" fill="#d4c9ab"/>
<ellipse cx="332.3" cy="447.3" rx="12.2" ry="4.3" fill="#ebdfbf"/>
<path d="M319.8,514.2 L320.19,514.2 L320.57,514.19 L320.96,514.19 L321.35,514.19 L321.73,514.18 L322.12,514.18 L322.5,514.18 L322.89,514.17 L323.28,514.17 L323.66,514.16 L324.05,514.16 L324.44,514.16 L324.82,514.15 L325.21,514.15 L325.6,514.14 L325.98,514.14 L326.37,514.13 L326.75,514.13 L327.14,514.12 L327.53,514.12 L327.91,514.11 L328.3,514.11 L328.69,514.1 L329.07,514.1 L329.46,514.09 L329.84,514.08 L330.23,514.08 L330.62,514.07 L331,514.07 L331.39,514.06 L331.78,514.05 L332.16,514.04 L332.55,514.04 L332.94,514.03 L333.32,514.02 L333.71,514.01 L334.09,514 L334.48,514 L334.87,513.99 L335.25,513.98 L335.64,513.97 L336.03,513.96 L336.41,513.95 L336.8,513.94 L337.19,513.93 L337.57,513.91 L337.96,513.9 L338.34,513.89 L338.73,513.88 L339.12,513.86 L339.5,513.85 L339.89,513.84 L340.28,513.82 L340.66,513.8 L341.05,513.79 L341.43,513.77 L341.82,513.75 L342.21,513.74 L342.59,513.72 L342.98,513.7 L343.37,513.68 L343.75,513.65 L344.14,513.63 L344.53,513.61 L344.91,513.58 L345.3,513.56 L345.68,513.53 L346.07,513.5 L346.46,513.47 L346.84,513.44 L347.23,513.41 L347.62,513.37 L348,513.33 L348.39,513.29 L348.77,513.25 L349.16,513.21 L349.55,513.16 L349.93,513.12 L350.32,513.06 L350.71,513.01 L351.09,512.95 L351.48,512.89 L351.87,512.82 L352.25,512.75 L352.64,512.68 L353.02,512.6 L353.41,512.51 L353.8,512.42 L354.18,512.32 L354.57,512.21 L354.96,512.1 L355.34,511.98 L355.73,511.84 L356.12,511.7 L356.5,511.54 L356.89,511.37 L357.27,511.18 L357.66,510.97 L358.05,510.75 L358.43,510.5 L358.82,510.23 L359.21,509.92 L359.59,509.59 L359.98,509.21 L360.37,508.79 L360.75,508.32 L361.14,507.8 L361.52,507.2 L361.91,506.52 L362.3,505.74 L362.68,504.85 L363.07,503.82 L363.4,502.81 L363.46,502.63 L363.5,502.48 L363.6,502.13 L363.7,501.78 L363.8,501.4 L363.84,501.24 L363.9,501.01 L364,500.61 L364.1,500.18 L364.2,499.74 L364.23,499.61 L364.3,499.28 L364.4,498.8 L364.5,498.3 L364.6,497.77 L364.61,497.69 L364.7,497.22 L364.8,496.65 L364.9,496.05 L365,495.43 L365,495.42 L365.1,494.78 L365.2,494.09 L365.3,493.38 L365.39,492.73 L365.4,492.63 L365.5,491.85 L365.6,491.03 L365.7,490.17 L365.77,489.51 L365.8,489.27 L365.9,488.33 L366,487.35 L366.1,486.33 L366.16,485.69 L366.2,485.25 L366.3,484.13 L366.4,482.96 L366.5,481.74 L366.55,481.15 L366.6,480.46 L366.7,479.13 L366.8,477.75 L366.9,476.31 L366.93,475.83 L367,474.82 L367.1,473.28 L367.2,471.68 L367.3,470.04 L367.32,469.72 L367.4,468.35 L367.5,466.62 L367.6,464.85 L367.7,463.05 L367.71,462.96 L367.8,461.23 L367.9,459.4 L368,457.58 L368.09,455.91 L368.1,455.76 L368.2,453.97 L368.3,452.23 L368.4,450.55 L368.48,449.29 L368.5,448.94 L368.6,447.44 L368.7,446.05 L368.8,444.81 L368.86,444.08 L368.9,443.71 L369,442.79 L369.1,442.06 L369.2,441.53 L369.25,441.34 L369.3,441.21 L369.4,441.1 L369.5,441.21 L369.6,441.53 L369.64,441.7 L369.7,442.06 L369.8,442.79 L369.9,443.71 L370,444.81 L370.02,445.08 L370.1,446.05 L370.2,447.44 L370.3,448.94 L370.4,450.55 L370.41,450.71 L370.5,452.23 L370.6,453.97 L370.7,455.76 L370.8,457.5 L370.8,457.58 L370.9,459.4 L371,461.23 L371.1,463.05 L371.18,464.53 L371.2,464.85 L371.3,466.62 L371.4,468.35 L371.5,470.04 L371.57,471.17 L371.6,471.68 L371.7,473.28 L371.8,474.82 L371.9,476.31 L371.95,477.11 L372,477.75 L372.1,479.13 L372.2,480.46 L372.3,481.74 L372.34,482.25 L372.4,482.96 L372.5,484.13 L372.6,485.25 L372.7,486.33 L372.73,486.61 L372.8,487.35 L372.9,488.33 L373,489.27 L373.1,490.17 L373.11,490.29 L373.2,491.03 L373.3,491.85 L373.4,492.63 L373.5,493.38 L373.5,493.38 L373.6,494.09 L373.7,494.78 L373.8,495.43 L373.89,495.97 L373.9,496.05 L374,496.65 L374.1,497.22 L374.2,497.77 L374.27,498.16 L374.3,498.3 L374.4,498.8 L374.5,499.28 L374.6,499.74 L374.66,500 L374.7,500.18 L374.8,500.61 L374.9,501.01 L375,501.4 L375.05,501.57 L375.1,501.78 L375.2,502.13 L375.3,502.48 L375.4,502.81 L375.43,502.92 L375.82,504.07 L376.2,505.06 L376.59,505.93 L376.98,506.68 L377.36,507.34 L377.75,507.92 L378.14,508.44 L378.52,508.89 L378.91,509.3 L379.3,509.67 L379.68,509.99 L380.07,510.29 L380.45,510.56 L380.84,510.8 L381.23,511.02 L381.61,511.22 L382,511.41 L382.39,511.57 L382.77,511.73 L383.16,511.87 L383.55,512 L383.93,512.13 L384.32,512.24 L384.7,512.34 L385.09,512.44 L385.48,512.53 L385.86,512.62 L386.25,512.7 L386.64,512.77 L387.02,512.84 L387.41,512.9 L387.79,512.96 L388.18,513.02 L388.57,513.08 L388.95,513.13 L389.34,513.17 L389.73,513.22 L390.11,513.26 L390.5,513.3 L390.89,513.34 L391.27,513.38 L391.66,513.41 L392.04,513.45 L392.43,513.48 L392.82,513.51 L393.2,513.54 L393.59,513.56 L393.98,513.59 L394.36,513.61 L394.75,513.64 L395.13,513.66 L395.52,513.68 L395.91,513.7 L396.29,513.72 L396.68,513.74 L397.07,513.76 L397.45,513.78 L397.84,513.79 L398.23,513.81 L398.61,513.82 L399,513.84 L399.38,513.85 L399.77,513.87 L400.16,513.88 L400.54,513.89 L400.93,513.9 L401.32,513.92 L401.7,513.93 L402.09,513.94 L402.48,513.95 L402.86,513.96 L403.25,513.97 L403.63,513.98 L404.02,513.99 L404.41,514 L404.79,514.01 L405.18,514.01 L405.57,514.02 L405.95,514.03 L406.34,514.04 L406.73,514.05 L407.11,514.05 L407.5,514.06 L407.88,514.07 L408.27,514.07 L408.66,514.08 L409.04,514.09 L409.43,514.09 L409.82,514.1 L410.2,514.1 L410.59,514.11 L410.97,514.11 L411.36,514.12 L411.75,514.12 L412.13,514.13 L412.52,514.13 L412.91,514.14 L413.29,514.14 L413.68,514.15 L414.07,514.15 L414.45,514.16 L414.84,514.16 L415.22,514.16 L415.61,514.17 L416,514.17 L416.38,514.18 L416.77,514.18 L417.16,514.18 L417.54,514.19 L417.93,514.19 L418.31,514.19 L418.7,514.2 L419.09,514.2 L419.47,514.2 L419.86,514.21 L420.25,514.21 L420.63,514.21 L421.02,514.21 L421.41,514.22 L421.79,514.22 L422.18,514.22 L422.56,514.23 L422.95,514.23 L423.34,514.23 L423.72,514.23 L424.11,514.23 L424.5,514.24 L424.88,514.24 L425.27,514.24 L425.66,514.24 L426.04,514.25 L426.43,514.25 L426.81,514.25 L427.2,514.25 L427.59,514.25 L427.97,514.26 L428.36,514.26 L428.75,514.26 L429.13,514.26 L429.52,514.26 L429.9,514.26 L430.29,514.27 L430.68,514.27 L431.06,514.27 L431.45,514.27 L431.84,514.27 L432.22,514.27 L432.61,514.28 L433,514.28 L433.38,514.28 L433.77,514.28 L434.15,514.28 L434.54,514.28 L434.93,514.28 L435.31,514.29 L435.7,514.29 L435.7,514.4 L319.8,514.4 Z" fill="url(#rpk)" stroke="none"/>
<path d="M319.8,514.2 L320.19,514.2 L320.57,514.19 L320.96,514.19 L321.35,514.19 L321.73,514.18 L322.12,514.18 L322.5,514.18 L322.89,514.17 L323.28,514.17 L323.66,514.16 L324.05,514.16 L324.44,514.16 L324.82,514.15 L325.21,514.15 L325.6,514.14 L325.98,514.14 L326.37,514.13 L326.75,514.13 L327.14,514.12 L327.53,514.12 L327.91,514.11 L328.3,514.11 L328.69,514.1 L329.07,514.1 L329.46,514.09 L329.84,514.08 L330.23,514.08 L330.62,514.07 L331,514.07 L331.39,514.06 L331.78,514.05 L332.16,514.04 L332.55,514.04 L332.94,514.03 L333.32,514.02 L333.71,514.01 L334.09,514 L334.48,514 L334.87,513.99 L335.25,513.98 L335.64,513.97 L336.03,513.96 L336.41,513.95 L336.8,513.94 L337.19,513.93 L337.57,513.91 L337.96,513.9 L338.34,513.89 L338.73,513.88 L339.12,513.86 L339.5,513.85 L339.89,513.84 L340.28,513.82 L340.66,513.8 L341.05,513.79 L341.43,513.77 L341.82,513.75 L342.21,513.74 L342.59,513.72 L342.98,513.7 L343.37,513.68 L343.75,513.65 L344.14,513.63 L344.53,513.61 L344.91,513.58 L345.3,513.56 L345.68,513.53 L346.07,513.5 L346.46,513.47 L346.84,513.44 L347.23,513.41 L347.62,513.37 L348,513.33 L348.39,513.29 L348.77,513.25 L349.16,513.21 L349.55,513.16 L349.93,513.12 L350.32,513.06 L350.71,513.01 L351.09,512.95 L351.48,512.89 L351.87,512.82 L352.25,512.75 L352.64,512.68 L353.02,512.6 L353.41,512.51 L353.8,512.42 L354.18,512.32 L354.57,512.21 L354.96,512.1 L355.34,511.98 L355.73,511.84 L356.12,511.7 L356.5,511.54 L356.89,511.37 L357.27,511.18 L357.66,510.97 L358.05,510.75 L358.43,510.5 L358.82,510.23 L359.21,509.92 L359.59,509.59 L359.98,509.21 L360.37,508.79 L360.75,508.32 L361.14,507.8 L361.52,507.2 L361.91,506.52 L362.3,505.74 L362.68,504.85 L363.07,503.82 L363.4,502.81 L363.46,502.63 L363.5,502.48 L363.6,502.13 L363.7,501.78 L363.8,501.4 L363.84,501.24 L363.9,501.01 L364,500.61 L364.1,500.18 L364.2,499.74 L364.23,499.61 L364.3,499.28 L364.4,498.8 L364.5,498.3 L364.6,497.77 L364.61,497.69 L364.7,497.22 L364.8,496.65 L364.9,496.05 L365,495.43 L365,495.42 L365.1,494.78 L365.2,494.09 L365.3,493.38 L365.39,492.73 L365.4,492.63 L365.5,491.85 L365.6,491.03 L365.7,490.17 L365.77,489.51 L365.8,489.27 L365.9,488.33 L366,487.35 L366.1,486.33 L366.16,485.69 L366.2,485.25 L366.3,484.13 L366.4,482.96 L366.5,481.74 L366.55,481.15 L366.6,480.46 L366.7,479.13 L366.8,477.75 L366.9,476.31 L366.93,475.83 L367,474.82 L367.1,473.28 L367.2,471.68 L367.3,470.04 L367.32,469.72 L367.4,468.35 L367.5,466.62 L367.6,464.85 L367.7,463.05 L367.71,462.96 L367.8,461.23 L367.9,459.4 L368,457.58 L368.09,455.91 L368.1,455.76 L368.2,453.97 L368.3,452.23 L368.4,450.55 L368.48,449.29 L368.5,448.94 L368.6,447.44 L368.7,446.05 L368.8,444.81 L368.86,444.08 L368.9,443.71 L369,442.79 L369.1,442.06 L369.2,441.53 L369.25,441.34 L369.3,441.21 L369.4,441.1 L369.5,441.21 L369.6,441.53 L369.64,441.7 L369.7,442.06 L369.8,442.79 L369.9,443.71 L370,444.81 L370.02,445.08 L370.1,446.05 L370.2,447.44 L370.3,448.94 L370.4,450.55 L370.41,450.71 L370.5,452.23 L370.6,453.97 L370.7,455.76 L370.8,457.5 L370.8,457.58 L370.9,459.4 L371,461.23 L371.1,463.05 L371.18,464.53 L371.2,464.85 L371.3,466.62 L371.4,468.35 L371.5,470.04 L371.57,471.17 L371.6,471.68 L371.7,473.28 L371.8,474.82 L371.9,476.31 L371.95,477.11 L372,477.75 L372.1,479.13 L372.2,480.46 L372.3,481.74 L372.34,482.25 L372.4,482.96 L372.5,484.13 L372.6,485.25 L372.7,486.33 L372.73,486.61 L372.8,487.35 L372.9,488.33 L373,489.27 L373.1,490.17 L373.11,490.29 L373.2,491.03 L373.3,491.85 L373.4,492.63 L373.5,493.38 L373.5,493.38 L373.6,494.09 L373.7,494.78 L373.8,495.43 L373.89,495.97 L373.9,496.05 L374,496.65 L374.1,497.22 L374.2,497.77 L374.27,498.16 L374.3,498.3 L374.4,498.8 L374.5,499.28 L374.6,499.74 L374.66,500 L374.7,500.18 L374.8,500.61 L374.9,501.01 L375,501.4 L375.05,501.57 L375.1,501.78 L375.2,502.13 L375.3,502.48 L375.4,502.81 L375.43,502.92 L375.82,504.07 L376.2,505.06 L376.59,505.93 L376.98,506.68 L377.36,507.34 L377.75,507.92 L378.14,508.44 L378.52,508.89 L378.91,509.3 L379.3,509.67 L379.68,509.99 L380.07,510.29 L380.45,510.56 L380.84,510.8 L381.23,511.02 L381.61,511.22 L382,511.41 L382.39,511.57 L382.77,511.73 L383.16,511.87 L383.55,512 L383.93,512.13 L384.32,512.24 L384.7,512.34 L385.09,512.44 L385.48,512.53 L385.86,512.62 L386.25,512.7 L386.64,512.77 L387.02,512.84 L387.41,512.9 L387.79,512.96 L388.18,513.02 L388.57,513.08 L388.95,513.13 L389.34,513.17 L389.73,513.22 L390.11,513.26 L390.5,513.3 L390.89,513.34 L391.27,513.38 L391.66,513.41 L392.04,513.45 L392.43,513.48 L392.82,513.51 L393.2,513.54 L393.59,513.56 L393.98,513.59 L394.36,513.61 L394.75,513.64 L395.13,513.66 L395.52,513.68 L395.91,513.7 L396.29,513.72 L396.68,513.74 L397.07,513.76 L397.45,513.78 L397.84,513.79 L398.23,513.81 L398.61,513.82 L399,513.84 L399.38,513.85 L399.77,513.87 L400.16,513.88 L400.54,513.89 L400.93,513.9 L401.32,513.92 L401.7,513.93 L402.09,513.94 L402.48,513.95 L402.86,513.96 L403.25,513.97 L403.63,513.98 L404.02,513.99 L404.41,514 L404.79,514.01 L405.18,514.01 L405.57,514.02 L405.95,514.03 L406.34,514.04 L406.73,514.05 L407.11,514.05 L407.5,514.06 L407.88,514.07 L408.27,514.07 L408.66,514.08 L409.04,514.09 L409.43,514.09 L409.82,514.1 L410.2,514.1 L410.59,514.11 L410.97,514.11 L411.36,514.12 L411.75,514.12 L412.13,514.13 L412.52,514.13 L412.91,514.14 L413.29,514.14 L413.68,514.15 L414.07,514.15 L414.45,514.16 L414.84,514.16 L415.22,514.16 L415.61,514.17 L416,514.17 L416.38,514.18 L416.77,514.18 L417.16,514.18 L417.54,514.19 L417.93,514.19 L418.31,514.19 L418.7,514.2 L419.09,514.2 L419.47,514.2 L419.86,514.21 L420.25,514.21 L420.63,514.21 L421.02,514.21 L421.41,514.22 L421.79,514.22 L422.18,514.22 L422.56,514.23 L422.95,514.23 L423.34,514.23 L423.72,514.23 L424.11,514.23 L424.5,514.24 L424.88,514.24 L425.27,514.24 L425.66,514.24 L426.04,514.25 L426.43,514.25 L426.81,514.25 L427.2,514.25 L427.59,514.25 L427.97,514.26 L428.36,514.26 L428.75,514.26 L429.13,514.26 L429.52,514.26 L429.9,514.26 L430.29,514.27 L430.68,514.27 L431.06,514.27 L431.45,514.27 L431.84,514.27 L432.22,514.27 L432.61,514.28 L433,514.28 L433.38,514.28 L433.77,514.28 L434.15,514.28 L434.54,514.28 L434.93,514.28 L435.31,514.29 L435.7,514.29" fill="none" stroke="#c42a36" stroke-width="1.1"/>
<line x1="319.8" y1="525.2" x2="435.7" y2="525.2" stroke="#8a8a8a" stroke-width="0.9" />
<line x1="319.8" y1="522.6" x2="319.8" y2="525.2" stroke="#8a8a8a" stroke-width="0.8" />
<line x1="336.55" y1="523.7" x2="336.55" y2="525.2" stroke="#8a8a8a" stroke-width="0.8" />
<line x1="353.3" y1="522.6" x2="353.3" y2="525.2" stroke="#8a8a8a" stroke-width="0.8" />
<line x1="370.05" y1="523.7" x2="370.05" y2="525.2" stroke="#8a8a8a" stroke-width="0.8" />
<line x1="386.8" y1="522.6" x2="386.8" y2="525.2" stroke="#8a8a8a" stroke-width="0.8" />
<line x1="403.55" y1="523.7" x2="403.55" y2="525.2" stroke="#8a8a8a" stroke-width="0.8" />
<line x1="420.3" y1="522.6" x2="420.3" y2="525.2" stroke="#8a8a8a" stroke-width="0.8" />
<line x1="437.05" y1="523.7" x2="437.05" y2="525.2" stroke="#8a8a8a" stroke-width="0.8" />
<text x="319.2" y="536.6" font-size="10.2" text-anchor="middle" fill="#222" >5.2</text>
<text x="352.9" y="536.6" font-size="10.2" text-anchor="middle" fill="#222" >5.4</text>
<text x="386" y="536.6" font-size="10.2" text-anchor="middle" fill="#222" >5.6</text>
<text x="419.7" y="536.6" font-size="10.2" text-anchor="middle" fill="#222" >5.8</text>
<text x="377.9" y="548.2" font-size="10.5" text-anchor="middle" fill="#222" >Chemical shift (ppm)</text>
<path d="M485.5,519.06 L485.99,519.33 L486.48,519.17 L486.96,519.38 L487.45,519.4 L487.94,518.9 L488.43,518.85 L488.91,519.59 L489.4,519.07 L489.89,519.05 L490.38,519.73 L490.86,519.26 L491.35,519.59 L491.84,519.27 L492.32,519.41 L492.81,518.97 L493.3,519.41 L493.79,519.62 L494.27,519.31 L494.76,519.5 L495.25,519.44 L495.74,518.89 L496.23,519.52 L496.71,519.37 L497.2,519.11 L497.69,518.86 L498.18,519.61 L498.66,519.26 L499.15,519.48 L499.64,519.62 L500.12,519.48 L500.61,519.66 L501.1,519.19 L501.59,519.55 L502.07,519.23 L502.56,519.67 L503.05,519.62 L503.54,518.92 L504.02,518.95 L504.51,519.02 L505,519.7 L505.49,519.22 L505.98,519.39 L506.46,519.1 L506.95,519.28 L507.44,519.17 L507.93,519.14 L508.41,519.35 L508.9,519.35 L509.39,519.63 L509.88,519.43 L510.36,519.65 L510.85,519.59 L511.34,519.71 L511.82,519.42 L512.31,518.96 L512.8,519.59 L513.29,519.68 L513.77,519.62 L514.26,519.32 L514.75,519.45 L515.24,518.99 L515.73,519.55 L516.21,519.31 L516.7,519.05 L517.19,518.85 L517.67,519.56 L518.16,519.68 L518.65,518.86 L519.14,519.5 L519.62,519.15 L520.11,518.91 L520.6,519.03 L521.09,519.45 L521.58,519.54 L522.06,518.79 L522.55,519.3 L523.04,518.78 L523.52,519.38 L524.01,519.02 L524.5,519.51 L524.99,519.58 L525.48,519.14 L525.96,519.58 L526.45,518.94 L526.94,518.71 L527.42,519.17 L527.91,518.63 L528.4,518.76 L528.89,518.92 L529.38,519.06 L529.86,518.61 L530.35,518.46 L530.84,519.14 L531.33,518.57 L531.81,519.06 L532.3,518.89 L532.79,518.28 L533.27,518.15 L533.76,517.94 L534.25,517.68 L534.74,517.09 L535.23,516.21 L535.71,514.87 L536.2,512.6 L536.5,509.45 L536.55,508.85 L536.6,508.19 L536.65,507.47 L536.69,506.89 L536.7,506.68 L536.75,505.82 L536.8,504.87 L536.85,503.83 L536.9,502.68 L536.95,501.41 L537,500 L537.05,498.44 L537.1,496.7 L537.15,494.78 L537.17,493.67 L537.2,492.63 L537.25,490.24 L537.3,487.58 L537.35,484.63 L537.4,481.36 L537.45,477.75 L537.5,473.8 L537.55,469.52 L537.6,464.95 L537.65,460.15 L537.66,459.13 L537.7,455.25 L537.75,450.43 L537.8,445.91 L537.85,441.95 L537.9,438.86 L537.95,436.88 L538,436.2 L538.05,436.88 L538.1,438.86 L538.15,441.72 L538.15,441.95 L538.2,445.91 L538.25,450.43 L538.3,455.25 L538.35,460.15 L538.4,464.95 L538.45,469.52 L538.5,473.8 L538.55,477.75 L538.6,481.36 L538.64,483.66 L538.65,484.63 L538.7,487.58 L538.75,490.24 L538.8,492.63 L538.85,494.78 L538.9,496.7 L538.95,498.44 L539,500 L539.05,501.41 L539.1,502.68 L539.12,503.7 L539.15,503.83 L539.2,504.87 L539.25,505.82 L539.3,506.68 L539.35,507.47 L539.4,508.19 L539.45,508.85 L539.5,509.45 L539.61,510.66 L540.1,514.01 L540.59,515.27 L541.08,516.65 L541.56,517.44 L542.05,517.36 L542.54,518.2 L543.02,518.44 L543.51,518.08 L544,518.72 L544.49,518.68 L544.98,518.95 L545.46,518.72 L545.95,519.09 L546.44,519.16 L546.92,518.56 L547.41,518.62 L547.9,519.2 L548.39,519.48 L548.88,518.86 L549.36,519.07 L549.85,519.2 L550.34,518.97 L550.83,519.03 L551.31,518.99 L551.8,519.05 L552.29,519.26 L552.77,519.01 L553.26,519.08 L553.75,519.44 L554.24,518.78 L554.73,519.27 L555.21,519.43 L555.7,519.05 L556.19,518.97 L556.67,519.5 L557.16,519 L557.65,518.95 L558.14,519.18 L558.62,519.42 L559.11,518.89 L559.6,519.09 L560.09,519.1 L560.58,519.55 L561.06,519.2 L561.55,519.57 L562.04,518.96 L562.52,519.11 L563.01,519.4 L563.5,519.61 L563.99,519.22 L564.48,519.02 L564.96,518.92 L565.45,519.29 L565.94,518.99 L566.42,519.54 L566.91,519.57 L567.4,518.99 L567.89,519.07 L568.38,519.55 L568.86,519.4 L569.35,519.55 L569.84,519.14 L570.33,518.94 L570.81,519.09 L571.3,519.54 L571.79,519.07 L572.27,519.14 L572.76,519.2 L573.25,519.21 L573.74,519.2 L574.23,519.66 L574.71,518.97 L575.2,518.84 L575.69,519.68 L576.17,519.62 L576.66,519.72 L577.15,519.22 L577.64,519.69 L578.12,519.67 L578.61,519.03 L579.1,519.51 L579.59,519.59 L580.08,519.43 L580.56,519.3 L581.05,519.1 L581.54,519.14 L582.02,519.04 L582.51,518.9 L583,519.37 L583.49,519.1 L583.98,519.57 L584.46,518.88 L584.95,519.65 L585.44,519.46 L585.92,519.67 L586.41,519.65 L586.9,519.65 L587.39,519.36 L587.88,518.85 L588.36,519.51 L588.85,518.99 L589.34,519.11 L589.83,519.44 L590.31,519.31 L590.8,519.21 L591.29,519.69 L591.77,519.39 L592.26,519.15 L592.75,519.07 L593.24,519.62 L593.73,519.27 L594.21,519.55 L594.7,519.16 L595.19,519.02 L595.67,519.32 L596.16,519.58 L596.65,519 L597.14,519.56 L597.62,519.67 L598.11,519.57 L598.6,519.58 L599.09,518.85 L599.58,519.41 L600.06,519.62 L600.55,518.89 L601.04,519.09 L601.52,519.09 L602.01,519.32 L602.5,519.22 L602.5,519.3 L485.5,519.3 Z" fill="#a8e08e" stroke="none"/>
<path d="M485.5,519.06 L485.99,519.33 L486.48,519.17 L486.96,519.38 L487.45,519.4 L487.94,518.9 L488.43,518.85 L488.91,519.59 L489.4,519.07 L489.89,519.05 L490.38,519.73 L490.86,519.26 L491.35,519.59 L491.84,519.27 L492.32,519.41 L492.81,518.97 L493.3,519.41 L493.79,519.62 L494.27,519.31 L494.76,519.5 L495.25,519.44 L495.74,518.89 L496.23,519.52 L496.71,519.37 L497.2,519.11 L497.69,518.86 L498.18,519.61 L498.66,519.26 L499.15,519.48 L499.64,519.62 L500.12,519.48 L500.61,519.66 L501.1,519.19 L501.59,519.55 L502.07,519.23 L502.56,519.67 L503.05,519.62 L503.54,518.92 L504.02,518.95 L504.51,519.02 L505,519.7 L505.49,519.22 L505.98,519.39 L506.46,519.1 L506.95,519.28 L507.44,519.17 L507.93,519.14 L508.41,519.35 L508.9,519.35 L509.39,519.63 L509.88,519.43 L510.36,519.65 L510.85,519.59 L511.34,519.71 L511.82,519.42 L512.31,518.96 L512.8,519.59 L513.29,519.68 L513.77,519.62 L514.26,519.32 L514.75,519.45 L515.24,518.99 L515.73,519.55 L516.21,519.31 L516.7,519.05 L517.19,518.85 L517.67,519.56 L518.16,519.68 L518.65,518.86 L519.14,519.5 L519.62,519.15 L520.11,518.91 L520.6,519.03 L521.09,519.45 L521.58,519.54 L522.06,518.79 L522.55,519.3 L523.04,518.78 L523.52,519.38 L524.01,519.02 L524.5,519.51 L524.99,519.58 L525.48,519.14 L525.96,519.58 L526.45,518.94 L526.94,518.71 L527.42,519.17 L527.91,518.63 L528.4,518.76 L528.89,518.92 L529.38,519.06 L529.86,518.61 L530.35,518.46 L530.84,519.14 L531.33,518.57 L531.81,519.06 L532.3,518.89 L532.79,518.28 L533.27,518.15 L533.76,517.94 L534.25,517.68 L534.74,517.09 L535.23,516.21 L535.71,514.87 L536.2,512.6 L536.5,509.45 L536.55,508.85 L536.6,508.19 L536.65,507.47 L536.69,506.89 L536.7,506.68 L536.75,505.82 L536.8,504.87 L536.85,503.83 L536.9,502.68 L536.95,501.41 L537,500 L537.05,498.44 L537.1,496.7 L537.15,494.78 L537.17,493.67 L537.2,492.63 L537.25,490.24 L537.3,487.58 L537.35,484.63 L537.4,481.36 L537.45,477.75 L537.5,473.8 L537.55,469.52 L537.6,464.95 L537.65,460.15 L537.66,459.13 L537.7,455.25 L537.75,450.43 L537.8,445.91 L537.85,441.95 L537.9,438.86 L537.95,436.88 L538,436.2 L538.05,436.88 L538.1,438.86 L538.15,441.72 L538.15,441.95 L538.2,445.91 L538.25,450.43 L538.3,455.25 L538.35,460.15 L538.4,464.95 L538.45,469.52 L538.5,473.8 L538.55,477.75 L538.6,481.36 L538.64,483.66 L538.65,484.63 L538.7,487.58 L538.75,490.24 L538.8,492.63 L538.85,494.78 L538.9,496.7 L538.95,498.44 L539,500 L539.05,501.41 L539.1,502.68 L539.12,503.7 L539.15,503.83 L539.2,504.87 L539.25,505.82 L539.3,506.68 L539.35,507.47 L539.4,508.19 L539.45,508.85 L539.5,509.45 L539.61,510.66 L540.1,514.01 L540.59,515.27 L541.08,516.65 L541.56,517.44 L542.05,517.36 L542.54,518.2 L543.02,518.44 L543.51,518.08 L544,518.72 L544.49,518.68 L544.98,518.95 L545.46,518.72 L545.95,519.09 L546.44,519.16 L546.92,518.56 L547.41,518.62 L547.9,519.2 L548.39,519.48 L548.88,518.86 L549.36,519.07 L549.85,519.2 L550.34,518.97 L550.83,519.03 L551.31,518.99 L551.8,519.05 L552.29,519.26 L552.77,519.01 L553.26,519.08 L553.75,519.44 L554.24,518.78 L554.73,519.27 L555.21,519.43 L555.7,519.05 L556.19,518.97 L556.67,519.5 L557.16,519 L557.65,518.95 L558.14,519.18 L558.62,519.42 L559.11,518.89 L559.6,519.09 L560.09,519.1 L560.58,519.55 L561.06,519.2 L561.55,519.57 L562.04,518.96 L562.52,519.11 L563.01,519.4 L563.5,519.61 L563.99,519.22 L564.48,519.02 L564.96,518.92 L565.45,519.29 L565.94,518.99 L566.42,519.54 L566.91,519.57 L567.4,518.99 L567.89,519.07 L568.38,519.55 L568.86,519.4 L569.35,519.55 L569.84,519.14 L570.33,518.94 L570.81,519.09 L571.3,519.54 L571.79,519.07 L572.27,519.14 L572.76,519.2 L573.25,519.21 L573.74,519.2 L574.23,519.66 L574.71,518.97 L575.2,518.84 L575.69,519.68 L576.17,519.62 L576.66,519.72 L577.15,519.22 L577.64,519.69 L578.12,519.67 L578.61,519.03 L579.1,519.51 L579.59,519.59 L580.08,519.43 L580.56,519.3 L581.05,519.1 L581.54,519.14 L582.02,519.04 L582.51,518.9 L583,519.37 L583.49,519.1 L583.98,519.57 L584.46,518.88 L584.95,519.65 L585.44,519.46 L585.92,519.67 L586.41,519.65 L586.9,519.65 L587.39,519.36 L587.88,518.85 L588.36,519.51 L588.85,518.99 L589.34,519.11 L589.83,519.44 L590.31,519.31 L590.8,519.21 L591.29,519.69 L591.77,519.39 L592.26,519.15 L592.75,519.07 L593.24,519.62 L593.73,519.27 L594.21,519.55 L594.7,519.16 L595.19,519.02 L595.67,519.32 L596.16,519.58 L596.65,519 L597.14,519.56 L597.62,519.67 L598.11,519.57 L598.6,519.58 L599.09,518.85 L599.58,519.41 L600.06,519.62 L600.55,518.89 L601.04,519.09 L601.52,519.09 L602.01,519.32 L602.5,519.22" fill="none" stroke="#7acb58" stroke-width="1.1"/>
<line x1="485.5" y1="530.1" x2="602.5" y2="530.1" stroke="#8a8a8a" stroke-width="0.9" />
<line x1="485.5" y1="527.5" x2="485.5" y2="530.1" stroke="#8a8a8a" stroke-width="0.8" />
<line x1="514.75" y1="528.6" x2="514.75" y2="530.1" stroke="#8a8a8a" stroke-width="0.8" />
<line x1="544" y1="527.5" x2="544" y2="530.1" stroke="#8a8a8a" stroke-width="0.8" />
<line x1="573.25" y1="528.6" x2="573.25" y2="530.1" stroke="#8a8a8a" stroke-width="0.8" />
<line x1="602.5" y1="527.5" x2="602.5" y2="530.1" stroke="#8a8a8a" stroke-width="0.8" />
<text x="486.2" y="541.4" font-size="10.2" text-anchor="middle" fill="#222" >162</text>
<text x="543.6" y="541.4" font-size="10.2" text-anchor="middle" fill="#222" >160</text>
<text x="603" y="541.4" font-size="10.2" text-anchor="middle" fill="#222" >158</text>
<text x="544.7" y="552.9" font-size="10.5" text-anchor="middle" fill="#222" >Chemical shift (ppm)</text>
<text x="440.7" y="456.4" font-size="10.8" text-anchor="middle" fill="#111" >O</text>
<line x1="438.9" y1="457.8" x2="438.9" y2="470.9" stroke="#111" stroke-width="1.15" />
<line x1="442.3" y1="457.8" x2="442.3" y2="470.9" stroke="#111" stroke-width="1.15" />
<text x="440.6" y="480.2" font-size="10.8" text-anchor="middle" fill="#111" >C</text>
<line x1="437.6" y1="481.2" x2="428.6" y2="488.6" stroke="#111" stroke-width="1.25" />
<line x1="443.6" y1="481.2" x2="453.9" y2="489" stroke="#111" stroke-width="1.25" />
<text x="428.4" y="494.5" font-size="10.8" text-anchor="end" fill="#111" ><tspan fill="#d42a36">H<tspan dy="2.6" font-size="7.6">2</tspan></tspan><tspan dy="-2.6">N</tspan></text>
<text x="455" y="494.5" font-size="10.8" text-anchor="start" fill="#111" >N<tspan fill="#d42a36">H<tspan dy="2.6" font-size="7.6">2</tspan></tspan></text>
<text x="610.1" y="456.4" font-size="10.8" text-anchor="middle" fill="#111" >O</text>
<line x1="608.3" y1="457.8" x2="608.3" y2="470.9" stroke="#111" stroke-width="1.15" />
<line x1="611.7" y1="457.8" x2="611.7" y2="470.9" stroke="#111" stroke-width="1.15" />
<text x="610" y="480.2" font-size="10.8" text-anchor="middle" fill="#6cb04c" >C</text>
<line x1="607" y1="481.2" x2="598" y2="488.6" stroke="#111" stroke-width="1.25" />
<line x1="613" y1="481.2" x2="623.3" y2="489" stroke="#111" stroke-width="1.25" />
<text x="597.8" y="494.5" font-size="10.8" text-anchor="end" fill="#111" ><tspan fill="#111">H<tspan dy="2.6" font-size="7.6">2</tspan></tspan><tspan dy="-2.6">N</tspan></text>
<text x="624.4" y="494.5" font-size="10.8" text-anchor="start" fill="#111" >N<tspan fill="#111">H<tspan dy="2.6" font-size="7.6">2</tspan></tspan></text>
<g fill="#f4f7f9" stroke="#1d4a66" stroke-width="1.25"><circle cx="35.8" cy="434.5" r="1.95"/><circle cx="37.8" cy="434.43" r="1.95"/><circle cx="39.8" cy="434.35" r="1.95"/><circle cx="41.8" cy="434.28" r="1.95"/><circle cx="43.8" cy="434.21" r="1.95"/><circle cx="45.8" cy="434.14" r="1.95"/><circle cx="47.8" cy="434.08" r="1.95"/><circle cx="49.8" cy="434.01" r="1.95"/><circle cx="51.8" cy="433.94" r="1.95"/><circle cx="53.8" cy="433.87" r="1.95"/><circle cx="55.8" cy="433.81" r="1.95"/><circle cx="57.8" cy="433.74" r="1.95"/><circle cx="59.8" cy="433.68" r="1.95"/><circle cx="61.8" cy="433.61" r="1.95"/><circle cx="63.8" cy="433.55" r="1.95"/><circle cx="65.8" cy="433.49" r="1.95"/><circle cx="67.8" cy="433.42" r="1.95"/><circle cx="69.8" cy="433.36" r="1.95"/><circle cx="71.8" cy="433.3" r="1.95"/><circle cx="73.8" cy="433.24" r="1.95"/><circle cx="75.8" cy="433.18" r="1.95"/><circle cx="77.8" cy="433.12" r="1.95"/><circle cx="79.8" cy="433.06" r="1.95"/><circle cx="81.8" cy="433" r="1.95"/><circle cx="83.8" cy="432.95" r="1.95"/><circle cx="85.8" cy="432.89" r="1.95"/><circle cx="87.8" cy="432.83" r="1.95"/><circle cx="89.8" cy="432.78" r="1.95"/><circle cx="91.8" cy="432.72" r="1.95"/><circle cx="93.8" cy="432.66" r="1.95"/><circle cx="95.8" cy="432.61" r="1.95"/><circle cx="97.8" cy="432.56" r="1.95"/><circle cx="99.8" cy="432.5" r="1.95"/><circle cx="101.8" cy="432.45" r="1.95"/><circle cx="103.8" cy="432.4" r="1.95"/><circle cx="105.8" cy="432.34" r="1.95"/><circle cx="107.8" cy="432.29" r="1.95"/><circle cx="109.8" cy="432.24" r="1.95"/><circle cx="111.8" cy="432.19" r="1.95"/><circle cx="113.8" cy="432.14" r="1.95"/><circle cx="115.8" cy="432.09" r="1.95"/><circle cx="117.8" cy="432.04" r="1.95"/><circle cx="119.8" cy="431.99" r="1.95"/><circle cx="121.8" cy="431.94" r="1.95"/><circle cx="123.8" cy="431.9" r="1.95"/><circle cx="125.8" cy="431.85" r="1.95"/><circle cx="127.8" cy="431.8" r="1.95"/><circle cx="129.8" cy="431.76" r="1.95"/><circle cx="131.8" cy="431.71" r="1.95"/><circle cx="133.8" cy="431.66" r="1.95"/><circle cx="135.8" cy="431.62" r="1.95"/><circle cx="137.8" cy="431.57" r="1.95"/><circle cx="139.8" cy="431.53" r="1.95"/><circle cx="141.8" cy="431.49" r="1.95"/><circle cx="143.8" cy="431.44" r="1.95"/><circle cx="145.8" cy="431.4" r="1.95"/><circle cx="147.8" cy="431.36" r="1.95"/><circle cx="149.8" cy="431.32" r="1.95"/><circle cx="151.8" cy="431.27" r="1.95"/><circle cx="153.8" cy="431.23" r="1.95"/><circle cx="155.8" cy="431.19" r="1.95"/><circle cx="157.8" cy="431.15" r="1.95"/><circle cx="159.8" cy="431.11" r="1.95"/><circle cx="161.8" cy="431.07" r="1.95"/><circle cx="163.8" cy="431.03" r="1.95"/><circle cx="165.8" cy="430.99" r="1.95"/><circle cx="167.8" cy="430.95" r="1.95"/><circle cx="169.8" cy="430.91" r="1.95"/><circle cx="171.8" cy="430.88" r="1.95"/><circle cx="173.8" cy="430.84" r="1.95"/><circle cx="175.8" cy="430.8" r="1.95"/><circle cx="177.8" cy="430.76" r="1.95"/><circle cx="179.8" cy="430.73" r="1.95"/><circle cx="181.8" cy="430.69" r="1.95"/><circle cx="183.8" cy="430.66" r="1.95"/><circle cx="185.8" cy="430.62" r="1.95"/><circle cx="187.8" cy="430.58" r="1.95"/><circle cx="189.8" cy="430.55" r="1.95"/><circle cx="191.8" cy="430.51" r="1.95"/><circle cx="193.8" cy="430.48" r="1.95"/><circle cx="195.8" cy="430.45" r="1.95"/><circle cx="197.8" cy="430.41" r="1.95"/><circle cx="199.8" cy="430.38" r="1.95"/><circle cx="201.8" cy="430.35" r="1.95"/><circle cx="203.8" cy="430.31" r="1.95"/><circle cx="205.8" cy="430.28" r="1.95"/><circle cx="207.8" cy="430.25" r="1.95"/><circle cx="209.8" cy="430.22" r="1.95"/><circle cx="211.8" cy="430.19" r="1.95"/><circle cx="213.8" cy="430.16" r="1.95"/><circle cx="215.8" cy="430.12" r="1.95"/><circle cx="217.8" cy="430.09" r="1.95"/><circle cx="219.8" cy="430.06" r="1.95"/><circle cx="221.8" cy="430.03" r="1.95"/><circle cx="223.8" cy="430" r="1.95"/><circle cx="225.8" cy="429.97" r="1.95"/><circle cx="227.8" cy="429.95" r="1.95"/><circle cx="229.8" cy="429.92" r="1.95"/><circle cx="231.8" cy="429.89" r="1.95"/><circle cx="233.8" cy="429.86" r="1.95"/><circle cx="235.8" cy="429.83" r="1.95"/><circle cx="237.8" cy="429.8" r="1.95"/><circle cx="239.8" cy="429.78" r="1.95"/><circle cx="241.8" cy="429.75" r="1.95"/><circle cx="243.8" cy="429.72" r="1.95"/><circle cx="245.8" cy="429.7" r="1.95"/><circle cx="247.8" cy="429.67" r="1.95"/><circle cx="249.8" cy="429.64" r="1.95"/><circle cx="251.8" cy="429.62" r="1.95"/><circle cx="253.8" cy="429.59" r="1.95"/><circle cx="255.8" cy="429.57" r="1.95"/><circle cx="257.8" cy="429.54" r="1.95"/><circle cx="259.8" cy="429.51" r="1.95"/><circle cx="261.8" cy="429.49" r="1.95"/><circle cx="263.8" cy="429.47" r="1.95"/><circle cx="265.8" cy="429.44" r="1.95"/><circle cx="267.8" cy="429.42" r="1.95"/><circle cx="269.8" cy="429.39" r="1.95"/><circle cx="271.8" cy="429.37" r="1.95"/><circle cx="273.8" cy="429.35" r="1.95"/><circle cx="275.8" cy="429.32" r="1.95"/><circle cx="277.8" cy="429.3" r="1.95"/><circle cx="279.8" cy="429.28" r="1.95"/><circle cx="281.8" cy="429.25" r="1.95"/><circle cx="283.8" cy="429.23" r="1.95"/><circle cx="285.8" cy="429.21" r="1.95"/><circle cx="287.8" cy="429.19" r="1.95"/><circle cx="289.8" cy="429.17" r="1.95"/><circle cx="291.8" cy="429.15" r="1.95"/><circle cx="293.8" cy="429.12" r="1.95"/><circle cx="295.8" cy="429.1" r="1.95"/><circle cx="297.8" cy="429.08" r="1.95"/><circle cx="299.8" cy="429.06" r="1.95"/><circle cx="301.8" cy="429.04" r="1.95"/><circle cx="303.8" cy="429.02" r="1.95"/><circle cx="305.8" cy="429" r="1.95"/><circle cx="307.8" cy="428.98" r="1.95"/><circle cx="309.8" cy="428.96" r="1.95"/><circle cx="311.8" cy="428.94" r="1.95"/><circle cx="313.8" cy="428.92" r="1.95"/><circle cx="315.8" cy="428.9" r="1.95"/><circle cx="317.8" cy="428.88" r="1.95"/><circle cx="319.8" cy="428.87" r="1.95"/><circle cx="321.8" cy="428.85" r="1.95"/><circle cx="323.8" cy="428.83" r="1.95"/><circle cx="325.8" cy="428.81" r="1.95"/><circle cx="327.8" cy="428.79" r="1.95"/><circle cx="329.8" cy="428.77" r="1.95"/><circle cx="331.8" cy="428.76" r="1.95"/><circle cx="333.8" cy="428.74" r="1.95"/><circle cx="335.8" cy="428.72" r="1.95"/><circle cx="337.8" cy="428.7" r="1.95"/><circle cx="339.8" cy="428.69" r="1.95"/><circle cx="341.8" cy="428.67" r="1.95"/><circle cx="343.8" cy="428.65" r="1.95"/><circle cx="345.8" cy="428.64" r="1.95"/><circle cx="347.8" cy="428.62" r="1.95"/><circle cx="349.8" cy="428.6" r="1.95"/><circle cx="351.8" cy="428.59" r="1.95"/><circle cx="353.8" cy="428.57" r="1.95"/><circle cx="355.8" cy="428.56" r="1.95"/><circle cx="357.8" cy="428.54" r="1.95"/><circle cx="359.8" cy="428.52" r="1.95"/><circle cx="361.8" cy="428.51" r="1.95"/><circle cx="363.8" cy="428.49" r="1.95"/><circle cx="365.8" cy="428.48" r="1.95"/><circle cx="367.8" cy="428.46" r="1.95"/><circle cx="369.8" cy="428.45" r="1.95"/><circle cx="371.8" cy="428.43" r="1.95"/><circle cx="373.8" cy="428.42" r="1.95"/><circle cx="375.8" cy="428.41" r="1.95"/><circle cx="377.8" cy="428.39" r="1.95"/><circle cx="379.8" cy="428.38" r="1.95"/><circle cx="381.8" cy="428.36" r="1.95"/><circle cx="383.8" cy="428.35" r="1.95"/><circle cx="385.8" cy="428.34" r="1.95"/><circle cx="387.8" cy="428.32" r="1.95"/><circle cx="389.8" cy="428.31" r="1.95"/><circle cx="391.8" cy="428.29" r="1.95"/><circle cx="393.8" cy="428.28" r="1.95"/><circle cx="395.8" cy="428.27" r="1.95"/><circle cx="397.8" cy="428.26" r="1.95"/><circle cx="399.8" cy="428.24" r="1.95"/><circle cx="401.8" cy="428.23" r="1.95"/><circle cx="403.8" cy="428.22" r="1.95"/><circle cx="405.8" cy="428.2" r="1.95"/><circle cx="407.8" cy="428.19" r="1.95"/><circle cx="409.8" cy="428.18" r="1.95"/><circle cx="411.8" cy="428.17" r="1.95"/><circle cx="413.8" cy="428.16" r="1.95"/><circle cx="415.8" cy="428.14" r="1.95"/><circle cx="417.8" cy="428.13" r="1.95"/><circle cx="419.8" cy="428.12" r="1.95"/><circle cx="421.8" cy="428.11" r="1.95"/><circle cx="423.8" cy="428.1" r="1.95"/><circle cx="425.8" cy="428.09" r="1.95"/><circle cx="427.8" cy="428.07" r="1.95"/><circle cx="429.8" cy="428.06" r="1.95"/><circle cx="431.8" cy="428.05" r="1.95"/><circle cx="433.8" cy="428.04" r="1.95"/><circle cx="435.8" cy="428.03" r="1.95"/><circle cx="437.8" cy="428.02" r="1.95"/><circle cx="439.8" cy="428.01" r="1.95"/><circle cx="441.8" cy="428" r="1.95"/><circle cx="443.8" cy="427.99" r="1.95"/><circle cx="445.8" cy="427.98" r="1.95"/><circle cx="447.8" cy="427.97" r="1.95"/><circle cx="449.8" cy="427.96" r="1.95"/><circle cx="451.8" cy="427.95" r="1.95"/><circle cx="453.8" cy="427.94" r="1.95"/><circle cx="455.8" cy="427.93" r="1.95"/><circle cx="457.8" cy="427.92" r="1.95"/><circle cx="459.8" cy="427.91" r="1.95"/><circle cx="461.8" cy="427.9" r="1.95"/><circle cx="463.8" cy="427.89" r="1.95"/><circle cx="465.8" cy="427.88" r="1.95"/><circle cx="467.8" cy="427.87" r="1.95"/><circle cx="469.8" cy="427.86" r="1.95"/><circle cx="471.8" cy="427.85" r="1.95"/><circle cx="473.8" cy="427.84" r="1.95"/><circle cx="475.8" cy="427.83" r="1.95"/><circle cx="477.8" cy="427.83" r="1.95"/><circle cx="479.8" cy="427.82" r="1.95"/><circle cx="481.8" cy="427.81" r="1.95"/><circle cx="483.8" cy="427.8" r="1.95"/><circle cx="485.8" cy="427.79" r="1.95"/><circle cx="487.8" cy="427.78" r="1.95"/><circle cx="489.8" cy="427.77" r="1.95"/><circle cx="491.8" cy="427.77" r="1.95"/><circle cx="493.8" cy="427.76" r="1.95"/><circle cx="495.8" cy="427.75" r="1.95"/><circle cx="497.8" cy="427.74" r="1.95"/><circle cx="499.8" cy="427.73" r="1.95"/><circle cx="501.8" cy="427.73" r="1.95"/><circle cx="503.8" cy="427.72" r="1.95"/><circle cx="505.8" cy="427.71" r="1.95"/><circle cx="507.8" cy="427.7" r="1.95"/><circle cx="509.8" cy="427.7" r="1.95"/><circle cx="511.8" cy="427.69" r="1.95"/><circle cx="513.8" cy="427.68" r="1.95"/><circle cx="515.8" cy="427.67" r="1.95"/><circle cx="517.8" cy="427.67" r="1.95"/><circle cx="519.8" cy="427.66" r="1.95"/><circle cx="521.8" cy="427.65" r="1.95"/><circle cx="523.8" cy="427.64" r="1.95"/><circle cx="525.8" cy="427.64" r="1.95"/><circle cx="527.8" cy="427.63" r="1.95"/><circle cx="529.8" cy="427.62" r="1.95"/><circle cx="531.8" cy="427.62" r="1.95"/><circle cx="533.8" cy="427.61" r="1.95"/><circle cx="535.8" cy="427.6" r="1.95"/><circle cx="537.8" cy="427.6" r="1.95"/><circle cx="539.8" cy="427.59" r="1.95"/><circle cx="541.8" cy="427.58" r="1.95"/><circle cx="543.8" cy="427.58" r="1.95"/><circle cx="545.8" cy="427.57" r="1.95"/><circle cx="547.8" cy="427.56" r="1.95"/><circle cx="549.8" cy="427.56" r="1.95"/><circle cx="551.8" cy="427.55" r="1.95"/><circle cx="553.8" cy="427.54" r="1.95"/><circle cx="555.8" cy="427.54" r="1.95"/><circle cx="557.8" cy="427.53" r="1.95"/><circle cx="559.8" cy="427.53" r="1.95"/><circle cx="561.8" cy="427.52" r="1.95"/><circle cx="563.8" cy="427.51" r="1.95"/><circle cx="565.8" cy="427.51" r="1.95"/><circle cx="567.8" cy="427.5" r="1.95"/><circle cx="569.8" cy="427.5" r="1.95"/><circle cx="571.8" cy="427.49" r="1.95"/><circle cx="573.8" cy="427.49" r="1.95"/><circle cx="575.8" cy="427.48" r="1.95"/><circle cx="577.8" cy="427.48" r="1.95"/><circle cx="579.8" cy="427.47" r="1.95"/><circle cx="581.8" cy="427.46" r="1.95"/><circle cx="583.8" cy="427.46" r="1.95"/><circle cx="585.8" cy="427.45" r="1.95"/><circle cx="587.8" cy="427.45" r="1.95"/><circle cx="589.8" cy="427.44" r="1.95"/><circle cx="591.8" cy="427.44" r="1.95"/><circle cx="593.8" cy="427.43" r="1.95"/><circle cx="595.8" cy="427.43" r="1.95"/><circle cx="597.8" cy="427.42" r="1.95"/><circle cx="599.8" cy="427.42" r="1.95"/><circle cx="601.8" cy="427.41" r="1.95"/><circle cx="603.8" cy="427.41" r="1.95"/><circle cx="605.8" cy="427.4" r="1.95"/><circle cx="607.8" cy="427.4" r="1.95"/><circle cx="609.8" cy="427.39" r="1.95"/><circle cx="611.8" cy="427.39" r="1.95"/><circle cx="613.8" cy="427.38" r="1.95"/><circle cx="615.8" cy="427.38" r="1.95"/><circle cx="617.8" cy="427.38" r="1.95"/><circle cx="619.8" cy="427.37" r="1.95"/><circle cx="621.8" cy="427.37" r="1.95"/><circle cx="623.8" cy="427.36" r="1.95"/><circle cx="625.8" cy="427.36" r="1.95"/><circle cx="627.8" cy="427.35" r="1.95"/><circle cx="629.8" cy="427.35" r="1.95"/><circle cx="631.8" cy="427.34" r="1.95"/><circle cx="633.8" cy="427.34" r="1.95"/><circle cx="635.8" cy="427.34" r="1.95"/><circle cx="637.8" cy="427.33" r="1.95"/><circle cx="639.8" cy="427.33" r="1.95"/><circle cx="641.8" cy="427.32" r="1.95"/><circle cx="643.8" cy="427.32" r="1.95"/><circle cx="645.8" cy="427.32" r="1.95"/><circle cx="647.8" cy="427.31" r="1.95"/><circle cx="649.8" cy="427.31" r="1.95"/><circle cx="651.8" cy="427.3" r="1.95"/><circle cx="653.8" cy="427.3" r="1.95"/><circle cx="655.8" cy="427.3" r="1.95"/><circle cx="657.8" cy="427.29" r="1.95"/><circle cx="659.8" cy="427.29" r="1.95"/><circle cx="661.8" cy="427.29" r="1.95"/><circle cx="663.8" cy="427.28" r="1.95"/><circle cx="665.8" cy="427.28" r="1.95"/><circle cx="667.8" cy="427.27" r="1.95"/><circle cx="669.8" cy="427.27" r="1.95"/><circle cx="671.8" cy="427.27" r="1.95"/><circle cx="673.8" cy="427.26" r="1.95"/><circle cx="675.8" cy="427.26" r="1.95"/><circle cx="677.8" cy="427.26" r="1.95"/><circle cx="679.8" cy="427.25" r="1.95"/></g>
<rect x="35.8" y="408.4" width="643.8" height="150.4" fill="none" stroke="#1a1a1a" stroke-width="1.2"/>
</svg>
</body></html>
